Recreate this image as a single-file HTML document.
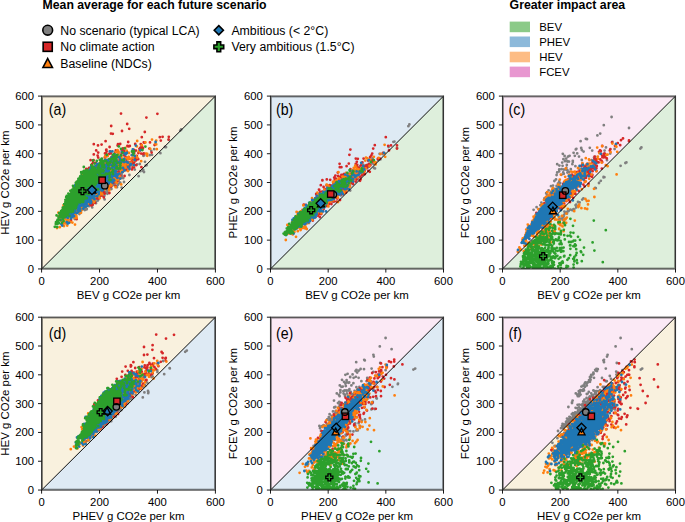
<!DOCTYPE html><html><head><meta charset="utf-8"><style>html,body{margin:0;padding:0;background:#fff;overflow:hidden}svg{display:block}</style></head><body>
<svg width="685" height="522" viewBox="0 0 685 522" font-family="Liberation Sans, sans-serif">
<text x="42.6" y="9" font-weight="bold" font-size="12.25">Mean average for each future scenario</text>
<text x="509.6" y="9" font-weight="bold" font-size="12.3">Greater impact area</text>
<circle cx="47.70" cy="30.20" r="4.90" fill="#7f7f7f" stroke="#000" stroke-width="1.6" stroke-linejoin="miter"/>
<text x="60.3" y="34.8" font-size="12.3">No scenario (typical LCA)</text>
<rect x="43.14" y="42.24" width="9.11" height="9.11" fill="#d62728" stroke="#000" stroke-width="1.6" stroke-linejoin="miter"/>
<text x="60.3" y="51.4" font-size="12.3">No climate action</text>
<path d="M47.70 58.50L52.45 67.50L42.95 67.50Z" fill="#ff7f0e" stroke="#000" stroke-width="1.6" stroke-linejoin="miter"/>
<text x="60.3" y="68.1" font-size="12.3">Baseline (NDCs)</text>
<path d="M218.80 25.62L223.38 30.20L218.80 34.78L214.22 30.20Z" fill="#1f77b4" stroke="#000" stroke-width="1.6" stroke-linejoin="miter"/>
<text x="231.4" y="34.8" font-size="12.3">Ambitious (&lt; 2°C)</text>
<path d="M216.94 41.90L220.66 41.90L220.66 44.94L223.70 44.94L223.70 48.66L220.66 48.66L220.66 51.70L216.94 51.70L216.94 48.66L213.90 48.66L213.90 44.94L216.94 44.94Z" fill="#2ca02c" stroke="#000" stroke-width="1.6" stroke-linejoin="miter"/>
<text x="231.4" y="51.4" font-size="12.3">Very ambitious (1.5°C)</text>
<rect x="509.7" y="21.6" width="20.3" height="10.6" fill="#8bca88"/>
<text x="539.2" y="31.2" font-size="11.4">BEV</text>
<rect x="509.7" y="36.5" width="20.3" height="10.6" fill="#8cb9da"/>
<text x="539.2" y="46.1" font-size="11.4">PHEV</text>
<rect x="509.7" y="51.7" width="20.3" height="10.6" fill="#fdbc84"/>
<text x="539.2" y="61.3" font-size="11.4">HEV</text>
<rect x="509.7" y="66.6" width="20.3" height="10.6" fill="#e897d0"/>
<text x="539.2" y="76.2" font-size="11.4">FCEV</text>
<clipPath id="ca"><rect x="41.60" y="96.10" width="173.80" height="172.85"/></clipPath>
<path d="M41.60 96.10L215.40 96.10L41.60 268.95Z" fill="#f9f1de"/>
<path d="M215.40 96.10L215.40 268.95L41.60 268.95Z" fill="#deefdc"/>
<g clip-path="url(#ca)"><g transform="scale(0.2)" fill="none" stroke-linecap="round" stroke-width="14"><path stroke="#7f7f7f" d="M354 1083h0m0 16h0m10-31h0m0 17h0m10 10h0m5-43h0m6-10h0m6 7h0m6 21h0m1-35h0m5-19h0m0 10h0m1 5h0m0 12h0m1 9h0m1-8h0m1-6h0m2 8h0m1-43h0m1 19h0m1-47h0m2 29h0m3 39h0m1-11h0m0 5h0m1-23h0m2 33h0m3 3h0m2-15h0m1-30h0m0 18h0m1-25h0m1 5h0m2-20h0m1 18h0m0 6h0m0 4h0m1 36h0m1-37h0m0 35h0m1-24h0m0 6h0m1-44h0m0 31h0m1-9h0m2-45h0m0 9h0m0 27h0m1 20h0m1-23h0m0 30h0m2-12h0m2 13h0m0 7h0m2-39h0m0 3h0m1 12h0m1-4h0m0 12h0m1-1h0m2-51h0m0 34h0m0 4h0m1-34h0m1 7h0m0 18h0m2 2h0m0 4h0m0 26h0m2-89h0m0 42h0m0 30h0m3-30h0m0 19h0m0 41h0m1-101h0m1 56h0m1 1h0m0 7h0m0 22h0m1-56h0m0 13h0m1 31h0m0 1h0m1-74h0m0 44h0m1-13h0m0 19h0m0 14h0m1-84h0m0 51h0m0 27h0m2-42h0m1 24h0m0 17h0m0 12h0m1-18h0m1-13h0m2-12h0m1 32h0m1-64h0m0 30h0m0 32h0m1 17h0m1-41h0m0 47h0m1-72h0m0 23h0m1-20h0m1-24h0m0 14h0m0 41h0m2 3h0m0 14h0m1-21h0m0 19h0m1-56h0m1 22h0m1 44h0m1-60h0m0 13h0m1-16h0m0 57h0m1-46h0m0 47h0m1-51h0m0 11h0m1-7h0m0 19h0m1-42h0m0 4h0m0 27h0m0 6h0m0 12h0m1-49h0m0 28h0m2-34h0m0 55h0m1-41h0m0 18h0m1 5h0m0 6h0m0 17h0m2-17h0m1-32h0m1 29h0m0 11h0m1-17h0m1-7h0m0 25h0m2-89h0m0 49h0m0 2h0m1-39h0m0 45h0m1-9h0m0 27h0m0 0h0m1-58h0m0 47h0m1-32h0m1-38h0m0 91h0m1-57h0m1 36h0m0 1h0m0 5h0m1-7h0m0 23h0m1-25h0m0 18h0m1-10h0m1-32h0m0 3h0m0 27h0m1-49h0m0 69h0m1-35h0m1-19h0m0 24h0m0 2h0m0 35h0m1-94h0m0 32h0m0 27h0m0 53h0m1-75h0m0 38h0m2-18h0m1 0h0m1-37h0m0 15h0m1 16h0m0 3h0m2 6h0m1-10h0m0 9h0m0 1h0m2-17h0m0 2h0m0 1h0m0 33h0m0 0h0m1-13h0m2-44h0m0 15h0m0 47h0m1-28h0m0 21h0m1-44h0m0 44h0m1-16h0m1-1h0m1-48h0m0 8h0m0 16h0m1-39h0m0 25h0m0 13h0m1 8h0m1-31h0m0 11h0m1-19h0m3-5h0m0 20h0m0 19h0m1 3h0m0 5h0m0 8h0m1 3h0m1-14h0m1-26h0m1 40h0m1-9h0m2 12h0m1-22h0m1 1h0m1-13h0m1-4h0m0 18h0m0 2h0m2-17h0m0 1h0m2-56h0m0 35h0m1 19h0m1-2h0m1-58h0m1 73h0m2-20h0m0 23h0m3-56h0m1-10h0m1 18h0m0 3h0m2 25h0m0 3h0m0 7h0m1-33h0m1 33h0m1-17h0m2-23h0m0 16h0m0 2h0m0 6h0m1-15h0m1 9h0m0 43h0m2-74h0m3 62h0m2-4h0m1-32h0m0 14h0m1-36h0m1 23h0m1-33h0m4-18h0m1 19h0m0 56h0m2-28h0m1-41h0m0 25h0m0 7h0m2-4h0m0 15h0m0 0h0m1-58h0m1 42h0m0 19h0m0 48h0m1-81h0m0 2h0m1 23h0m5-49h0m1 58h0m4 19h0m1-72h0m5-1h0m7 3h0m13-25h0m1 20h0m0 40h0m8-51h0m3-48h0m10 27h0m6-7h0m0 52h0m2-65h0m9 39h0m8 59h0m6-61h0m3 36h0m14-7h0m0 6h0m1-76h0m3 81h0m1-83h0m4 32h0m3 19h0m5-2h0m16-50h0m7-22h0m4 20h0m11-28h0m31 20h0m23-31h0m5 1h0m14-37h0m57-46h0m5-6h0"/><path stroke="#d62728" d="M344 1050h0m5-46h0m5 23h0m1 6h0m0 68h0m6-144h0m4 57h0m2-39h0m1 49h0m5-46h0m0 28h0m2 41h0m1-106h0m0 60h0m0 30h0m1-54h0m1 50h0m1-58h0m0 29h0m0 27h0m0 6h0m1-18h0m0 35h0m1-25h0m2-1h0m0 74h0m2-160h0m0 42h0m0 77h0m1-97h0m1 35h0m1 10h0m0 31h0m1-89h0m0 69h0m1 14h0m2 2h0m1-24h0m0 38h0m1-26h0m2-82h0m0 14h0m0 37h0m1-27h0m0 39h0m2-80h0m0 13h0m0 82h0m0 26h0m1-117h0m1 124h0m2-30h0m0 19h0m1-119h0m1 31h0m0 46h0m0 5h0m0 4h0m1-72h0m0 44h0m0 20h0m2 31h0m0 3h0m1-72h0m0 17h0m1 30h0m0 5h0m1-1h0m1-97h0m0 91h0m0 14h0m0 22h0m1-89h0m0 9h0m1-63h0m0 72h0m0 44h0m1-82h0m0 15h0m0 10h0m0 17h0m0 13h0m0 5h0m0 44h0m1-160h0m0 99h0m0 6h0m3 7h0m1-23h0m0 27h0m2-59h0m0 16h0m0 63h0m0 1h0m0 7h0m0 13h0m1-73h0m0 51h0m0 2h0m1-78h0m0 87h0m1-65h0m0 32h0m1-75h0m0 39h0m0 44h0m1-140h0m0 99h0m0 18h0m1-60h0m0 7h0m0 45h0m1-6h0m0 28h0m1-11h0m0 14h0m0 2h0m1-145h0m0 141h0m0 8h0m0 13h0m1-87h0m0 9h0m0 30h0m1-30h0m0 24h0m0 23h0m0 8h0m0 13h0m1-79h0m0 10h0m0 62h0m2-101h0m0 3h0m1-7h0m0 32h0m0 80h0m0 17h0m1-90h0m0 44h0m0 16h0m0 8h0m1-1h0m1-59h0m0 65h0m0 6h0m1-159h0m0 22h0m0 22h0m0 8h0m0 26h0m0 3h0m0 40h0m1-46h0m0 26h0m1-92h0m0 29h0m0 62h0m0 24h0m0 13h0m0 7h0m0 35h0m1-55h0m1-99h0m0 15h0m0 24h0m0 67h0m1-135h0m0 82h0m0 12h0m0 6h0m0 11h0m0 3h0m0 8h0m0 3h0m1-117h0m0 11h0m0 104h0m1 25h0m2-118h0m0 26h0m0 19h0m0 1h0m0 5h0m0 40h0m1-74h0m0 24h0m0 10h0m0 11h0m0 1h0m0 75h0m1-132h0m0 22h0m1-97h0m0 128h0m0 9h0m0 18h0m1-79h0m0 55h0m0 24h0m0 10h0m2-80h0m0 65h0m0 76h0m1-202h0m0 94h0m0 77h0m1-130h0m0 56h0m0 13h0m0 2h0m0 4h0m0 10h0m0 13h0m1-109h0m0 93h0m1-99h0m0 105h0m0 46h0m0 11h0m1-191h0m0 33h0m0 54h0m0 12h0m0 44h0m0 6h0m0 5h0m1-127h0m0 73h0m0 1h0m1-1h0m0 24h0m0 16h0m0 64h0m1-55h0m1-54h0m0 16h0m1-120h0m0 56h0m0 62h0m0 25h0m0 10h0m0 19h0m1-137h0m0 80h0m0 2h0m0 13h0m0 40h0m1-180h0m0 69h0m0 22h0m0 18h0m0 20h0m1-209h0m0 51h0m0 130h0m0 10h0m0 1h0m0 11h0m0 42h0m1-63h0m0 5h0m0 29h0m0 4h0m1-99h0m0 114h0m0 12h0m0 9h0m1-61h0m0 24h0m1-88h0m0 15h0m0 21h0m0 38h0m1-57h0m0 35h0m0 52h0m1-120h0m0 15h0m0 86h0m0 6h0m0 16h0m0 14h0m0 41h0m1-138h0m1 32h0m0 37h0m1-112h0m0 136h0m1-154h0m0 95h0m0 12h0m0 8h0m2-178h0m0 198h0m0 3h0m1-85h0m0 12h0m0 21h0m0 32h0m1-52h0m0 93h0m1-79h0m0 58h0m1-121h0m0 103h0m0 27h0m0 12h0m0 17h0m1-159h0m0 41h0m0 19h0m0 6h0m1 13h0m0 20h0m1-153h0m0 46h0m0 23h0m0 16h0m0 59h0m0 16h0m0 14h0m1-81h0m0 23h0m0 35h0m1-202h0m0 173h0m0 4h0m0 30h0m1-171h0m0 25h0m0 61h0m0 97h0m0 47h0m1-144h0m0 31h0m1-21h0m1 30h0m0 72h0m1-76h0m1-53h0m0 1h0m0 32h0m0 12h0m0 66h0m0 21h0m1-122h0m0 50h0m0 15h0m0 24h0m1-71h0m0 86h0m1-33h0m0 11h0m1-99h0m0 16h0m0 51h0m0 13h0m0 36h0m1-91h0m0 93h0m0 3h0m2-64h0m0 29h0m0 49h0m1-97h0m0 114h0m1-136h0m0 42h0m0 23h0m1-88h0m0 75h0m1 49h0m1-219h0m0 153h0m0 73h0m1-53h0m0 22h0m0 12h0m1 48h0m1-149h0m0 6h0m0 79h0m1-80h0m0 50h0m0 43h0m1-73h0m0 6h0m0 73h0m1-101h0m0 65h0m0 29h0m1-28h0m0 30h0m1-67h0m0 1h0m0 11h0m0 0h0m0 4h0m0 22h0m0 4h0m0 7h0m1-76h0m0 15h0m0 33h0m0 8h0m1-48h0m0 60h0m0 1h0m1-93h0m0 31h0m0 80h0m0 31h0m0 11h0m0 24h0m1-138h0m0 50h0m1-26h0m1-3h0m0 9h0m0 3h0m0 26h0m1-20h0m0 8h0m0 9h0m0 14h0m0 5h0m1-137h0m0 39h0m0 142h0m1-201h0m0 89h0m0 30h0m1 17h0m1-14h0m0 2h0m1-185h0m0 100h0m0 127h0m1-132h0m0 20h0m0 56h0m0 51h0m1-97h0m0 39h0m0 22h0m0 17h0m0 33h0m1-192h0m0 19h0m0 103h0m0 24h0m1-148h0m0 94h0m0 30h0m0 14h0m1-129h0m0 59h0m0 29h0m0 23h0m0 49h0m1-136h0m0 57h0m1 33h0m0 43h0m1-51h0m0 70h0m1-95h0m0 35h0m0 16h0m2 20h0m1-99h0m0 53h0m0 14h0m1-33h0m0 52h0m0 32h0m1-86h0m0 1h0m0 51h0m0 0h0m0 18h0m0 1h0m0 1h0m1 3h0m1-76h0m1-7h0m0 55h0m1-120h0m0 94h0m1 18h0m0 16h0m0 68h0m1-230h0m1 113h0m0 26h0m0 16h0m1-83h0m1 35h0m0 17h0m0 55h0m1-157h0m0 55h0m0 17h0m2 16h0m0 58h0m1-235h0m0 99h0m0 45h0m1-182h0m0 220h0m0 83h0m1-146h0m0 62h0m0 50h0m1 1h0m1-104h0m0 85h0m0 8h0m1-16h0m0 18h0m1-29h0m1-37h0m0 9h0m0 42h0m1 9h0m1-216h0m0 113h0m0 107h0m2-43h0m0 16h0m0 11h0m0 15h0m0 13h0m0 12h0m1-53h0m0 54h0m1-67h0m0 26h0m1 1h0m1-34h0m0 21h0m1-82h0m1 16h0m1 53h0m1-52h0m0 42h0m0 5h0m0 19h0m0 30h0m0 13h0m1-93h0m1-49h0m0 64h0m0 27h0m0 1h0m0 19h0m1-18h0m0 47h0m1-106h0m0 21h0m0 53h0m0 58h0m1-177h0m0 85h0m1-26h0m0 15h0m1-13h0m0 22h0m0 6h0m1-30h0m0 16h0m1 39h0m0 5h0m1-85h0m0 94h0m2-6h0m0 11h0m1-45h0m0 52h0m0 16h0m1-180h0m0 94h0m1 7h0m1-108h0m0 137h0m1-101h0m0 61h0m2-9h0m0 32h0m0 22h0m1-64h0m2 27h0m1 3h0m2-4h0m1 19h0m1-124h0m0 157h0m1-17h0m1-49h0m2-243h0m1 281h0m2-82h0m1-14h0m0 60h0m1-158h0m4 155h0m1-68h0m0 116h0m1-46h0m3 14h0m1 0h0m0 20h0m0 2h0m1-94h0m0 23h0m1-12h0m1 69h0m0 4h0m0 42h0m1-48h0m2-6h0m1-17h0m1 26h0m1-48h0m0 44h0m1-14h0m0 33h0m3-52h0m2-38h0m0 71h0m1-211h0m0 207h0m0 23h0m1-120h0m3 62h0m1-82h0m0 103h0m2-81h0m1 54h0m0 9h0m0 39h0m1 5h0m1-195h0m0 179h0m1 1h0m2-94h0m3 82h0m4-16h0m1 21h0m3-21h0m0 1h0m0 13h0m0 37h0m2-50h0m1-37h0m0 76h0m5-26h0m0 10h0m1-59h0m1-11h0m0 87h0m1-72h0m0 47h0m5-92h0m2 78h0m1-9h0m1-36h0m0 49h0m1 24h0m3-47h0m7 17h0m1-31h0m5-21h0m2 9h0m2-14h0m3-18h0m2 47h0m1 68h0m1-100h0m1-50h0m0 43h0m1 19h0m5-8h0m2 31h0m2-59h0m0 55h0m3-53h0m2-54h0m8-72h0m15 155h0m3-31h0m8 51h0m15-38h0m14-156h0m12 117h0m5 17h0m9-19h0m30 14h0m1-14h0"/><path stroke="#ff7f0e" d="M285 1140h0m7-77h0m2 18h0m3 9h0m2 46h0m9-51h0m0 20h0m2-9h0m5 24h0m3-94h0m0 10h0m2 17h0m0 77h0m2-77h0m1 27h0m0 32h0m1-54h0m1 15h0m1-19h0m1 26h0m0 15h0m1-52h0m0 74h0m3-68h0m2 52h0m2-55h0m1 5h0m0 77h0m2-90h0m1-52h0m0 42h0m0 52h0m1 3h0m1-30h0m0 27h0m0 1h0m0 24h0m1-43h0m0 17h0m0 17h0m2-57h0m0 17h0m1-37h0m0 91h0m1-69h0m1-64h0m1 73h0m0 0h0m0 19h0m2-19h0m0 32h0m0 2h0m2-52h0m0 38h0m1 40h0m1-91h0m1 31h0m1-15h0m0 7h0m0 15h0m1-89h0m0 62h0m2 50h0m1-92h0m0 27h0m0 30h0m0 20h0m1-34h0m1-61h0m0 12h0m0 74h0m0 57h0m1-86h0m0 46h0m0 8h0m1-94h0m0 41h0m1-29h0m0 40h0m1-42h0m0 2h0m0 2h0m0 22h0m0 59h0m1-62h0m0 5h0m0 17h0m1-46h0m0 11h0m0 0h0m0 16h0m0 5h0m0 2h0m2-49h0m0 31h0m1-40h0m0 88h0m1-33h0m0 46h0m1-111h0m0 76h0m1-38h0m0 1h0m0 9h0m0 23h0m0 25h0m1-50h0m0 16h0m0 34h0m0 31h0m0 34h0m1-139h0m0 26h0m0 54h0m1-89h0m2 66h0m0 25h0m1-80h0m0 6h0m0 30h0m0 29h0m0 27h0m1-113h0m0 58h0m0 17h0m1-52h0m0 51h0m0 42h0m1-58h0m0 66h0m1-91h0m0 26h0m1-13h0m0 33h0m0 10h0m1-76h0m0 14h0m0 17h0m0 8h0m1-46h0m1-56h0m0 70h0m0 27h0m0 11h0m1-81h0m0 20h0m0 20h0m0 33h0m0 26h0m0 19h0m1-132h0m0 41h0m0 18h0m0 4h0m0 11h0m0 13h0m0 15h0m0 1h0m1-60h0m0 31h0m0 2h0m0 8h0m0 13h0m0 9h0m0 8h0m1-68h0m2-33h0m0 70h0m1-53h0m0 52h0m0 32h0m1-107h0m0 67h0m0 9h0m0 6h0m0 10h0m0 5h0m1-100h0m0 31h0m0 18h0m0 3h0m1-50h0m0 38h0m1-48h0m0 38h0m0 16h0m1-47h0m0 47h0m0 9h0m0 5h0m0 31h0m0 12h0m1 28h0m1-82h0m0 28h0m0 14h0m0 37h0m1-75h0m0 27h0m0 0h0m1-79h0m0 8h0m0 59h0m1-64h0m0 21h0m0 16h0m0 13h0m0 78h0m1-63h0m0 0h0m0 8h0m0 0h0m0 32h0m1-118h0m0 28h0m0 25h0m0 3h0m0 4h0m0 24h0m1-85h0m0 103h0m0 26h0m1-86h0m0 29h0m0 5h0m0 27h0m1-94h0m0 32h0m0 21h0m0 18h0m1-37h0m0 9h0m0 21h0m0 6h0m0 37h0m1-79h0m0 4h0m0 8h0m0 40h0m0 0h0m0 20h0m1-83h0m0 6h0m0 44h0m0 28h0m0 8h0m1-85h0m0 22h0m0 4h0m0 19h0m1-71h0m0 72h0m1-81h0m0 21h0m0 10h0m0 3h0m1-76h0m0 50h0m0 24h0m0 62h0m1-59h0m0 12h0m0 9h0m1-9h0m0 22h0m0 8h0m0 33h0m1-70h0m0 64h0m0 17h0m1-64h0m0 20h0m0 8h0m0 1h0m0 31h0m1-121h0m0 8h0m0 49h0m0 26h0m1-91h0m0 87h0m0 15h0m0 14h0m1-86h0m0 23h0m0 13h0m0 11h0m1 11h0m0 1h0m1-78h0m0 19h0m0 8h0m0 9h0m0 30h0m0 10h0m0 33h0m1-50h0m1-73h0m0 46h0m0 40h0m0 21h0m0 9h0m0 17h0m0 2h0m1-95h0m0 8h0m0 56h0m1-80h0m0 8h0m0 3h0m0 16h0m0 4h0m0 2h0m0 20h0m0 12h0m1-61h0m0 3h0m0 14h0m0 43h0m0 9h0m0 10h0m1-39h0m0 8h0m0 26h0m1-71h0m0 4h0m0 16h0m1 75h0m1-89h0m0 22h0m0 1h0m0 5h0m0 6h0m0 3h0m0 7h0m0 10h0m0 12h0m1-97h0m0 30h0m0 8h0m0 19h0m0 20h0m0 6h0m0 15h0m0 3h0m0 8h0m1-103h0m0 14h0m0 33h0m1-37h0m0 7h0m0 13h0m0 3h0m0 18h0m1 30h0m0 27h0m1-116h0m0 6h0m0 39h0m0 16h0m0 7h0m0 24h0m1-140h0m0 25h0m0 47h0m0 24h0m1-76h0m0 33h0m0 32h0m0 1h0m0 8h0m1-81h0m0 13h0m0 22h0m0 26h0m0 37h0m0 14h0m1-57h0m0 20h0m0 11h0m0 13h0m1-98h0m0 33h0m0 1h0m0 7h0m0 2h0m0 44h0m0 21h0m0 3h0m0 25h0m1-113h0m0 50h0m0 8h0m0 4h0m0 7h0m1-79h0m0 81h0m1-92h0m0 35h0m0 37h0m1-94h0m0 111h0m0 6h0m0 18h0m1-102h0m0 18h0m0 33h0m0 13h0m0 32h0m1-41h0m0 9h0m1 37h0m1-53h0m0 7h0m0 23h0m0 32h0m1-47h0m0 13h0m1-105h0m0 28h0m0 40h0m0 68h0m1-53h0m0 13h0m0 24h0m1-80h0m0 32h0m0 44h0m1-45h0m0 21h0m0 8h0m0 0h0m0 17h0m0 3h0m1-116h0m0 15h0m0 50h0m0 49h0m0 9h0m1-74h0m0 15h0m0 20h0m0 9h0m0 1h0m1-90h0m0 65h0m0 7h0m0 14h0m0 2h0m1-23h0m0 18h0m0 10h0m1-44h0m0 27h0m0 7h0m0 23h0m0 1h0m0 13h0m1-141h0m0 55h0m0 20h0m0 10h0m0 76h0m1-143h0m0 84h0m0 14h0m0 8h0m0 8h0m1-82h0m0 19h0m0 70h0m0 3h0m1-39h0m0 16h0m0 5h0m1-97h0m0 41h0m1-9h0m0 19h0m0 14h0m0 40h0m0 38h0m1-110h0m0 4h0m0 33h0m0 10h0m1-24h0m0 63h0m1-105h0m0 11h0m0 5h0m0 17h0m0 11h0m1-77h0m0 23h0m0 42h0m0 88h0m2-151h0m0 47h0m0 33h0m0 31h0m1-86h0m0 61h0m1-8h0m0 3h0m1-34h0m0 7h0m0 77h0m1-96h0m0 13h0m0 59h0m0 4h0m1-61h0m0 27h0m0 41h0m1 6h0m1-72h0m1-27h0m0 23h0m0 22h0m3-15h0m0 27h0m1-41h0m0 52h0m1-69h0m0 10h0m0 35h0m0 37h0m1-120h0m0 38h0m0 60h0m1-80h0m0 36h0m0 11h0m0 23h0m0 52h0m1-10h0m1 13h0m1-86h0m0 33h0m1-81h0m0 55h0m0 11h0m0 9h0m0 29h0m1-131h0m0 25h0m0 39h0m0 40h0m1-33h0m0 6h0m0 8h0m0 1h0m0 9h0m0 30h0m1-22h0m1 52h0m1-130h0m0 22h0m0 10h0m0 24h0m0 24h0m0 2h0m0 7h0m0 28h0m0 30h0m1-134h0m1-45h0m0 74h0m0 50h0m1-29h0m0 51h0m1-109h0m0 10h0m0 50h0m2-28h0m0 55h0m1 3h0m0 6h0m1-36h0m0 1h0m1-86h0m0 30h0m0 43h0m0 70h0m1-73h0m1 28h0m0 11h0m1-12h0m0 51h0m1-59h0m0 14h0m0 1h0m0 21h0m1-115h0m0 38h0m0 24h0m1 40h0m0 13h0m1-102h0m0 14h0m0 18h0m0 5h0m1-30h0m0 23h0m0 53h0m0 11h0m1-69h0m0 11h0m0 15h0m0 12h0m0 5h0m0 9h0m0 0h0m0 4h0m0 20h0m1-115h0m0 68h0m0 35h0m1-44h0m0 5h0m0 18h0m1-74h0m0 27h0m0 50h0m1-37h0m0 33h0m0 5h0m0 5h0m1-109h0m0 134h0m1-74h0m0 32h0m0 4h0m1-20h0m0 32h0m0 17h0m1-103h0m0 8h0m1-64h0m0 12h0m0 109h0m1-24h0m0 7h0m0 9h0m1-88h0m0 55h0m0 21h0m0 29h0m0 3h0m0 17h0m1-14h0m0 14h0m1-31h0m1-48h0m0 43h0m0 22h0m1-3h0m3-55h0m0 5h0m0 47h0m1-2h0m3-130h0m1 121h0m1 9h0m1-45h0m0 15h0m0 0h0m1-14h0m0 24h0m1 50h0m1-127h0m0 98h0m1-76h0m0 63h0m0 55h0m1-2h0m1-88h0m0 67h0m1-98h0m1-7h0m0 8h0m0 83h0m1-111h0m0 41h0m0 64h0m2-102h0m0 33h0m0 7h0m0 4h0m1 22h0m1 44h0m1-50h0m1 60h0m1-101h0m0 75h0m1-57h0m1 48h0m2-65h0m0 16h0m0 10h0m1 11h0m1 0h0m0 20h0m0 1h0m2-66h0m0 47h0m2 24h0m1-58h0m1-26h0m1 40h0m0 6h0m0 17h0m4-26h0m1-37h0m0 21h0m1 69h0m1-13h0m0 24h0m0 29h0m2-175h0m0 40h0m3 66h0m1 47h0m2-83h0m0 10h0m1-37h0m1-53h0m1 28h0m0 20h0m0 20h0m0 79h0m4-136h0m0 5h0m0 64h0m3 7h0m1 30h0m1-35h0m0 49h0m1 12h0m5-65h0m0 13h0m0 5h0m2-63h0m0 75h0m0 63h0m1-121h0m2 37h0m1 18h0m1-39h0m1-23h0m1 32h0m5 11h0m0 17h0m3-26h0m1-9h0m0 8h0m0 1h0m1-13h0m1-19h0m0 30h0m2-35h0m1-52h0m2 99h0m2-22h0m0 18h0m2-81h0m0 14h0m5 23h0m0 2h0m1 30h0m1-26h0m0 59h0m3-71h0m0 65h0m1-61h0m0 26h0m1-49h0m8 30h0m2 18h0m9-25h0m4 40h0m1-25h0m11-22h0m4-49h0m2-27h0m1 83h0m8-31h0m11 49h0m3-80h0m18-14h0m3 56h0m6 2h0m0 9h0m15-35h0m9-46h0m17 21h0m4-16h0m0 19h0m3 24h0"/><path stroke="#1f77b4" d="M285 1108h0m19-8h0m3 21h0m4 7h0m1-43h0m1-22h0m2 12h0m3-23h0m4 31h0m2-2h0m1-42h0m0 11h0m1 17h0m1 14h0m1-14h0m1-46h0m0 31h0m0 16h0m2 18h0m3 25h0m1-82h0m0 9h0m0 10h0m0 1h0m0 1h0m1 10h0m1-9h0m0 27h0m0 4h0m1-72h0m0 56h0m1-42h0m0 65h0m0 29h0m1-70h0m2-26h0m0 53h0m1-61h0m0 15h0m0 45h0m1-36h0m0 36h0m1 40h0m1-113h0m0 12h0m2-24h0m1 2h0m0 54h0m1-69h0m0 96h0m0 2h0m1-40h0m0 32h0m1-21h0m0 4h0m1 8h0m1 15h0m1-62h0m0 82h0m1-75h0m0 16h0m0 51h0m1-111h0m0 9h0m0 17h0m0 24h0m0 32h0m1-52h0m0 18h0m0 20h0m0 1h0m0 6h0m2 0h0m0 21h0m1-77h0m0 82h0m1-94h0m0 10h0m0 19h0m0 27h0m0 48h0m1-111h0m0 4h0m0 2h0m0 29h0m0 10h0m0 4h0m0 14h0m0 15h0m0 16h0m0 7h0m1-117h0m0 57h0m0 10h0m0 11h0m0 32h0m1-51h0m0 6h0m1-23h0m0 1h0m0 25h0m0 2h0m1-16h0m0 1h0m0 6h0m0 21h0m1-33h0m0 17h0m0 29h0m1-120h0m0 26h0m0 59h0m0 48h0m1-13h0m0 29h0m1-70h0m0 9h0m0 11h0m0 8h0m0 12h0m0 6h0m1-105h0m0 24h0m0 12h0m0 18h0m0 11h0m0 2h0m0 33h0m1-117h0m0 36h0m0 65h0m1-89h0m0 10h0m0 11h0m0 7h0m0 24h0m0 15h0m0 20h0m1-39h0m0 11h0m0 3h0m0 42h0m1-64h0m0 27h0m0 38h0m1-127h0m0 15h0m0 50h0m0 25h0m0 17h0m0 0h0m0 1h0m0 0h0m0 4h0m1-61h0m0 20h0m0 20h0m1-91h0m0 40h0m0 5h0m0 31h0m0 29h0m0 5h0m1-78h0m0 1h0m0 31h0m0 43h0m0 31h0m1-105h0m0 34h0m0 21h0m1-57h0m0 37h0m1-73h0m0 57h0m0 16h0m0 20h0m0 11h0m1-67h0m0 5h0m0 24h0m0 8h0m0 13h0m0 7h0m0 3h0m0 49h0m1-126h0m0 23h0m0 5h0m0 3h0m0 0h0m0 7h0m0 5h0m0 7h0m0 40h0m0 8h0m0 1h0m1-109h0m0 12h0m0 22h0m0 19h0m0 17h0m0 9h0m0 13h0m1-88h0m0 10h0m0 4h0m0 9h0m0 4h0m0 9h0m0 1h0m0 63h0m1-122h0m0 36h0m0 57h0m1-87h0m0 60h0m0 2h0m0 6h0m0 15h0m0 6h0m0 0h0m0 28h0m1-109h0m0 8h0m0 14h0m0 62h0m0 27h0m0 9h0m0 5h0m1-81h0m0 12h0m0 17h0m0 3h0m0 36h0m0 22h0m1-120h0m0 40h0m0 2h0m0 20h0m1-90h0m0 23h0m0 18h0m0 2h0m0 15h0m0 0h0m0 29h0m0 4h0m0 5h0m0 1h0m1-99h0m0 4h0m0 5h0m0 15h0m0 19h0m0 51h0m0 6h0m0 20h0m1-134h0m0 27h0m0 12h0m0 1h0m0 9h0m0 2h0m0 18h0m0 0h0m0 90h0m1-91h0m0 8h0m0 22h0m0 12h0m0 7h0m0 0h0m0 6h0m0 0h0m1-45h0m0 11h0m0 2h0m0 33h0m1-112h0m0 23h0m0 20h0m0 14h0m0 21h0m0 8h0m0 18h0m0 24h0m1-111h0m0 21h0m0 3h0m0 24h0m0 3h0m0 10h0m0 2h0m0 21h0m1-94h0m0 21h0m0 51h0m1-86h0m0 36h0m0 26h0m0 13h0m0 10h0m0 9h0m0 3h0m0 26h0m0 22h0m0 8h0m1-142h0m0 28h0m0 3h0m0 11h0m0 0h0m0 5h0m0 0h0m0 8h0m0 27h0m0 15h0m0 11h0m0 11h0m1-67h0m0 17h0m0 23h0m0 24h0m0 2h0m1-92h0m0 2h0m0 45h0m0 23h0m0 5h0m1-77h0m0 16h0m0 16h0m0 0h0m0 16h0m0 21h0m0 20h0m1-107h0m0 7h0m0 7h0m0 11h0m0 13h0m0 18h0m0 7h0m0 1h0m0 24h0m0 9h0m1-130h0m0 28h0m0 9h0m0 21h0m0 13h0m0 24h0m1-98h0m0 59h0m0 7h0m0 2h0m0 14h0m0 51h0m1-64h0m0 31h0m0 1h0m0 4h0m0 0h0m0 8h0m0 32h0m1-138h0m0 2h0m0 25h0m0 18h0m0 16h0m0 17h0m0 17h0m1-81h0m0 1h0m0 28h0m0 13h0m0 23h0m0 1h0m0 18h0m0 15h0m0 3h0m0 14h0m1-78h0m0 24h0m0 26h0m0 17h0m1-106h0m0 39h0m0 24h0m0 17h0m0 3h0m0 26h0m0 0h0m1-118h0m0 35h0m0 3h0m0 7h0m0 3h0m0 11h0m0 16h0m0 5h0m0 20h0m0 1h0m0 0h0m0 29h0m1-107h0m0 21h0m0 22h0m0 2h0m0 24h0m0 43h0m1-134h0m0 15h0m0 16h0m0 3h0m0 3h0m0 31h0m0 5h0m0 1h0m0 75h0m1-113h0m0 38h0m0 11h0m0 6h0m1-94h0m0 39h0m0 25h0m0 12h0m0 28h0m0 13h0m0 10h0m1-132h0m0 59h0m0 24h0m0 18h0m0 8h0m0 11h0m0 14h0m1-108h0m0 21h0m0 4h0m0 10h0m0 4h0m0 18h0m0 4h0m0 7h0m0 37h0m0 10h0m1-124h0m0 29h0m0 31h0m0 0h0m0 15h0m0 0h0m1-44h0m0 2h0m0 7h0m0 3h0m0 1h0m0 9h0m0 1h0m0 0h0m0 35h0m0 11h0m1-44h0m0 9h0m0 21h0m0 47h0m1-92h0m0 7h0m0 9h0m0 1h0m0 14h0m0 6h0m0 50h0m1-163h0m0 39h0m0 15h0m0 12h0m0 3h0m0 16h0m0 5h0m0 37h0m0 14h0m0 12h0m1-96h0m0 11h0m0 6h0m0 50h0m1-76h0m0 4h0m0 9h0m0 14h0m0 12h0m0 42h0m1-124h0m0 25h0m0 9h0m0 12h0m0 5h0m0 59h0m0 4h0m0 29h0m1-130h0m0 34h0m0 19h0m0 25h0m0 3h0m0 9h0m0 7h0m0 1h0m0 1h0m0 6h0m1-108h0m0 24h0m0 31h0m0 10h0m0 6h0m0 1h0m0 8h0m0 1h0m0 6h0m0 11h0m0 15h0m0 37h0m1-149h0m0 10h0m0 0h0m0 13h0m0 9h0m0 22h0m0 15h0m0 15h0m0 4h0m0 19h0m1-100h0m0 26h0m0 3h0m0 10h0m0 10h0m0 2h0m0 23h0m0 4h0m0 8h0m0 7h0m0 0h0m0 18h0m1-149h0m0 50h0m0 12h0m0 1h0m0 11h0m0 7h0m0 15h0m0 1h0m0 1h0m0 60h0m0 7h0m1-122h0m0 17h0m0 10h0m0 8h0m0 19h0m0 5h0m1-56h0m0 8h0m0 11h0m0 15h0m0 2h0m0 14h0m0 38h0m0 12h0m1-132h0m0 13h0m0 34h0m0 6h0m0 9h0m0 14h0m0 18h0m0 8h0m0 16h0m0 15h0m1-114h0m0 52h0m0 10h0m0 0h0m0 17h0m0 8h0m0 7h0m0 26h0m1-140h0m0 8h0m0 23h0m0 0h0m0 4h0m0 19h0m0 37h0m0 6h0m0 9h0m0 5h0m0 16h0m0 16h0m0 19h0m1-141h0m0 2h0m0 0h0m0 34h0m0 21h0m0 19h0m0 8h0m0 3h0m0 8h0m0 16h0m0 3h0m1-122h0m0 11h0m0 15h0m0 2h0m0 3h0m0 4h0m0 32h0m0 44h0m1-110h0m0 11h0m0 10h0m0 54h0m0 11h0m0 0h0m0 10h0m0 9h0m0 11h0m1-123h0m0 15h0m0 47h0m0 16h0m0 13h0m0 18h0m0 3h0m1-80h0m0 5h0m0 41h0m0 26h0m0 28h0m1-62h0m1-87h0m0 76h0m0 1h0m0 2h0m0 15h0m0 2h0m0 21h0m1-116h0m0 36h0m0 49h0m0 19h0m0 35h0m1-99h0m0 4h0m0 31h0m0 6h0m0 16h0m0 4h0m0 11h0m0 1h0m1-91h0m0 34h0m0 19h0m0 17h0m0 14h0m0 30h0m0 18h0m1-129h0m0 46h0m0 5h0m0 14h0m0 13h0m0 12h0m1-125h0m0 9h0m0 38h0m0 28h0m0 1h0m0 10h0m0 15h0m0 30h0m0 8h0m0 17h0m1-135h0m0 8h0m0 2h0m0 22h0m0 5h0m0 14h0m0 9h0m0 32h0m0 3h0m0 10h0m0 6h0m0 6h0m0 8h0m1-144h0m0 28h0m0 9h0m0 4h0m0 5h0m0 22h0m0 64h0m0 1h0m1-124h0m0 61h0m0 6h0m0 6h0m0 31h0m1-91h0m0 26h0m0 21h0m0 20h0m0 31h0m0 6h0m0 28h0m0 3h0m0 9h0m1-181h0m0 7h0m0 47h0m0 13h0m0 3h0m0 45h0m0 13h0m0 22h0m1-142h0m0 67h0m0 7h0m0 8h0m0 6h0m0 10h0m0 68h0m1-99h0m0 20h0m0 12h0m0 20h0m1-68h0m0 5h0m0 44h0m0 43h0m0 3h0m1-99h0m0 1h0m0 52h0m1-55h0m0 16h0m0 8h0m0 3h0m0 2h0m0 57h0m0 3h0m1-101h0m0 14h0m0 43h0m0 25h0m1-110h0m0 37h0m0 50h0m0 9h0m0 11h0m0 6h0m1-92h0m0 49h0m0 27h0m0 11h0m0 6h0m0 12h0m1-126h0m0 63h0m0 13h0m0 13h0m0 22h0m0 4h0m0 1h0m1-110h0m0 7h0m0 3h0m0 16h0m0 24h0m0 11h0m0 33h0m0 11h0m1-71h0m0 3h0m0 42h0m0 32h0m1-112h0m0 32h0m1-33h0m0 36h0m0 5h0m0 7h0m0 17h0m0 31h0m0 38h0m0 7h0m1-156h0m0 21h0m0 24h0m0 23h0m0 49h0m0 26h0m1-90h0m0 54h0m0 12h0m1-101h0m0 86h0m0 25h0m0 8h0m1-126h0m0 2h0m0 12h0m0 5h0m0 29h0m0 101h0m1-119h0m0 3h0m0 13h0m0 18h0m0 10h0m0 6h0m0 13h0m0 29h0m0 13h0m1-131h0m0 60h0m0 15h0m0 16h0m0 13h0m1-14h0m0 25h0m1-66h0m0 9h0m1-77h0m0 29h0m0 33h0m0 1h0m0 40h0m1-59h0m0 24h0m1-43h0m0 67h0m0 13h0m1-26h0m0 25h0m0 8h0m0 7h0m1-109h0m0 22h0m0 20h0m0 12h0m0 12h0m0 1h0m0 9h0m0 0h0m1-72h0m0 7h0m0 2h0m0 42h0m0 5h0m0 4h0m0 14h0m0 0h0m1-33h0m0 28h0m0 39h0m0 5h0m1-139h0m0 2h0m0 22h0m0 35h0m0 6h0m1-15h0m0 6h0m0 16h0m0 8h0m0 1h0m0 45h0m1-74h0m0 4h0m0 14h0m0 26h0m0 32h0m0 33h0m1-160h0m0 29h0m0 66h0m0 15h0m0 5h0m1-86h0m0 88h0m0 19h0m1-90h0m0 33h0m0 11h0m0 14h0m0 2h0m0 17h0m0 2h0m1-126h0m0 45h0m0 19h0m0 2h0m0 36h0m0 20h0m1-91h0m1 4h0m0 10h0m0 12h0m0 2h0m1 22h0m0 6h0m0 15h0m0 2h0m0 0h0m0 35h0m1-128h0m0 24h0m0 22h0m0 25h0m0 38h0m0 20h0m0 11h0m1-127h0m0 35h0m0 34h0m0 9h0m0 20h0m1-96h0m0 6h0m0 5h0m0 20h0m0 8h0m0 12h0m0 13h0m0 6h0m0 4h0m0 8h0m1-73h0m0 26h0m0 1h0m0 0h0m0 43h0m1-72h0m0 22h0m0 20h0m0 23h0m1-91h0m0 39h0m0 16h0m1-48h0m0 72h0m0 1h0m0 1h0m0 12h0m0 1h0m0 9h0m0 0h0m0 16h0m1-103h0m0 18h0m0 43h0m1-54h0m0 14h0m0 23h0m0 54h0m1-60h0m0 10h0m0 54h0m1-32h0m1-77h0m0 33h0m0 13h0m0 3h0m0 14h0m0 5h0m0 21h0m0 10h0m1-136h0m0 60h0m0 76h0m1-58h0m0 13h0m0 19h0m0 26h0m0 6h0m1-106h0m0 56h0m0 6h0m0 23h0m0 32h0m1-87h0m1-9h0m0 49h0m0 8h0m1-81h0m1 32h0m0 2h0m0 12h0m0 7h0m0 54h0m1-16h0m1-66h0m0 47h0m0 7h0m0 28h0m1-103h0m0 54h0m0 23h0m0 21h0m0 16h0m1-100h0m0 6h0m0 30h0m0 9h0m0 2h0m1-45h0m0 14h0m0 12h0m0 34h0m0 7h0m1-110h0m0 88h0m0 1h0m1-71h0m0 53h0m0 2h0m0 1h0m0 2h0m0 24h0m1-70h0m0 49h0m0 25h0m1 10h0m1-88h0m0 29h0m0 9h0m0 52h0m1-57h0m0 43h0m1-57h0m0 25h0m1 14h0m0 34h0m1-127h0m2 68h0m0 7h0m0 30h0m1-81h0m0 11h0m0 83h0m1-88h0m0 25h0m0 4h0m1 17h0m0 17h0m0 40h0m1-90h0m0 4h0m0 15h0m1 12h0m0 45h0m0 21h0m1-75h0m1 8h0m1-7h0m0 14h0m0 23h0m1-59h0m0 1h0m0 9h0m0 15h0m1-34h0m1-34h0m0 19h0m0 5h0m0 11h0m0 14h0m0 24h0m0 12h0m1-86h0m0 4h0m0 108h0m1-113h0m0 18h0m0 12h0m0 15h0m0 30h0m3 29h0m0 14h0m1-81h0m0 21h0m0 12h0m0 27h0m1 7h0m1-82h0m0 50h0m2-114h0m0 88h0m0 32h0m0 6h0m1 25h0m1-84h0m0 49h0m0 3h0m1-68h0m2 97h0m3 3h0m1-102h0m0 18h0m0 61h0m1-98h0m0 100h0m0 19h0m2-67h0m0 44h0m0 19h0m1-145h0m0 67h0m0 3h0m0 86h0m1-51h0m0 4h0m0 5h0m3-54h0m0 44h0m1-27h0m0 23h0m1 41h0m1-76h0m1-15h0m0 42h0m0 30h0m1-89h0m0 17h0m0 95h0m1-74h0m1-56h0m0 58h0m2 8h0m1 36h0m1-47h0m0 45h0m1-9h0m2-56h0m0 50h0m1-41h0m1-19h0m0 87h0m1-79h0m1 10h0m0 15h0m2 42h0m1 17h0m2-15h0m1-29h0m2-2h0m3-33h0m1-24h0m1 82h0m2-76h0m0 21h0m2 4h0m0 21h0m0 55h0m3-93h0m5-40h0m1 47h0m2-5h0m0 59h0m3-22h0m5-44h0m0 6h0m1 9h0m1-43h0m0 30h0m0 54h0m1 1h0m5-79h0m6-8h0m0 45h0m6 3h0m0 21h0m8 11h0m4-20h0m2-5h0m8-45h0m2-28h0m5 79h0m4-26h0m1-20h0m5-52h0m23 23h0m76-41h0"/><path stroke="#2ca02c" d="M274 1134h0m5-14h0m1-9h0m3-34h0m3 26h0m0 32h0m3-37h0m0 8h0m1-8h0m0 20h0m1-13h0m2-18h0m2 29h0m1-50h0m2 12h0m1 4h0m1-16h0m0 10h0m0 25h0m1-15h0m0 0h0m1-20h0m0 0h0m0 12h0m2-16h0m0 19h0m2-27h0m0 32h0m1-9h0m1-10h0m1-13h0m1 15h0m0 1h0m0 44h0m1-34h0m1-31h0m0 8h0m1-6h0m0 5h0m0 23h0m1-41h0m0 48h0m1-43h0m0 29h0m0 23h0m1-54h0m0 9h0m0 14h0m1-4h0m0 3h0m0 2h0m0 23h0m1-42h0m0 8h0m0 0h0m0 51h0m1-45h0m1-24h0m0 16h0m1-31h0m0 32h0m0 16h0m0 18h0m1-26h0m0 1h0m0 16h0m1-13h0m1-32h0m0 3h0m0 24h0m1-41h0m0 46h0m1-5h0m0 17h0m1-78h0m0 11h0m0 18h0m0 10h0m0 7h0m0 11h0m0 12h0m1-36h0m0 1h0m0 26h0m0 11h0m0 8h0m0 1h0m1-37h0m0 22h0m0 11h0m1 6h0m1-95h0m0 42h0m0 27h0m0 10h0m1-49h0m0 51h0m1-74h0m0 40h0m0 4h0m0 4h0m0 5h0m0 19h0m0 2h0m1-88h0m0 32h0m0 7h0m0 2h0m0 28h0m0 1h0m0 0h0m1-51h0m0 1h0m0 2h0m0 14h0m0 6h0m1-30h0m0 6h0m0 59h0m1-40h0m0 3h0m0 27h0m0 3h0m0 20h0m0 5h0m1-51h0m0 6h0m0 1h0m0 16h0m1-66h0m0 20h0m0 1h0m0 3h0m0 4h0m0 0h0m0 13h0m0 2h0m0 4h0m0 0h0m0 29h0m0 2h0m0 6h0m0 1h0m1-46h0m0 23h0m1-30h0m0 6h0m0 8h0m0 8h0m0 4h0m1-70h0m0 12h0m0 43h0m0 17h0m0 10h0m1-56h0m0 16h0m0 26h0m0 8h0m0 20h0m0 0h0m1-68h0m0 8h0m0 15h0m0 4h0m0 2h0m0 13h0m0 5h0m0 15h0m1-83h0m0 33h0m0 0h0m0 52h0m1-66h0m0 25h0m0 5h0m0 12h0m0 1h0m0 14h0m1-62h0m0 0h0m0 18h0m0 4h0m0 42h0m0 27h0m1-94h0m0 5h0m0 2h0m0 19h0m0 38h0m1-34h0m0 3h0m0 5h0m2-48h0m0 20h0m0 24h0m1-66h0m0 47h0m0 11h0m0 2h0m0 3h0m0 19h0m1-46h0m0 22h0m0 4h0m1-47h0m0 43h0m0 7h0m1-33h0m0 3h0m0 0h0m0 29h0m1-51h0m0 6h0m0 28h0m0 6h0m0 4h0m0 12h0m0 25h0m0 13h0m1-77h0m0 3h0m0 8h0m0 1h0m0 11h0m0 16h0m0 9h0m1-41h0m0 14h0m0 1h0m0 2h0m1 9h0m0 8h0m1-75h0m0 20h0m0 2h0m0 18h0m0 7h0m0 7h0m0 20h0m0 15h0m0 5h0m1-65h0m0 12h0m0 5h0m0 27h0m0 2h0m0 7h0m0 16h0m1-82h0m0 12h0m0 2h0m0 3h0m0 7h0m0 2h0m0 36h0m0 25h0m1-87h0m0 1h0m0 18h0m0 2h0m0 4h0m1 36h0m0 21h0m1-119h0m0 30h0m0 22h0m0 27h0m0 2h0m0 6h0m0 20h0m0 9h0m0 9h0m0 4h0m1-95h0m0 28h0m0 6h0m1-30h0m0 5h0m0 12h0m0 18h0m0 24h0m1-87h0m0 6h0m0 14h0m0 26h0m0 29h0m1-27h0m0 14h0m1-21h0m0 13h0m0 15h0m0 22h0m1-61h0m0 26h0m0 13h0m1-57h0m0 17h0m0 2h0m0 2h0m0 15h0m1 0h0m0 13h0m0 14h0m1-64h0m0 7h0m0 3h0m0 30h0m0 5h0m0 20h0m0 3h0m0 10h0m1-88h0m0 8h0m0 8h0m0 15h0m0 3h0m0 8h0m0 0h0m0 13h0m0 8h0m0 32h0m1-94h0m0 31h0m0 2h0m0 8h0m0 5h0m0 2h0m0 18h0m0 25h0m1-92h0m0 7h0m0 23h0m0 10h0m0 19h0m0 3h0m0 16h0m0 2h0m1-56h0m0 0h0m0 3h0m0 3h0m0 6h0m0 7h0m0 6h0m0 5h0m0 8h0m0 1h0m0 2h0m0 19h0m0 18h0m1-128h0m0 68h0m0 10h0m0 0h0m0 24h0m0 9h0m1-70h0m0 7h0m0 0h0m0 26h0m1-63h0m0 10h0m0 9h0m0 31h0m0 2h0m0 58h0m1-95h0m0 26h0m0 6h0m0 4h0m0 2h0m0 0h0m0 17h0m1-86h0m0 48h0m0 8h0m0 28h0m0 4h0m1-78h0m0 52h0m0 2h0m0 3h0m0 9h0m0 35h0m1-75h0m0 1h0m0 15h0m0 59h0m1-83h0m0 6h0m0 21h0m0 11h0m0 35h0m0 12h0m1-75h0m0 10h0m0 28h0m1-79h0m0 50h0m0 2h0m0 45h0m1-7h0m0 13h0m1-67h0m1 40h0m0 5h0m0 16h0m0 2h0m1-110h0m0 15h0m0 34h0m0 4h0m0 0h0m0 26h0m0 18h0m1-80h0m0 76h0m1-90h0m0 31h0m0 6h0m0 33h0m0 1h0m0 8h0m1-73h0m0 25h0m0 2h0m0 18h0m0 4h0m0 10h0m0 2h0m0 6h0m0 40h0m1-101h0m0 17h0m0 6h0m0 7h0m0 28h0m0 13h0m0 18h0m1-37h0m0 1h0m0 3h0m0 24h0m1-25h0m0 22h0m0 18h0m1-56h0m0 19h0m0 5h0m1-86h0m0 35h0m0 1h0m0 9h0m0 6h0m0 3h0m0 19h0m0 25h0m0 17h0m1-120h0m0 22h0m0 37h0m0 11h0m0 61h0m1-100h0m0 2h0m0 11h0m0 62h0m1-62h0m0 3h0m0 28h0m0 6h0m0 4h0m0 13h0m1-77h0m0 14h0m0 56h0m0 1h0m0 29h0m1-100h0m0 70h0m1-112h0m0 21h0m0 10h0m0 42h0m0 12h0m0 12h0m0 7h0m0 11h0m0 23h0m1-130h0m0 20h0m0 39h0m0 3h0m0 29h0m0 22h0m1-82h0m0 15h0m0 31h0m0 6h0m0 19h0m0 0h0m0 5h0m2-67h0m0 41h0m1-53h0m0 12h0m0 34h0m0 31h0m0 4h0m0 12h0m0 19h0m1-103h0m0 9h0m0 12h0m0 27h0m0 27h0m0 1h0m1-49h0m0 58h0m0 7h0m1-114h0m0 34h0m0 12h0m0 5h0m0 12h0m0 20h0m0 6h0m0 18h0m1-100h0m0 18h0m0 37h0m0 28h0m0 2h0m0 32h0m1-127h0m0 72h0m0 56h0m1-152h0m0 31h0m0 10h0m0 7h0m0 7h0m0 5h0m0 42h0m0 38h0m1-115h0m0 7h0m0 22h0m0 1h0m0 33h0m1-110h0m0 32h0m0 52h0m0 40h0m1-104h0m0 42h0m0 5h0m0 38h0m0 4h0m0 45h0m1-108h0m0 74h0m0 10h0m0 12h0m1-68h0m0 18h0m0 12h0m0 8h0m0 48h0m1-130h0m0 66h0m0 8h0m0 1h0m1-63h0m0 14h0m0 24h0m0 38h0m0 32h0m1-111h0m0 4h0m0 56h0m0 37h0m1-86h0m0 39h0m0 25h0m0 22h0m1-98h0m0 28h0m0 20h0m0 3h0m0 20h0m1-39h0m0 4h0m0 5h0m0 25h0m1-43h0m0 5h0m0 1h0m0 8h0m1-56h0m0 20h0m0 16h0m0 29h0m0 14h0m0 5h0m0 15h0m1-13h0m0 5h0m1-28h0m0 7h0m0 21h0m1-86h0m0 6h0m0 7h0m0 12h0m0 10h0m0 11h0m0 21h0m0 38h0m0 4h0m1-37h0m0 24h0m0 35h0m1-41h0m1-45h0m0 7h0m0 4h0m1-65h0m0 35h0m0 15h0m0 49h0m0 10h0m1-83h0m0 14h0m0 10h0m0 24h0m0 42h0m1-105h0m0 26h0m0 3h0m0 30h0m0 31h0m1-75h0m0 39h0m0 9h0m1-6h0m0 30h0m0 3h0m2-35h0m0 56h0m1-43h0m2-69h0m0 3h0m0 0h0m0 13h0m0 32h0m0 45h0m1-93h0m0 6h0m0 34h0m0 14h0m1-41h0m0 28h0m0 18h0m0 1h0m1-56h0m0 5h0m0 35h0m0 22h0m0 17h0m1-64h0m0 7h0m0 49h0m1-44h0m0 2h0m1-22h0m0 35h0m1-37h0m1-9h0m0 27h0m1-34h0m0 87h0m0 2h0m1-93h0m0 23h0m0 18h0m0 29h0m0 7h0m1-100h0m0 37h0m0 7h0m0 8h0m0 7h0m0 2h0m0 8h0m0 26h0m0 12h0m1-77h0m0 30h0m0 29h0m1-56h0m0 35h0m0 17h0m0 49h0m1-124h0m0 15h0m0 73h0m0 30h0m1-113h0m0 94h0m0 16h0m1-59h0m0 5h0m1-26h0m0 9h0m1-17h0m0 44h0m0 50h0m1-155h0m0 93h0m0 2h0m0 15h0m1-74h0m0 21h0m0 45h0m0 15h0m1-86h0m0 30h0m0 71h0m0 9h0m1-101h0m0 17h0m1 30h0m1 2h0m0 13h0m1-19h0m0 19h0m0 18h0m1-68h0m0 0h0m0 12h0m0 26h0m1-74h0m0 28h0m0 26h0m0 27h0m1-29h0m0 17h0m0 1h0m1-46h0m0 34h0m0 49h0m1-27h0m0 13h0m0 31h0m1-55h0m0 4h0m1-17h0m0 12h0m0 35h0m1-70h0m0 42h0m1 6h0m2-37h0m0 35h0m2-93h0m0 109h0m1-31h0m0 10h0m1-3h0m2-38h0m0 6h0m0 27h0m1-47h0m0 17h0m0 40h0m0 8h0m1-62h0m0 107h0m1-88h0m0 28h0m1 6h0m1-26h0m1-41h0m1 68h0m1-55h0m0 8h0m0 56h0m1 2h0m1-11h0m1-95h0m0 75h0m0 14h0m1-72h0m1 35h0m0 3h0m0 5h0m0 5h0m0 9h0m1-28h0m0 6h0m0 30h0m0 33h0m3-105h0m0 6h0m1 43h0m0 17h0m2-72h0m0 113h0m1-123h0m1 31h0m0 24h0m0 70h0m1-85h0m1 24h0m2 35h0m1-79h0m1-3h0m0 48h0m0 16h0m0 21h0m1-16h0m0 17h0m1-43h0m0 33h0m0 14h0m1-96h0m0 18h0m1 10h0m2 5h0m0 39h0m2 3h0m0 1h0m5-8h0m1-66h0m0 62h0m4-94h0m1 39h0m2 3h0m3 53h0m1-26h0m1-18h0m0 16h0m5-47h0m0 106h0m1-15h0m1-71h0m0 51h0m0 8h0m1-62h0m1 33h0m1-34h0m0 1h0m1 88h0m3-102h0m5 63h0m2-68h0m0 37h0m1-53h0m0 74h0m1 6h0m0 14h0m1-74h0m0 18h0m2 12h0m1-55h0m0 23h0m1 12h0m2-16h0m1 33h0m3-30h0m1 12h0m2-25h0m2 23h0m0 40h0m3-57h0m0 48h0m3-60h0m1 41h0m5 28h0m1-111h0m4 96h0m3 12h0m1-12h0m0 15h0m1-66h0m0 39h0m2-72h0m2 33h0m2 24h0m4-39h0m5 40h0m6-60h0m36 15h0m7 11h0m0 5h0m3-16h0m42-7h0m15-17h0"/></g></g>
<line x1="41.60" y1="268.95" x2="215.40" y2="96.10" stroke="#000" stroke-width="0.95"/>
<circle cx="104.75" cy="185.69" r="3.25" fill="#7f7f7f" stroke="#000" stroke-width="1.3" stroke-linejoin="miter"/>
<rect x="98.93" y="177.01" width="6.42" height="6.42" fill="#d62728" stroke="#000" stroke-width="1.3" stroke-linejoin="miter"/>
<path d="M92.29 186.29L95.83 192.99L88.75 192.99Z" fill="#ff7f0e" stroke="#000" stroke-width="1.3" stroke-linejoin="miter"/>
<path d="M92.00 185.43L96.59 190.02L92.00 194.61L87.41 190.02Z" fill="#1f77b4" stroke="#000" stroke-width="1.3" stroke-linejoin="miter"/>
<path d="M81.09 187.62L83.79 187.62L83.79 189.82L85.99 189.82L85.99 192.52L83.79 192.52L83.79 194.72L81.09 194.72L81.09 192.52L78.89 192.52L78.89 189.82L81.09 189.82Z" fill="#2ca02c" stroke="#000" stroke-width="1.3" stroke-linejoin="miter"/>
<rect x="42.50" y="97.00" width="172.00" height="171.05" fill="none" stroke="#000" stroke-opacity="0.4" stroke-width="1"/>
<rect x="41.60" y="96.10" width="173.80" height="172.85" fill="none" stroke="#333" stroke-width="1.1"/>
<text x="34.00" y="272.95" font-size="11.3" text-anchor="end">0</text>
<text x="34.00" y="244.14" font-size="11.3" text-anchor="end">100</text>
<text x="34.00" y="215.33" font-size="11.3" text-anchor="end">200</text>
<text x="34.00" y="186.52" font-size="11.3" text-anchor="end">300</text>
<text x="34.00" y="157.72" font-size="11.3" text-anchor="end">400</text>
<text x="34.00" y="128.91" font-size="11.3" text-anchor="end">500</text>
<text x="34.00" y="100.10" font-size="11.3" text-anchor="end">600</text>
<text x="41.60" y="284.75" font-size="11.3" text-anchor="middle">0</text>
<text x="99.53" y="284.75" font-size="11.3" text-anchor="middle">200</text>
<text x="157.47" y="284.75" font-size="11.3" text-anchor="middle">400</text>
<text x="215.40" y="284.75" font-size="11.3" text-anchor="middle">600</text>
<path d="M41.60 268.95h-3.6M41.60 240.14h-3.6M41.60 211.33h-3.6M41.60 182.52h-3.6M41.60 153.72h-3.6M41.60 124.91h-3.6M41.60 96.10h-3.6M41.60 268.95v3.6M99.53 268.95v3.6M157.47 268.95v3.6M215.40 268.95v3.6" stroke="#000" stroke-width="0.9"/>
<text x="128.50" y="298.75" font-size="11.45" text-anchor="middle">BEV g CO2e per km</text>
<text transform="translate(8.50 182.52) rotate(-90)" font-size="11.45" text-anchor="middle">HEV g CO2e per km</text>
<text transform="translate(48.80 115.30) scale(1 1.1)" font-size="14.2">(a)</text>
<clipPath id="cb"><rect x="270.50" y="96.10" width="173.00" height="172.85"/></clipPath>
<path d="M270.50 96.10L443.50 96.10L270.50 268.95Z" fill="#deeaf4"/>
<path d="M443.50 96.10L443.50 268.95L270.50 268.95Z" fill="#deefdc"/>
<g clip-path="url(#cb)"><g transform="scale(0.2)" fill="none" stroke-linecap="round" stroke-width="14"><path stroke="#7f7f7f" d="M1498 1114h0m0 4h0m10-25h0m0 37h0m10-21h0m5-12h0m6-30h0m6 28h0m6-4h0m1-3h0m5-24h0m0 2h0m1-5h0m0 18h0m1 17h0m1-30h0m0 2h0m3 20h0m1-25h0m1-19h0m0 14h0m2-6h0m3 11h0m1-2h0m1-37h0m0 25h0m2 51h0m4-29h0m2-21h0m0 26h0m1-39h0m0 13h0m1 12h0m2-22h0m2-22h0m0 20h0m0 9h0m1 14h0m1-26h0m0 29h0m1-33h0m0 12h0m1-5h0m0 9h0m1-29h0m1 8h0m1-21h0m0 28h0m0 4h0m2-11h0m0 23h0m2-12h0m1 14h0m1 6h0m1-43h0m0 2h0m1 37h0m1-14h0m1-17h0m0 11h0m2-7h0m0 5h0m0 2h0m1-18h0m1-15h0m0 14h0m2-8h0m1 24h0m0 11h0m1-27h0m1 2h0m0 27h0m2-11h0m0 23h0m1-53h0m0 11h0m1 26h0m1-26h0m0 16h0m0 3h0m1-40h0m0 28h0m1-2h0m0 9h0m1-16h0m1-3h0m0 13h0m0 3h0m1-48h0m0 22h0m0 3h0m1 20h0m1-35h0m1 33h0m0 14h0m0 5h0m1-29h0m1 23h0m2-13h0m1 8h0m1-30h0m0 3h0m1 13h0m0 14h0m1-28h0m0 21h0m1-32h0m0 38h0m1-47h0m1 20h0m0 15h0m1-29h0m1 4h0m0 18h0m1 8h0m1-28h0m0 12h0m1-12h0m1 20h0m1-14h0m1-6h0m0 11h0m0 14h0m1-15h0m1-25h0m0 24h0m0 2h0m1-14h0m0 41h0m1-74h0m0 40h0m0 8h0m0 5h0m0 6h0m1-21h0m0 13h0m2-26h0m0 7h0m1 4h0m1-2h0m0 9h0m0 2h0m0 17h0m2-40h0m1 18h0m1-19h0m1 12h0m0 12h0m1-9h0m0 10h0m2-31h0m0 4h0m0 5h0m1 4h0m0 2h0m1 7h0m0 3h0m0 13h0m1-34h0m0 30h0m2-38h0m0 1h0m0 16h0m1-14h0m1 9h0m0 3h0m0 8h0m1-10h0m0 28h0m1-49h0m0 20h0m1-6h0m1-1h0m0 11h0m0 13h0m1-45h0m0 49h0m1-22h0m1-10h0m0 2h0m0 5h0m0 20h0m1-31h0m0 6h0m0 21h0m0 22h0m1-53h0m0 16h0m2-7h0m1 0h0m1-13h0m0 36h0m1-36h0m0 12h0m2 6h0m1-8h0m0 1h0m0 8h0m2-18h0m0 20h0m0 2h0m0 5h0m0 1h0m1-12h0m2-39h0m0 33h0m0 21h0m1-15h0m0 4h0m1-13h0m0 27h0m1-27h0m1-11h0m1-4h0m0 9h0m0 3h0m1-12h0m0 8h0m0 9h0m1-22h0m1 8h0m0 10h0m1-4h0m3-32h0m0 35h0m0 4h0m1-11h0m0 5h0m0 19h0m1-9h0m1-4h0m1-30h0m1 29h0m1-3h0m1 12h0m2-37h0m1 10h0m1 6h0m1-17h0m0 14h0m0 33h0m2-50h0m0 30h0m2-48h0m0 51h0m1-14h0m1-10h0m1-20h0m1 26h0m2-24h0m0 36h0m3-38h0m1-20h0m1 0h0m0 8h0m2 18h0m0 10h0m0 25h0m1-41h0m1 32h0m1-36h0m2-8h0m0 12h0m0 13h0m0 5h0m0 7h0m1-25h0m0 35h0m3-46h0m3 35h0m2-36h0m0 39h0m1-15h0m1-17h0m1-11h0m0 22h0m5-5h0m1-7h0m0 34h0m2-66h0m0 40h0m1-21h0m0 4h0m2-11h0m0 7h0m0 22h0m0 6h0m1 6h0m1-43h0m0 12h0m0 53h0m1-35h0m1-5h0m4-41h0m1 39h0m5-26h0m0 32h0m6-41h0m6-3h0m14-14h0m0 17h0m0 19h0m9-30h0m3-34h0m9 18h0m6-24h0m0 36h0m3-20h0m8-13h0m8 13h0m6-10h0m3 3h0m14-20h0m0 1h0m1-16h0m3 16h0m1-23h0m4 27h0m3 21h0m5 2h0m16-41h0m7-32h0m4 28h0m11-27h0m30-35h0m24-26h0m5-1h0m13 32h0m57-109h0m5-9h0"/><path stroke="#d62728" d="M1488 1130h0m4-33h0m6-18h0m0 39h0m1 10h0m6-48h0m4 37h0m1-35h0m2-1h0m4 5h0m1-5h0m1 29h0m1-87h0m0 55h0m0 6h0m2 0h0m0 8h0m1-25h0m0 26h0m1-22h0m0 26h0m1-47h0m0 18h0m1 45h0m2-38h0m0 65h0m1-61h0m0 4h0m1-59h0m1 40h0m1-9h0m0 25h0m1-27h0m1 2h0m0 27h0m1 7h0m2-4h0m0 5h0m0 11h0m1-22h0m2-21h0m1-9h0m0 1h0m0 14h0m0 43h0m2-64h0m0 11h0m0 42h0m1-34h0m1 15h0m1 24h0m2-59h0m0 15h0m0 26h0m1-44h0m0 29h0m1-47h0m0 13h0m0 7h0m0 28h0m1-32h0m2 4h0m0 6h0m0 36h0m1-36h0m0 5h0m0 29h0m2-17h0m0 6h0m1-29h0m0 8h0m0 1h0m0 14h0m0 25h0m1-40h0m0 15h0m1-42h0m0 14h0m0 26h0m1-21h0m0 7h0m0 15h0m0 2h0m0 14h0m0 5h0m0 0h0m1-71h0m2-2h0m2 36h0m0 56h0m1-54h0m0 34h0m1-49h0m0 16h0m0 2h0m0 0h0m0 10h0m0 4h0m0 12h0m1-37h0m1-19h0m1 4h0m0 12h0m0 3h0m0 4h0m1 22h0m1-46h0m0 14h0m0 30h0m0 11h0m1-41h0m0 18h0m0 3h0m1 14h0m1-66h0m0 18h0m0 9h0m0 4h0m0 11h0m1-23h0m0 0h0m0 64h0m1-71h0m0 5h0m0 2h0m0 26h0m1-57h0m0 40h0m0 12h0m0 2h0m0 22h0m1-41h0m2-25h0m0 15h0m0 6h0m0 26h0m1-79h0m0 30h0m0 6h0m0 7h0m0 42h0m0 6h0m2-40h0m0 5h0m1-44h0m0 12h0m0 9h0m0 7h0m0 4h0m0 14h0m0 37h0m1-56h0m0 19h0m0 4h0m0 8h0m1-41h0m0 20h0m1 6h0m0 7h0m0 9h0m0 8h0m0 15h0m0 4h0m1-73h0m0 62h0m1-71h0m0 10h0m0 1h0m0 4h0m0 44h0m0 12h0m0 1h0m0 20h0m1-73h0m0 12h0m0 23h0m1-45h0m0 14h0m0 17h0m2-29h0m0 12h0m0 5h0m0 7h0m1-33h0m0 8h0m0 5h0m0 11h0m0 22h0m0 3h0m1-89h0m0 37h0m0 10h0m0 54h0m1-99h0m0 50h0m0 11h0m0 17h0m1-7h0m0 48h0m1-56h0m0 34h0m1-59h0m0 97h0m1-120h0m0 70h0m0 5h0m1-41h0m0 7h0m0 21h0m0 8h0m0 4h0m0 28h0m1-107h0m0 20h0m0 25h0m0 40h0m1-54h0m0 59h0m1-124h0m0 41h0m0 18h0m0 11h0m0 13h0m0 3h0m0 18h0m0 23h0m1-38h0m0 6h0m0 0h0m1-41h0m0 29h0m0 47h0m0 0h0m0 14h0m1-41h0m1-48h0m1 24h0m0 7h0m0 13h0m0 2h0m1-61h0m0 5h0m0 12h0m0 4h0m0 2h0m0 9h0m0 24h0m0 1h0m1-65h0m0 40h0m0 6h0m1-103h0m0 1h0m0 80h0m0 5h0m0 14h0m0 2h0m0 12h0m0 14h0m1-29h0m0 5h0m0 0h0m0 14h0m1-11h0m0 3h0m0 22h0m1-40h0m0 34h0m0 28h0m1-89h0m0 8h0m0 27h0m0 5h0m1-30h0m0 23h0m0 1h0m0 3h0m1-68h0m0 32h0m0 36h0m0 2h0m0 13h0m1-8h0m0 34h0m1-54h0m0 8h0m1-26h0m0 42h0m0 0h0m1-45h0m0 22h0m0 21h0m1-19h0m1-49h0m0 77h0m0 1h0m1-57h0m0 17h0m0 8h0m0 27h0m1-11h0m0 6h0m1-20h0m0 13h0m1-12h0m0 5h0m0 5h0m0 9h0m1-46h0m0 5h0m0 3h0m1 1h0m0 0h0m0 7h0m0 18h0m1-53h0m0 25h0m0 29h0m0 12h0m0 9h0m1-55h0m0 14h0m0 4h0m0 13h0m0 2h0m1-73h0m0 54h0m0 0h0m0 25h0m1-109h0m0 73h0m0 0h0m0 60h0m1-104h0m0 75h0m1-31h0m0 58h0m1-37h0m0 2h0m1-24h0m1-36h0m0 34h0m0 2h0m0 39h0m1-79h0m0 44h0m0 28h0m0 0h0m0 18h0m1-63h0m0 63h0m1-60h0m0 5h0m0 24h0m1-31h0m0 13h0m0 8h0m0 15h0m1-46h0m0 34h0m0 33h0m0 7h0m2-69h0m0 35h0m0 20h0m1-70h0m0 60h0m1-67h0m0 53h0m1-57h0m0 55h0m0 7h0m1-19h0m1-70h0m0 69h0m0 12h0m1-15h0m0 30h0m0 6h0m1-17h0m1-43h0m0 18h0m0 29h0m1-8h0m0 10h0m1-35h0m0 8h0m0 22h0m0 9h0m1-59h0m0 69h0m0 16h0m1-66h0m0 40h0m1-66h0m0 6h0m0 5h0m0 2h0m0 10h0m0 15h0m0 5h0m0 2h0m1-18h0m0 5h0m0 6h0m0 32h0m1-35h0m0 11h0m1-36h0m0 18h0m0 17h0m0 2h0m0 16h0m0 10h0m0 3h0m1-34h0m0 11h0m1 17h0m1-41h0m0 4h0m0 17h0m0 16h0m1-52h0m0 23h0m0 5h0m0 8h0m0 28h0m1-91h0m0 38h0m1-10h0m0 53h0m0 11h0m1-98h0m0 50h0m1-4h0m0 40h0m1-107h0m0 52h0m0 67h0m1-85h0m0 3h0m0 24h0m0 12h0m1-37h0m0 18h0m0 6h0m0 8h0m0 14h0m1-73h0m0 31h0m0 9h0m0 45h0m1-66h0m0 14h0m0 9h0m0 35h0m1-68h0m0 1h0m0 41h0m0 2h0m0 15h0m1-87h0m0 86h0m1-5h0m0 5h0m1-71h0m0 90h0m1-47h0m0 6h0m0 11h0m2 15h0m1-26h0m0 7h0m0 3h0m1 2h0m0 36h0m0 18h0m1-85h0m0 18h0m0 5h0m0 4h0m0 5h0m0 3h0m0 3h0m1 32h0m1-57h0m1 30h0m0 8h0m1-111h0m0 80h0m1 2h0m0 12h0m0 8h0m1-85h0m0 78h0m1 11h0m0 3h0m1-65h0m1 1h0m0 3h0m0 15h0m0 5h0m1-34h0m0 40h0m2-33h0m0 31h0m1-116h0m0 84h0m0 52h0m1-119h0m0 102h0m0 30h0m1-50h0m0 8h0m0 74h0m1-67h0m1-48h0m0 50h0m0 28h0m1-14h0m0 3h0m1-42h0m0 28h0m1-27h0m0 2h0m1 34h0m1-111h0m0 39h0m0 78h0m1-12h0m1-52h0m0 37h0m0 37h0m0 2h0m0 5h0m1-57h0m0 22h0m1-21h0m0 20h0m1 0h0m1-39h0m0 13h0m1 1h0m1 10h0m1 7h0m0 44h0m1-78h0m0 6h0m0 30h0m0 13h0m0 0h0m1-58h0m0 62h0m1-74h0m0 35h0m0 19h0m0 10h0m1-35h0m0 28h0m0 13h0m1-42h0m0 12h0m0 1h0m0 43h0m1-84h0m0 15h0m1 1h0m0 26h0m0 11h0m1-42h0m0 35h0m1-34h0m1 39h0m0 7h0m1-39h0m0 16h0m2 7h0m0 34h0m1 0h0m0 11h0m0 5h0m1-78h0m0 16h0m1-5h0m0 50h0m1-115h0m0 72h0m1-16h0m1-3h0m0 55h0m1-30h0m1-30h0m2-8h0m1 22h0m2-6h0m0 21h0m2-90h0m0 89h0m1-7h0m1-3h0m1-123h0m2 125h0m1-5h0m1-26h0m1-120h0m0 98h0m5 49h0m0 18h0m1-58h0m1 50h0m3-31h0m0 24h0m1-38h0m0 24h0m0 31h0m1-48h0m0 30h0m1-43h0m0 66h0m1-60h0m0 36h0m3-34h0m1 30h0m1-21h0m0 6h0m0 5h0m2-11h0m0 11h0m2-26h0m3-5h0m0 38h0m0 19h0m1-115h0m0 26h0m0 40h0m4 38h0m1-88h0m0 56h0m2-41h0m0 9h0m0 37h0m0 13h0m2-36h0m0 31h0m1-84h0m1 74h0m1-8h0m3-20h0m4 12h0m2 52h0m2-58h0m0 37h0m0 4h0m1 10h0m2-70h0m0 27h0m1-4h0m4 23h0m1 2h0m1-63h0m0 48h0m1-11h0m0 19h0m1-7h0m4-68h0m2 67h0m2-2h0m0 0h0m1-4h0m1 17h0m2-38h0m7-7h0m2 11h0m5-34h0m1 51h0m3-35h0m2-20h0m2 31h0m1 29h0m2-75h0m0 2h0m0 40h0m1 0h0m5-49h0m2 31h0m2-40h0m0 34h0m3 5h0m2-64h0m8-17h0m15 69h0m3-3h0m8 1h0m15-29h0m14-78h0m12 43h0m4 23h0m10-25h0m30 0h0m0 16h0"/><path stroke="#ff7f0e" d="M1429 1200h0m8-75h0m1 28h0m3-23h0m2 37h0m9-24h0m0 24h0m2-27h0m5 20h0m3-51h0m0 5h0m2-4h0m0 62h0m2-39h0m1-5h0m0 0h0m0 24h0m2-47h0m1 21h0m1-21h0m0 7h0m1 8h0m0 40h0m3-34h0m2 9h0m2-40h0m1-1h0m0 90h0m1-103h0m2-21h0m0 35h0m0 24h0m0 15h0m2-42h0m0 23h0m0 14h0m0 1h0m0 11h0m1-28h0m0 25h0m1-24h0m1-40h0m1 36h0m0 46h0m1-59h0m1-34h0m1 23h0m0 9h0m0 22h0m1 3h0m1-30h0m0 19h0m2-30h0m0 57h0m1-11h0m1-4h0m1-31h0m0 20h0m1-21h0m0 14h0m0 40h0m1-80h0m2 87h0m1-93h0m0 24h0m0 6h0m0 4h0m1-26h0m0 17h0m1-12h0m0 3h0m0 35h0m0 28h0m1-58h0m0 15h0m1-18h0m0 1h0m1-16h0m0 36h0m0 45h0m1-81h0m0 20h0m0 24h0m0 23h0m1-57h0m0 20h0m0 29h0m0 2h0m1-72h0m0 7h0m0 3h0m0 9h0m0 17h0m1-5h0m1-1h0m1-16h0m0 45h0m1 5h0m0 4h0m1-90h0m0 25h0m0 27h0m0 8h0m1-18h0m0 4h0m0 14h0m1 0h0m0 21h0m0 11h0m0 18h0m0 2h0m1-75h0m0 39h0m0 17h0m1-10h0m1 31h0m1-24h0m1-71h0m0 25h0m0 4h0m0 0h0m0 8h0m0 8h0m1-26h0m0 37h0m1-55h0m0 55h0m0 7h0m1 2h0m0 21h0m1-81h0m0 16h0m0 14h0m0 6h0m1-3h0m1-19h0m0 12h0m0 3h0m0 13h0m1-13h0m0 27h0m1-62h0m0 14h0m0 7h0m0 11h0m1-14h0m0 6h0m0 0h0m0 41h0m0 0h0m0 7h0m1-81h0m0 8h0m0 13h0m0 2h0m0 21h0m0 8h0m0 10h0m0 14h0m0 6h0m0 27h0m1-114h0m0 15h0m0 7h0m0 14h0m0 39h0m2-71h0m1 5h0m0 24h0m0 10h0m1-29h0m0 37h0m0 16h0m1-67h0m0 31h0m0 5h0m0 3h0m0 25h0m1-59h0m0 18h0m0 11h0m0 4h0m1-15h0m0 59h0m1-84h0m0 14h0m0 20h0m0 8h0m1-26h0m0 11h0m0 27h0m0 5h0m0 11h0m1-76h0m0 92h0m1-78h0m0 11h0m0 37h0m0 10h0m1-50h0m0 23h0m0 17h0m1-54h0m0 60h0m1-56h0m0 9h0m0 4h0m0 6h0m0 3h0m0 20h0m0 0h0m1-44h0m0 29h0m0 7h0m0 14h0m1-38h0m0 26h0m0 4h0m0 14h0m1-53h0m0 21h0m0 37h0m1-60h0m0 19h0m0 2h0m0 7h0m0 15h0m0 5h0m0 2h0m1-62h0m0 25h0m0 11h0m0 6h0m1-51h0m0 16h0m0 11h0m0 1h0m0 9h0m0 12h0m0 11h0m1-43h0m0 45h0m0 3h0m0 13h0m1-51h0m0 20h0m0 1h0m0 12h0m0 4h0m1-63h0m0 28h0m0 36h0m1-58h0m1-29h0m0 14h0m0 6h0m0 35h0m1-6h0m0 7h0m0 1h0m0 5h0m1-28h0m0 3h0m0 10h0m1-31h0m0 41h0m0 17h0m0 6h0m0 28h0m1-45h0m0 9h0m0 2h0m0 8h0m1-67h0m0 8h0m0 48h0m0 10h0m1-56h0m0 15h0m0 12h0m0 28h0m1-71h0m0 72h0m1-52h0m0 4h0m0 4h0m0 41h0m1-59h0m0 31h0m0 0h0m0 27h0m1-47h0m0 4h0m0 9h0m0 3h0m0 4h0m0 26h0m1-34h0m0 20h0m0 3h0m0 11h0m0 3h0m0 0h0m1-67h0m0 10h0m1-11h0m0 24h0m0 6h0m0 4h0m0 0h0m0 30h0m1-47h0m0 1h0m0 4h0m0 9h0m0 26h0m0 1h0m1-44h0m0 15h0m0 1h0m0 0h0m0 14h0m1-44h0m0 43h0m0 1h0m0 20h0m0 8h0m2-70h0m0 13h0m0 1h0m0 19h0m0 1h0m0 12h0m0 3h0m0 19h0m1-61h0m0 18h0m0 11h0m0 6h0m0 8h0m0 0h0m1-51h0m0 25h0m0 4h0m0 7h0m0 8h0m0 3h0m1-41h0m0 30h0m0 37h0m1-57h0m0 9h0m0 11h0m0 8h0m0 0h0m0 20h0m1-41h0m0 0h0m0 1h0m0 25h0m1-36h0m0 10h0m0 6h0m0 29h0m1-61h0m0 20h0m0 1h0m0 1h0m0 33h0m1-76h0m0 17h0m0 27h0m0 1h0m0 2h0m0 12h0m0 30h0m1-105h0m0 64h0m0 37h0m1-64h0m0 1h0m0 6h0m0 1h0m0 3h0m0 22h0m0 14h0m0 5h0m1-47h0m0 16h0m0 2h0m0 2h0m0 15h0m0 11h0m1-47h0m0 18h0m0 14h0m1-36h0m0 3h0m1-22h0m0 4h0m0 2h0m0 37h0m0 25h0m1-76h0m0 11h0m0 9h0m0 17h0m0 3h0m1-11h0m0 8h0m0 25h0m1-9h0m1-31h0m0 25h0m1-38h0m0 36h0m0 0h0m0 15h0m1-47h0m0 72h0m1-44h0m0 16h0m0 5h0m1-13h0m0 7h0m0 16h0m1-60h0m0 9h0m0 7h0m0 3h0m0 10h0m0 19h0m1-30h0m0 0h0m0 6h0m0 10h0m0 1h0m1-28h0m0 7h0m0 7h0m0 18h0m0 15h0m1-59h0m0 6h0m0 3h0m0 1h0m0 1h0m0 40h0m0 6h0m1-14h0m0 7h0m0 4h0m1-57h0m0 23h0m0 13h0m1-33h0m0 20h0m0 4h0m0 1h0m0 21h0m0 40h0m1-96h0m0 19h0m0 12h0m0 1h0m0 18h0m0 6h0m0 6h0m1-65h0m0 44h0m0 19h0m1-32h0m0 9h0m0 4h0m0 9h0m1-36h0m1 9h0m0 12h0m0 10h0m0 6h0m1-43h0m0 27h0m0 3h0m0 21h0m0 4h0m0 8h0m1-25h0m0 6h0m1-43h0m0 13h0m0 1h0m0 27h0m1-52h0m0 14h0m0 57h0m1-53h0m0 42h0m1-65h0m0 45h0m0 4h0m1-31h0m0 6h0m0 11h0m1 6h0m0 13h0m1-51h0m0 15h0m0 42h0m1-75h0m0 24h0m0 40h0m0 17h0m1-48h0m0 25h0m1 5h0m1-12h0m0 5h0m1-24h0m0 4h0m1-20h0m2-8h0m0 63h0m1-10h0m0 6h0m1-34h0m0 4h0m0 3h0m0 10h0m1-31h0m0 2h0m1-46h0m0 61h0m0 20h0m0 12h0m1-36h0m0 13h0m0 15h0m2-10h0m0 11h0m0 0h0m1-18h0m0 16h0m1-75h0m0 15h0m0 6h0m0 37h0m0 31h0m1-91h0m0 42h0m0 0h0m0 10h0m0 15h0m0 4h0m0 7h0m0 2h0m1-18h0m1 5h0m1-67h0m0 22h0m0 9h0m0 1h0m0 2h0m0 16h0m0 3h0m0 49h0m1-29h0m1-51h0m0 3h0m0 13h0m0 34h0m1-17h0m0 2h0m1-38h0m0 23h0m1-16h0m1 15h0m0 29h0m1-25h0m0 16h0m1-51h0m0 19h0m1-11h0m0 11h0m0 32h0m0 18h0m1-68h0m1 24h0m0 7h0m1 11h0m0 17h0m1-33h0m0 2h0m0 3h0m0 12h0m1-39h0m0 7h0m0 16h0m1 13h0m0 3h0m1-27h0m0 23h0m0 4h0m0 18h0m1-29h0m0 11h0m0 1h0m0 14h0m1-65h0m0 17h0m0 5h0m0 4h0m0 7h0m0 13h0m0 3h0m0 3h0m0 3h0m1-43h0m0 8h0m0 33h0m1-28h0m0 7h0m0 5h0m1-21h0m0 35h0m1-41h0m0 13h0m0 7h0m0 24h0m0 1h0m1-79h0m0 86h0m1-68h0m0 18h0m0 26h0m1-21h0m0 45h0m0 5h0m1-69h0m0 16h0m1-38h0m0 12h0m0 24h0m1-23h0m0 32h0m0 3h0m1-50h0m0 30h0m0 16h0m0 21h0m0 0h0m0 3h0m1-31h0m0 29h0m1-38h0m1-20h0m0 23h0m0 8h0m1 21h0m3-36h0m0 16h0m0 12h0m1 16h0m3-76h0m1 72h0m1-39h0m1-11h0m0 7h0m0 3h0m1-14h0m0 1h0m1 62h0m1-69h0m0 46h0m1-44h0m0 41h0m0 32h0m1 21h0m1-56h0m0 0h0m1-93h0m0 102h0m1-71h0m0 29h0m1-7h0m0 28h0m0 8h0m2-28h0m0 3h0m0 2h0m0 20h0m1-17h0m1 14h0m1-19h0m1 32h0m1-41h0m0 6h0m0 15h0m2-7h0m2-30h0m0 36h0m0 13h0m1-19h0m0 10h0m0 1h0m1-15h0m2-11h0m0 18h0m2 28h0m1-78h0m1 38h0m1-12h0m0 1h0m0 6h0m4-24h0m0 29h0m1-15h0m1 48h0m1-40h0m0 15h0m0 34h0m2-80h0m0 40h0m3 26h0m1-15h0m1-24h0m1-28h0m1-18h0m0 42h0m1-39h0m0 54h0m1-23h0m0 54h0m4-69h0m0 2h0m0 15h0m3-24h0m0 19h0m2 15h0m0 6h0m1 15h0m5-59h0m0 32h0m0 7h0m1-22h0m0 32h0m1-32h0m0 45h0m3-61h0m0 3h0m2 9h0m1-9h0m0 5h0m5-30h0m1 15h0m3-1h0m0 12h0m1-17h0m0 8h0m0 13h0m1-14h0m1 34h0m2-62h0m0 9h0m3 24h0m2-10h0m0 28h0m1-30h0m1-32h0m4 23h0m0 21h0m1-35h0m1 39h0m1-6h0m2-18h0m1 4h0m0 9h0m1-21h0m0 42h0m8-38h0m3 6h0m8-11h0m4 22h0m2-16h0m10 8h0m4-54h0m3 39h0m1-54h0m7 4h0m11 38h0m3-32h0m18-14h0m3 28h0m6-1h0m0 11h0m15-33h0m9-19h0m17-3h0m3-1h0m1-42h0m3 60h0"/><path stroke="#1f77b4" d="M1430 1175h0m18-11h0m3 1h0m5-22h0m0 14h0m1-20h0m2 24h0m3-61h0m4 21h0m2 47h0m1-76h0m0 27h0m1 1h0m1 14h0m1 1h0m1-38h0m0 14h0m0 28h0m2-36h0m3-17h0m0 59h0m1-54h0m0 1h0m0 16h0m0 6h0m0 6h0m2-14h0m0 11h0m0 2h0m0 7h0m1-20h0m1 26h0m0 6h0m0 3h0m1-7h0m2-14h0m0 0h0m1-25h0m0 21h0m0 7h0m0 4h0m1-15h0m0 14h0m2-18h0m0 25h0m2-65h0m1 20h0m0 0h0m0 27h0m1-11h0m0 12h0m1-9h0m0 18h0m1-37h0m0 1h0m0 41h0m2-29h0m1-21h0m0 53h0m1-49h0m0 3h0m0 42h0m1-64h0m0 9h0m0 23h0m0 9h0m0 14h0m1-54h0m0 9h0m0 2h0m0 28h0m0 13h0m2-7h0m0 7h0m1-27h0m0 18h0m1-17h0m0 4h0m0 3h0m0 10h0m0 6h0m0 11h0m0 6h0m1-62h0m0 10h0m0 1h0m0 4h0m0 2h0m0 7h0m0 5h0m0 19h0m0 5h0m1-38h0m0 8h0m0 7h0m0 11h0m0 2h0m1-27h0m0 1h0m1-12h0m0 5h0m0 11h0m0 8h0m1-15h0m0 13h0m0 2h0m0 11h0m1-41h0m0 21h0m1-31h0m0 1h0m0 18h0m0 41h0m1-32h0m0 15h0m0 6h0m1-34h0m0 10h0m0 1h0m0 1h0m0 7h0m0 9h0m0 1h0m1-52h0m0 35h0m0 2h0m0 11h0m0 2h0m0 3h0m1-52h0m0 28h0m0 26h0m0 2h0m1-43h0m0 11h0m0 14h0m0 4h0m0 7h0m1-48h0m0 13h0m0 8h0m0 5h0m1-25h0m0 1h0m0 25h0m0 3h0m0 1h0m0 28h0m0 7h0m1-62h0m0 15h0m0 5h0m0 7h0m0 36h0m1-52h0m0 12h0m0 0h0m0 1h0m0 22h0m1-42h0m0 7h0m0 2h0m0 14h0m0 4h0m0 5h0m1-40h0m0 11h0m0 25h0m0 2h0m0 30h0m1-82h0m1 15h0m0 22h0m0 8h0m1-31h0m0 4h0m0 12h0m0 3h0m0 1h0m0 36h0m1-52h0m0 1h0m0 5h0m0 7h0m0 10h0m0 9h0m0 8h0m0 21h0m1-75h0m0 8h0m0 3h0m0 10h0m0 1h0m0 19h0m0 1h0m0 5h0m0 11h0m0 3h0m1-63h0m0 5h0m0 2h0m0 1h0m0 1h0m0 15h0m0 17h0m0 1h0m0 0h0m1-57h0m0 18h0m0 20h0m0 2h0m0 5h0m0 3h0m0 24h0m1-37h0m0 9h0m0 6h0m1-31h0m0 8h0m0 10h0m0 0h0m0 17h0m0 3h0m0 2h0m0 5h0m0 16h0m1-56h0m0 10h0m0 12h0m0 5h0m0 5h0m0 4h0m0 3h0m0 2h0m1-34h0m0 6h0m0 4h0m0 1h0m0 6h0m0 1h0m1-25h0m0 16h0m0 9h0m0 3h0m1-46h0m0 1h0m0 4h0m0 11h0m0 0h0m0 6h0m0 10h0m0 5h0m0 7h0m1-44h0m0 12h0m0 1h0m0 8h0m0 2h0m0 3h0m0 2h0m0 1h0m0 8h0m0 14h0m0 14h0m1-51h0m0 3h0m0 8h0m0 1h0m0 12h0m0 6h0m0 1h0m0 11h0m0 9h0m1-25h0m0 16h0m1-35h0m0 11h0m0 5h0m0 0h0m0 1h0m0 1h0m0 4h0m0 8h0m1-36h0m0 1h0m0 27h0m0 5h0m0 32h0m1-68h0m0 4h0m0 7h0m0 3h0m0 4h0m0 1h0m0 2h0m0 2h0m0 21h0m1-47h0m0 3h0m0 22h0m0 30h0m1-55h0m0 12h0m0 0h0m0 10h0m0 3h0m0 24h0m0 1h0m1-77h0m0 30h0m0 3h0m0 0h0m0 5h0m0 2h0m0 8h0m0 7h0m0 3h0m0 7h0m0 2h0m0 2h0m0 2h0m0 4h0m1-50h0m0 4h0m0 11h0m0 5h0m0 8h0m0 3h0m0 4h0m1-31h0m0 4h0m0 13h0m0 23h0m1-55h0m0 26h0m0 7h0m0 11h0m0 5h0m0 20h0m1-68h0m0 16h0m0 4h0m0 3h0m0 4h0m0 9h0m0 2h0m0 3h0m0 0h0m0 10h0m0 6h0m0 19h0m1-77h0m0 16h0m0 15h0m1-33h0m0 15h0m0 12h0m0 2h0m0 0h0m0 3h0m0 6h0m0 16h0m1-53h0m0 17h0m0 4h0m0 4h0m0 7h0m0 15h0m0 0h0m1-49h0m0 6h0m0 4h0m0 15h0m0 7h0m0 3h0m0 28h0m1-71h0m0 18h0m0 5h0m0 5h0m0 8h0m0 7h0m0 5h0m0 2h0m0 3h0m1-32h0m0 5h0m0 4h0m0 5h0m1-12h0m0 1h0m0 6h0m0 2h0m0 7h0m0 1h0m0 3h0m0 1h0m0 5h0m0 1h0m0 4h0m0 9h0m1-52h0m0 10h0m0 3h0m0 3h0m0 8h0m0 4h0m0 4h0m0 6h0m0 6h0m1-27h0m0 4h0m0 15h0m0 6h0m0 5h0m1-58h0m0 7h0m0 9h0m0 9h0m0 2h0m0 7h0m0 4h0m0 0h0m0 9h0m1-64h0m0 25h0m0 19h0m0 13h0m0 4h0m1-19h0m0 3h0m0 11h0m0 4h0m0 13h0m0 1h0m1-54h0m0 6h0m0 9h0m0 9h0m0 4h0m0 1h0m0 5h0m0 3h0m0 5h0m0 13h0m1-67h0m0 17h0m0 19h0m0 12h0m0 3h0m0 16h0m0 6h0m0 5h0m1-62h0m0 6h0m0 2h0m0 5h0m0 1h0m0 1h0m0 25h0m1-31h0m0 1h0m0 15h0m0 1h0m0 1h0m0 22h0m0 14h0m1-84h0m0 33h0m0 5h0m0 10h0m0 11h0m0 15h0m1-69h0m0 10h0m0 10h0m0 0h0m0 17h0m0 1h0m0 2h0m0 5h0m0 4h0m0 2h0m0 31h0m1-68h0m0 19h0m0 9h0m0 0h0m0 13h0m1-58h0m0 30h0m1-15h0m0 2h0m0 2h0m0 1h0m0 8h0m0 6h0m0 6h0m0 5h0m0 0h0m0 9h0m0 3h0m0 12h0m1-37h0m0 5h0m0 24h0m0 5h0m1-61h0m0 5h0m0 15h0m0 3h0m0 3h0m0 2h0m0 1h0m0 4h0m0 2h0m0 16h0m0 2h0m1-54h0m0 4h0m0 7h0m0 2h0m0 7h0m0 1h0m0 1h0m0 8h0m0 8h0m0 2h0m0 7h0m0 4h0m0 21h0m1-74h0m0 17h0m0 9h0m0 5h0m0 2h0m0 0h0m0 1h0m0 2h0m0 4h0m0 2h0m0 4h0m0 4h0m0 20h0m1-85h0m0 11h0m0 27h0m0 6h0m0 0h0m0 11h0m0 18h0m0 3h0m1-68h0m0 4h0m0 15h0m0 10h0m0 4h0m0 2h0m0 4h0m0 0h0m0 9h0m0 20h0m1-66h0m0 5h0m0 15h0m0 5h0m0 4h0m0 3h0m0 1h0m0 21h0m0 29h0m1-75h0m0 19h0m0 13h0m0 16h0m0 10h0m0 1h0m1-53h0m0 5h0m0 1h0m0 1h0m0 2h0m0 2h0m0 2h0m0 4h0m0 3h0m0 0h0m0 21h0m1-60h0m0 22h0m0 2h0m0 14h0m0 8h0m0 1h0m0 7h0m0 0h0m1-55h0m0 9h0m0 4h0m0 14h0m0 1h0m0 0h0m0 0h0m0 5h0m0 1h0m0 5h0m0 1h0m0 5h0m0 6h0m0 8h0m1-30h0m0 13h0m0 5h0m0 1h0m0 4h0m0 3h0m0 15h0m0 0h0m0 7h0m1-94h0m0 21h0m0 8h0m0 11h0m0 13h0m0 17h0m0 3h0m0 2h0m1-49h0m0 2h0m0 10h0m0 4h0m0 4h0m0 15h0m0 8h0m0 0h0m1-31h0m0 1h0m0 11h0m0 10h0m0 6h0m1-47h0m0 21h0m0 9h0m0 18h0m1-54h0m0 29h0m0 6h0m0 3h0m0 9h0m1-33h0m0 14h0m0 2h0m0 15h0m0 8h0m0 9h0m1-41h0m0 10h0m0 3h0m0 1h0m0 6h0m0 2h0m0 2h0m1-16h0m0 10h0m0 10h0m0 0h0m0 2h0m0 3h0m1-33h0m0 13h0m0 0h0m0 3h0m0 5h0m0 9h0m0 1h0m0 8h0m1-45h0m0 7h0m0 1h0m0 8h0m0 4h0m0 6h0m0 8h0m0 4h0m1-36h0m0 5h0m0 6h0m0 0h0m0 0h0m0 5h0m0 0h0m0 2h0m0 1h0m0 12h0m0 7h0m1-50h0m0 2h0m0 2h0m0 2h0m0 4h0m0 9h0m0 7h0m0 3h0m0 3h0m0 2h0m0 12h0m1-50h0m0 5h0m0 20h0m0 4h0m0 9h0m0 13h0m1-58h0m0 24h0m0 0h0m0 1h0m0 14h0m0 15h0m0 3h0m1-52h0m0 7h0m0 1h0m0 8h0m0 4h0m0 0h0m0 4h0m0 7h0m0 4h0m0 3h0m0 28h0m1-88h0m0 11h0m0 5h0m0 27h0m0 5h0m0 28h0m0 3h0m1-75h0m0 29h0m0 22h0m1-36h0m0 18h0m0 12h0m0 11h0m0 4h0m1-28h0m0 14h0m1-27h0m0 1h0m0 2h0m0 6h0m0 9h0m0 13h0m0 29h0m1-78h0m0 26h0m0 8h0m0 6h0m0 13h0m1-57h0m0 30h0m0 7h0m0 10h0m0 9h0m0 4h0m1-50h0m0 13h0m0 5h0m0 0h0m0 4h0m0 7h0m0 45h0m1-74h0m0 12h0m0 6h0m0 2h0m0 6h0m0 9h0m0 26h0m1-36h0m0 0h0m0 3h0m0 1h0m0 18h0m1-46h0m0 8h0m0 23h0m0 1h0m0 3h0m0 22h0m1-65h0m0 14h0m0 4h0m0 14h0m1-7h0m0 10h0m0 2h0m0 1h0m0 12h0m0 10h0m1-54h0m0 29h0m0 5h0m0 7h0m1-40h0m0 13h0m0 21h0m0 5h0m0 7h0m1-50h0m0 15h0m0 16h0m0 17h0m0 33h0m1-70h0m0 3h0m0 5h0m0 8h0m0 16h0m0 17h0m1-67h0m0 22h0m0 5h0m0 11h0m0 5h0m0 11h0m0 3h0m1-66h0m0 20h0m0 12h0m0 7h0m0 12h0m0 15h0m0 4h0m1-45h0m0 22h0m0 10h0m1-19h0m1-30h0m0 15h0m0 3h0m0 1h0m0 20h0m0 31h0m1-44h0m1-11h0m0 26h0m0 11h0m1-43h0m0 8h0m0 5h0m0 20h0m1-36h0m0 9h0m0 4h0m0 4h0m0 16h0m0 8h0m0 17h0m1-46h0m0 2h0m0 4h0m0 5h0m0 2h0m0 17h0m1-47h0m0 9h0m0 18h0m0 6h0m0 3h0m0 9h0m1-48h0m0 1h0m0 3h0m0 9h0m0 12h0m0 0h0m0 3h0m1-33h0m0 9h0m0 19h0m0 19h0m0 0h0m0 4h0m1-31h0m0 16h0m0 9h0m1-33h0m0 7h0m0 6h0m0 2h0m0 7h0m0 2h0m0 60h0m1-88h0m0 11h0m0 6h0m0 12h0m1-28h0m0 9h0m0 1h0m0 1h0m0 11h0m0 14h0m0 12h0m1-63h0m0 28h0m0 21h0m0 1h0m0 10h0m1-62h0m0 26h0m1-13h0m0 16h0m0 3h0m0 5h0m1-21h0m0 7h0m0 13h0m0 11h0m0 3h0m1-63h0m0 32h0m0 8h0m0 15h0m0 1h0m0 2h0m0 6h0m0 1h0m1-19h0m0 7h0m1-35h0m0 3h0m0 9h0m0 5h0m0 0h0m0 2h0m0 10h0m0 0h0m0 7h0m0 1h0m1-33h0m0 7h0m0 7h0m0 5h0m0 3h0m0 0h0m0 1h0m0 6h0m1-33h0m0 28h0m0 1h0m1-41h0m0 12h0m0 18h0m0 16h0m1-39h0m0 11h0m0 21h0m0 5h0m0 1h0m0 7h0m1-54h0m0 2h0m0 13h0m0 6h0m0 2h0m0 26h0m1-29h0m0 19h0m0 3h0m0 2h0m1-27h0m0 24h0m1-14h0m0 28h0m1-36h0m0 3h0m0 3h0m0 9h0m0 0h0m0 3h0m0 9h0m0 1h0m1-40h0m0 36h0m1-25h0m0 5h0m0 3h0m0 1h0m0 28h0m0 1h0m1-38h0m0 4h0m0 9h0m0 8h0m1 1h0m0 3h0m1-16h0m0 11h0m0 2h0m1-38h0m1 14h0m0 10h0m0 10h0m0 4h0m0 7h0m2-48h0m0 26h0m0 5h0m0 3h0m0 18h0m1-29h0m0 10h0m0 4h0m0 2h0m0 17h0m1-63h0m0 25h0m0 4h0m0 6h0m1-24h0m0 1h0m0 4h0m0 7h0m0 18h0m0 2h0m1-23h0m0 15h0m0 13h0m1-54h0m0 20h0m0 1h0m0 1h0m0 2h0m0 1h0m1-9h0m0 8h0m0 9h0m1 6h0m1-27h0m0 13h0m0 7h0m0 17h0m1-27h0m0 12h0m1-7h0m0 15h0m1-39h0m0 62h0m1-29h0m2-43h0m0 13h0m0 11h0m1-22h0m0 11h0m0 23h0m1-10h0m0 17h0m0 1h0m1-18h0m0 4h0m0 19h0m1-18h0m0 21h0m0 4h0m1-6h0m0 2h0m0 2h0m1-22h0m1-12h0m1-4h0m0 4h0m0 13h0m1-42h0m0 16h0m0 22h0m0 15h0m1-47h0m1 7h0m0 8h0m0 1h0m0 6h0m0 3h0m0 13h0m0 8h0m1-45h0m0 13h0m0 22h0m1-36h0m0 16h0m0 1h0m0 10h0m0 4h0m3-7h0m0 11h0m1-21h0m0 6h0m0 30h0m0 1h0m1-39h0m0 18h0m1 7h0m1-16h0m1-32h0m0 37h0m0 5h0m1 5h0m1-49h0m0 6h0m0 44h0m1-22h0m2 28h0m2 8h0m2-59h0m0 7h0m0 12h0m1-18h0m0 18h0m0 29h0m2-32h0m0 9h0m0 10h0m1-43h0m0 7h0m0 5h0m0 6h0m0 33h0m1-44h0m0 17h0m2 14h0m1 19h0m1-40h0m0 6h0m1 2h0m1-17h0m1 11h0m0 3h0m0 3h0m1-31h0m0 1h0m0 6h0m0 65h0m2-60h0m0 0h0m2 21h0m1 2h0m0 1h0m1-19h0m1-1h0m2-14h0m0 12h0m1 8h0m0 26h0m1-37h0m1-36h0m0 62h0m1-20h0m2 30h0m1-25h0m2-1h0m1-9h0m2 25h0m3-57h0m0 24h0m2 25h0m1-45h0m1 15h0m1-2h0m0 13h0m1 39h0m2-54h0m6-5h0m1 15h0m1-20h0m1 10h0m2 0h0m5-17h0m1-21h0m1 19h0m1-9h0m0 11h0m0 20h0m0 12h0m6-33h0m5 11h0m1-3h0m6-26h0m0 21h0m8-4h0m4-1h0m2-15h0m8 5h0m1-49h0m5 46h0m4-7h0m1-22h0m5 16h0m23-46h0m76-37h0"/><path stroke="#2ca02c" d="M1418 1168h0m6-6h0m0 11h0m3-14h0m3 14h0m0 1h0m3-8h0m0 6h0m1-30h0m0 23h0m1-9h0m2 1h0m2 5h0m1-25h0m2 23h0m1-2h0m1-23h0m0 12h0m1 13h0m0 1h0m1-42h0m0 17h0m0 9h0m0 18h0m2-17h0m0 10h0m2-14h0m0 2h0m1-11h0m1 15h0m1-11h0m1 14h0m0 16h0m1-15h0m0 7h0m1-35h0m0 10h0m1-8h0m0 4h0m0 4h0m1 1h0m0 8h0m1-11h0m0 2h0m0 6h0m1-27h0m0 13h0m0 5h0m1-8h0m0 7h0m0 2h0m0 8h0m1-27h0m0 6h0m0 20h0m0 19h0m1-21h0m1-20h0m0 6h0m1-9h0m0 0h0m0 20h0m0 30h0m1-32h0m0 6h0m0 4h0m1-16h0m1-3h0m0 9h0m0 2h0m1-34h0m0 23h0m1 12h0m0 3h0m1-40h0m0 1h0m0 25h0m0 0h0m0 1h0m0 5h0m0 8h0m1-19h0m0 1h0m0 0h0m0 1h0m0 4h0m0 10h0m1-20h0m0 11h0m0 21h0m1-5h0m1-39h0m0 2h0m0 13h0m0 1h0m1-17h0m0 15h0m1-19h0m0 10h0m0 2h0m0 6h0m0 2h0m0 9h0m0 3h0m1-48h0m0 16h0m0 7h0m0 3h0m0 12h0m0 1h0m0 1h0m1-31h0m0 8h0m0 7h0m0 1h0m0 7h0m1-14h0m0 1h0m0 23h0m0 16h0m1-38h0m0 6h0m0 3h0m0 1h0m0 12h0m0 15h0m1-46h0m0 7h0m0 8h0m0 12h0m0 19h0m1-54h0m0 1h0m0 4h0m0 1h0m0 4h0m0 7h0m0 8h0m0 3h0m0 4h0m0 4h0m0 2h0m0 9h0m1-24h0m0 3h0m1-13h0m0 8h0m0 2h0m0 1h0m0 3h0m1-23h0m0 8h0m0 1h0m0 2h0m0 13h0m0 24h0m1-48h0m0 15h0m0 7h0m0 8h0m0 2h0m1-28h0m0 8h0m0 2h0m0 6h0m0 2h0m0 3h0m0 6h0m0 1h0m1-27h0m0 1h0m0 11h0m0 5h0m0 3h0m1-18h0m0 1h0m0 5h0m0 5h0m0 10h0m0 12h0m1-30h0m0 3h0m0 1h0m0 6h0m0 17h0m1-51h0m0 20h0m0 8h0m0 10h0m0 10h0m0 5h0m1-27h0m0 19h0m2-28h0m0 5h0m0 2h0m1-9h0m0 1h0m0 4h0m0 4h0m0 4h0m0 20h0m1-33h0m0 6h0m0 16h0m1-29h0m0 10h0m0 7h0m1-3h0m0 5h0m0 5h0m0 2h0m1-31h0m0 1h0m0 7h0m0 10h0m0 1h0m0 4h0m0 0h0m0 3h0m0 1h0m0 4h0m1-48h0m0 20h0m0 0h0m0 14h0m0 3h0m0 7h0m0 11h0m1-33h0m0 0h0m0 1h0m1 9h0m1-25h0m0 11h0m0 8h0m0 0h0m0 1h0m0 5h0m0 2h0m0 2h0m0 7h0m0 9h0m1-35h0m0 7h0m0 16h0m0 1h0m0 6h0m0 1h0m0 10h0m1-51h0m0 10h0m0 7h0m0 5h0m0 1h0m0 4h0m0 13h0m0 8h0m0 17h0m1-52h0m0 6h0m0 5h0m0 6h0m1-20h0m0 39h0m0 1h0m1-40h0m0 4h0m0 7h0m0 1h0m0 2h0m0 3h0m0 1h0m0 26h0m1-57h0m0 12h0m0 4h0m0 10h0m0 23h0m1-50h0m0 18h0m0 20h0m1-42h0m0 20h0m0 1h0m0 2h0m0 4h0m1-27h0m0 17h0m0 28h0m1-21h0m0 8h0m0 8h0m1-35h0m0 10h0m0 4h0m0 1h0m1-22h0m0 21h0m0 10h0m0 8h0m0 12h0m1-40h0m0 0h0m0 20h0m1-23h0m0 4h0m0 5h0m0 9h0m0 3h0m0 0h0m0 8h0m0 14h0m0 1h0m1-46h0m0 1h0m0 3h0m0 5h0m0 4h0m0 5h0m0 3h0m0 1h0m0 5h0m0 2h0m0 1h0m1-41h0m0 5h0m0 8h0m0 10h0m0 1h0m0 3h0m0 4h0m1-39h0m0 24h0m0 4h0m0 2h0m0 1h0m0 4h0m0 0h0m0 0h0m0 7h0m0 13h0m0 2h0m1-39h0m0 4h0m0 9h0m0 5h0m0 0h0m0 8h0m0 0h0m0 1h0m0 3h0m1-30h0m0 14h0m0 21h0m0 2h0m0 1h0m1-35h0m0 11h0m0 0h0m0 0h0m1-31h0m0 14h0m0 6h0m0 0h0m0 1h0m0 3h0m0 3h0m0 15h0m0 7h0m1-39h0m0 4h0m0 4h0m0 12h0m0 13h0m0 4h0m1-42h0m0 9h0m0 3h0m0 5h0m0 5h0m0 32h0m1-34h0m0 5h0m0 8h0m1-23h0m0 8h0m0 11h0m0 1h0m0 4h0m0 7h0m1-38h0m0 3h0m0 12h0m0 2h0m0 7h0m0 2h0m1-22h0m0 5h0m0 20h0m1-18h0m0 9h0m1-24h0m0 11h0m0 30h0m1-19h0m1-27h0m0 25h0m0 0h0m0 4h0m0 6h0m1-30h0m0 3h0m0 2h0m0 10h0m0 0h0m0 5h0m1-30h0m0 7h0m0 13h0m0 28h0m1-32h0m0 16h0m0 0h0m1-29h0m0 4h0m0 3h0m0 4h0m0 7h0m0 2h0m0 1h0m0 1h0m0 2h0m0 5h0m0 30h0m1-54h0m0 1h0m0 4h0m0 7h0m0 0h0m0 5h0m0 11h0m1-28h0m0 10h0m0 16h0m1-25h0m0 23h0m0 1h0m0 4h0m1-33h0m0 7h0m0 0h0m1-21h0m0 5h0m0 15h0m0 1h0m0 4h0m0 6h0m0 0h0m0 7h0m1-28h0m0 5h0m0 7h0m0 0h0m0 19h0m0 12h0m1-43h0m0 9h0m0 20h0m0 2h0m0 18h0m1-68h0m0 33h0m0 5h0m0 7h0m1-33h0m0 25h0m0 2h0m0 4h0m0 11h0m1-62h0m0 33h0m0 4h0m0 2h0m0 5h0m0 5h0m1-35h0m0 33h0m0 5h0m0 2h0m0 9h0m1-49h0m0 8h0m0 8h0m0 10h0m0 3h0m0 6h0m0 10h0m1-46h0m0 6h0m0 8h0m0 16h0m0 17h0m1-29h0m1 1h0m0 7h0m0 24h0m1-54h0m0 6h0m0 20h0m0 2h0m0 8h0m0 0h0m0 9h0m0 3h0m1-37h0m0 24h0m0 1h0m0 0h0m0 5h0m1-23h0m0 11h0m0 13h0m0 3h0m1-36h0m0 13h0m0 5h0m0 2h0m0 0h0m0 6h0m1-27h0m0 3h0m0 2h0m0 16h0m0 2h0m0 20h0m0 2h0m1-51h0m0 3h0m0 5h0m0 20h0m1-31h0m0 4h0m0 4h0m0 3h0m0 11h0m0 3h0m0 25h0m1-43h0m0 6h0m0 6h0m0 1h0m0 23h0m0 7h0m1-54h0m0 8h0m0 11h0m1-10h0m0 9h0m0 3h0m0 2h0m0 9h0m0 6h0m1-21h0m0 7h0m0 34h0m1-53h0m0 7h0m0 5h0m0 6h0m0 2h0m0 33h0m1-63h0m0 11h0m0 6h0m0 11h0m0 9h0m1-19h0m0 10h0m0 1h0m0 4h0m1-13h0m0 13h0m0 7h0m0 4h0m1-35h0m0 4h0m0 1h0m0 9h0m0 6h0m1-11h0m0 8h0m0 1h0m0 8h0m1-28h0m0 3h0m0 3h0m0 5h0m0 32h0m1-20h0m0 13h0m1-41h0m0 4h0m0 14h0m0 7h0m0 4h0m0 7h0m1-40h0m0 1h0m0 24h0m0 0h0m0 13h0m1-48h0m0 49h0m0 9h0m1-49h0m0 5h0m0 2h0m0 13h0m0 5h0m0 4h0m0 0h0m0 12h0m0 9h0m2-35h0m0 5h0m0 4h0m1-20h0m0 14h0m1-12h0m0 4h0m0 3h0m0 10h0m0 5h0m1-36h0m0 24h0m0 2h0m0 2h0m0 2h0m0 18h0m1-37h0m0 10h0m0 4h0m0 7h0m0 8h0m1-21h0m0 2h0m1 12h0m0 5h0m1-8h0m0 10h0m1-25h0m2-24h0m0 20h0m0 11h0m0 14h0m1-21h0m0 3h0m0 3h0m1-19h0m0 1h0m0 1h0m0 5h0m0 12h0m1-18h0m0 2h0m0 5h0m0 8h0m0 2h0m1-11h0m0 7h0m0 2h0m0 7h0m1-19h0m0 22h0m1-25h0m0 7h0m0 13h0m2-25h0m0 17h0m0 3h0m1 3h0m0 9h0m1-38h0m0 2h0m0 7h0m0 1h0m0 14h0m1-40h0m0 5h0m0 16h0m0 0h0m0 5h0m0 23h0m1-35h0m0 9h0m0 7h0m0 6h0m0 1h0m1-20h0m0 19h0m0 2h0m0 6h0m0 0h0m0 2h0m1-36h0m1 1h0m0 16h0m0 9h0m0 1h0m0 8h0m1 3h0m1-12h0m0 1h0m0 8h0m1-28h0m0 18h0m0 13h0m1-44h0m0 26h0m0 22h0m1-56h0m0 14h0m0 7h0m0 5h0m0 6h0m1-23h0m0 4h0m0 3h0m0 5h0m0 4h0m1-11h0m1-12h0m1 20h0m0 2h0m0 16h0m1-9h0m0 1h0m1-23h0m0 11h0m0 2h0m0 12h0m0 4h0m1-22h0m0 4h0m0 6h0m0 32h0m1-28h0m0 8h0m1-11h0m0 21h0m1-33h0m0 1h0m0 17h0m0 18h0m1-46h0m0 29h0m0 14h0m1-23h0m1-9h0m0 1h0m0 5h0m0 34h0m2-37h0m1 2h0m0 2h0m2-26h0m1 7h0m0 8h0m1-21h0m0 42h0m2-38h0m0 6h0m0 18h0m1-25h0m0 2h0m0 11h0m0 3h0m1 7h0m0 23h0m1-30h0m1-13h0m0 6h0m1-3h0m1 14h0m1-13h0m1-16h0m0 31h0m0 1h0m1-18h0m1 4h0m1-15h0m0 10h0m1-28h0m0 8h0m1 9h0m0 4h0m0 9h0m0 9h0m1-7h0m0 1h0m0 1h0m0 3h0m0 5h0m3-20h0m0 3h0m1-17h0m0 7h0m2 8h0m1-25h0m0 39h0m1-16h0m0 16h0m0 10h0m1-26h0m1 7h0m2-24h0m1 20h0m1-16h0m0 4h0m0 10h0m0 16h0m1-24h0m0 27h0m1-34h0m0 7h0m0 1h0m1-1h0m0 13h0m2-18h0m1 4h0m0 18h0m2-17h0m0 7h0m5-33h0m1 23h0m0 7h0m4-34h0m1 19h0m2-1h0m3-10h0m1-24h0m1 8h0m0 29h0m5-14h0m0 20h0m1 2h0m1-27h0m0 7h0m0 15h0m1-31h0m1 35h0m1-19h0m0 1h0m1 21h0m3-34h0m5 28h0m1-25h0m1-19h0m1 15h0m0 7h0m1-7h0m0 8h0m1-27h0m0 23h0m2-25h0m1 11h0m0 3h0m1 3h0m2-8h0m1 22h0m3-29h0m1-8h0m1 5h0m2 20h0m1-20h0m2 14h0m1 19h0m3-41h0m0 4h0m6 30h0m1-63h0m3 29h0m4 21h0m1-17h0m0 19h0m1-28h0m0 27h0m2-64h0m1 3h0m2 30h0m5 18h0m4-35h0m7-10h0m36-2h0m6-13h0m0 7h0m3 8h0m42-47h0m15-9h0"/></g></g>
<line x1="270.50" y1="268.95" x2="443.50" y2="96.10" stroke="#000" stroke-width="0.95"/>
<circle cx="333.36" cy="194.62" r="3.25" fill="#7f7f7f" stroke="#000" stroke-width="1.3" stroke-linejoin="miter"/>
<rect x="327.55" y="190.84" width="6.42" height="6.42" fill="#d62728" stroke="#000" stroke-width="1.3" stroke-linejoin="miter"/>
<path d="M320.96 200.12L324.50 206.82L317.42 206.82Z" fill="#ff7f0e" stroke="#000" stroke-width="1.3" stroke-linejoin="miter"/>
<path d="M320.67 198.68L325.26 203.27L320.67 207.86L316.08 203.27Z" fill="#1f77b4" stroke="#000" stroke-width="1.3" stroke-linejoin="miter"/>
<path d="M309.81 206.63L312.50 206.63L312.50 208.83L314.70 208.83L314.70 211.53L312.50 211.53L312.50 213.73L309.81 213.73L309.81 211.53L307.60 211.53L307.60 208.83L309.81 208.83Z" fill="#2ca02c" stroke="#000" stroke-width="1.3" stroke-linejoin="miter"/>
<rect x="271.40" y="97.00" width="171.20" height="171.05" fill="none" stroke="#000" stroke-opacity="0.4" stroke-width="1"/>
<rect x="270.50" y="96.10" width="173.00" height="172.85" fill="none" stroke="#333" stroke-width="1.1"/>
<text x="262.90" y="272.95" font-size="11.3" text-anchor="end">0</text>
<text x="262.90" y="244.14" font-size="11.3" text-anchor="end">100</text>
<text x="262.90" y="215.33" font-size="11.3" text-anchor="end">200</text>
<text x="262.90" y="186.52" font-size="11.3" text-anchor="end">300</text>
<text x="262.90" y="157.72" font-size="11.3" text-anchor="end">400</text>
<text x="262.90" y="128.91" font-size="11.3" text-anchor="end">500</text>
<text x="262.90" y="100.10" font-size="11.3" text-anchor="end">600</text>
<text x="270.50" y="284.75" font-size="11.3" text-anchor="middle">0</text>
<text x="328.17" y="284.75" font-size="11.3" text-anchor="middle">200</text>
<text x="385.83" y="284.75" font-size="11.3" text-anchor="middle">400</text>
<text x="443.50" y="284.75" font-size="11.3" text-anchor="middle">600</text>
<path d="M270.50 268.95h-3.6M270.50 240.14h-3.6M270.50 211.33h-3.6M270.50 182.52h-3.6M270.50 153.72h-3.6M270.50 124.91h-3.6M270.50 96.10h-3.6M270.50 268.95v3.6M328.17 268.95v3.6M385.83 268.95v3.6M443.50 268.95v3.6" stroke="#000" stroke-width="0.9"/>
<text x="357.00" y="298.75" font-size="11.45" text-anchor="middle">BEV g CO2e per km</text>
<text transform="translate(237.40 182.52) rotate(-90)" font-size="11.45" text-anchor="middle">PHEV g CO2e per km</text>
<text transform="translate(276.00 115.30) scale(1 1.1)" font-size="14.2">(b)</text>
<clipPath id="cc"><rect x="502.50" y="96.10" width="173.00" height="172.85"/></clipPath>
<path d="M502.50 96.10L675.50 96.10L502.50 268.95Z" fill="#fbe9f5"/>
<path d="M675.50 96.10L675.50 268.95L502.50 268.95Z" fill="#deefdc"/>
<g clip-path="url(#cc)"><g transform="scale(0.2)" fill="none" stroke-linecap="round" stroke-width="14"><path stroke="#7f7f7f" d="M2658 1147h0m0 12h0m10-110h0m0 75h0m10-16h0m5-72h0m6 69h0m6 4h0m6-23h0m1-60h0m5-13h0m0 67h0m1-59h0m0 1h0m1 56h0m1-48h0m0 45h0m3-49h0m1 5h0m1-7h0m0 53h0m2 13h0m3-56h0m1 35h0m1-77h0m0 25h0m2 8h0m4 43h0m2-71h0m0 63h0m1-94h0m0 41h0m1-15h0m2-19h0m2 22h0m0 5h0m0 69h0m1-42h0m1-25h0m0 11h0m1-9h0m0 19h0m1-31h0m0 63h0m1-68h0m1 51h0m1-86h0m0 51h0m0 21h0m2-44h0m0 7h0m2 83h0m1-57h0m1 57h0m1-94h0m0 13h0m1-8h0m1 62h0m1-9h0m0 11h0m2-114h0m0 64h0m0 37h0m1-74h0m1 6h0m0 2h0m2 69h0m1-34h0m0 35h0m1-77h0m1 10h0m0 66h0m2 4h0m0 21h0m1-132h0m0 95h0m1-5h0m1 5h0m0 29h0m0 16h0m1-123h0m0 15h0m1 31h0m0 23h0m1-45h0m1-16h0m0 30h0m0 53h0m1-131h0m0 78h0m0 6h0m1 33h0m1-78h0m1 40h0m0 28h0m0 18h0m1-53h0m1 37h0m2-65h0m1-52h0m1 64h0m0 30h0m1-13h0m0 36h0m1-139h0m0 55h0m1 2h0m0 80h0m1-6h0m1-185h0m0 41h0m1 152h0m1-57h0m0 34h0m1-10h0m1-64h0m0 69h0m1-40h0m1 69h0m1-77h0m1 28h0m0 32h0m0 100h0m1-104h0m1-147h0m0 10h0m0 50h0m1-79h0m0 139h0m1-49h0m0 25h0m0 9h0m0 26h0m0 29h0m1 86h0m0 9h0m2-186h0m0 77h0m1-36h0m1-1h0m0 0h0m0 5h0m0 22h0m2-30h0m1 40h0m1-119h0m1-28h0m0 130h0m1-5h0m0 110h0m2-268h0m0 173h0m0 108h0m1-102h0m0 102h0m1-265h0m0 161h0m0 108h0m1-329h0m0 173h0m2-80h0m0 104h0m0 14h0m1-184h0m1 72h0m0 87h0m0 128h0m1-235h0m0 21h0m1-21h0m0 153h0m1 72h0m1-162h0m0 147h0m0 40h0m1-318h0m0 156h0m1-7h0m1-123h0m0 111h0m0 17h0m0 24h0m1-49h0m0 8h0m0 147h0m0 32h0m1-157h0m0 22h0m2-32h0m1-81h0m1-55h0m0 110h0m1-63h0m0 85h0m2-100h0m1 153h0m0 82h0m0 8h0m2-262h0m0 2h0m0 43h0m0 12h0m0 57h0m1-1h0m2-136h0m0 135h0m0 138h0m1-139h0m0 48h0m1-68h0m0 53h0m1 105h0m1-141h0m1-106h0m0 121h0m0 10h0m1-80h0m0 34h0m0 9h0m1 35h0m1-158h0m0 95h0m1 52h0m3-20h0m0 31h0m0 111h0m1-143h0m0 1h0m0 25h0m1-85h0m1 97h0m1-34h0m1-8h0m1 35h0m1-10h0m2 125h0m1-230h0m1 230h0m1-247h0m0 6h0m0 112h0m2-36h0m0 6h0m2-128h0m0 282h0m1-139h0m1-23h0m1 163h0m1-114h0m2-154h0m0 105h0m3-53h0m1 195h0m1-279h0m0 119h0m2 10h0m0 147h0m0 14h0m1-293h0m1 178h0m1-20h0m2-135h0m0 99h0m0 14h0m0 21h0m0 6h0m1-37h0m0 23h0m3 117h0m3-145h0m2-82h0m0 79h0m1 0h0m1-12h0m1 14h0m0 148h0m5-306h0m1 139h0m0 9h0m2-114h0m0 141h0m1-51h0m0 20h0m2-100h0m0 50h0m0 48h0m0 1h0m1 22h0m1-25h0m0 0h0m0 152h0m1-107h0m1-31h0m4 132h0m1-234h0m5 71h0m0 52h0m6-187h0m6 2h0m14 43h0m0 97h0m0 34h0m9-69h0m3-48h0m9 35h0m6-3h0m0 154h0m3 2h0m8-264h0m8 238h0m6-247h0m3 236h0m14-19h0m0 2h0m1-261h0m3 260h0m1-133h0m4 21h0m3-37h0m5 64h0m16-33h0m7-183h0m4 124h0m11 36h0m30 84h0m24-14h0m5-3h0m13-172h0m57 103h0m5-6h0"/><path stroke="#d62728" d="M2648 1179h0m4-44h0m6-8h0m0 41h0m1-25h0m6-25h0m4-3h0m1-8h0m2 22h0m4-5h0m1-4h0m1 20h0m1-43h0m0 23h0m0 21h0m2-16h0m0 6h0m1-66h0m0 53h0m1-32h0m0 29h0m1-16h0m0 5h0m1-9h0m2 16h0m0 28h0m1-29h0m0 45h0m1-89h0m1 45h0m1-36h0m0 3h0m1 48h0m1-58h0m0 47h0m1-50h0m2 19h0m0 17h0m0 19h0m1-34h0m2 27h0m1-55h0m0 26h0m0 24h0m0 5h0m2-44h0m0 13h0m0 8h0m1-29h0m1 42h0m1-1h0m2-39h0m0 7h0m0 7h0m1-20h0m0 48h0m1-59h0m0 14h0m0 19h0m0 2h0m1-2h0m2-8h0m0 0h0m0 19h0m1-20h0m0 29h0m0 1h0m2-12h0m0 30h0m1-91h0m0 16h0m0 7h0m0 2h0m0 8h0m1 13h0m0 26h0m1-54h0m0 12h0m0 29h0m1-15h0m0 1h0m0 10h0m0 1h0m0 2h0m0 9h0m0 12h0m1-47h0m2-42h0m2 69h0m0 47h0m1-93h0m0 29h0m1-17h0m0 6h0m0 9h0m0 8h0m0 14h0m0 4h0m0 18h0m1-54h0m1 36h0m1-92h0m0 35h0m0 44h0m0 20h0m1-40h0m1-2h0m0 42h0m0 3h0m0 36h0m1-104h0m0 11h0m0 4h0m1 19h0m1-23h0m0 10h0m0 8h0m0 12h0m0 13h0m1-31h0m0 19h0m0 8h0m1-55h0m0 6h0m0 2h0m0 4h0m1-19h0m0 18h0m0 12h0m0 16h0m0 9h0m1-11h0m2-27h0m0 9h0m0 8h0m0 4h0m1-62h0m0 27h0m0 8h0m0 3h0m0 4h0m0 5h0m2-18h0m0 4h0m1-21h0m0 6h0m0 13h0m0 5h0m0 30h0m0 13h0m0 6h0m1-49h0m0 6h0m0 14h0m0 6h0m1-55h0m0 59h0m1-86h0m0 54h0m0 16h0m0 1h0m0 10h0m0 1h0m1-7h0m0 4h0m1-64h0m0 19h0m0 15h0m0 15h0m0 8h0m0 4h0m0 19h0m0 19h0m1-55h0m0 2h0m0 21h0m1-35h0m0 8h0m0 17h0m2-47h0m0 16h0m0 6h0m0 43h0m1-57h0m0 11h0m0 14h0m0 1h0m0 8h0m0 2h0m1-51h0m0 7h0m0 12h0m0 2h0m1-43h0m0 26h0m0 46h0m0 7h0m1-49h0m0 66h0m1-43h0m0 11h0m1-46h0m0 70h0m1-40h0m0 18h0m0 19h0m1-54h0m0 0h0m0 23h0m0 6h0m0 6h0m0 21h0m1-44h0m0 7h0m0 21h0m0 20h0m1-48h0m0 20h0m1-40h0m0 11h0m0 13h0m0 0h0m0 1h0m0 19h0m0 1h0m0 13h0m1-54h0m0 6h0m0 40h0m1-53h0m0 20h0m0 20h0m0 13h0m0 8h0m1 2h0m1-47h0m1-33h0m0 27h0m0 28h0m0 4h0m1-48h0m0 24h0m0 3h0m0 2h0m0 10h0m0 0h0m0 5h0m0 23h0m1-80h0m0 41h0m0 3h0m1-49h0m0 18h0m0 9h0m0 3h0m0 4h0m0 17h0m0 23h0m0 9h0m1-46h0m0 4h0m0 4h0m0 29h0m1-75h0m0 37h0m0 21h0m1-33h0m0 25h0m0 0h0m1-54h0m0 18h0m0 20h0m0 13h0m1-51h0m0 36h0m0 12h0m0 4h0m1-36h0m0 27h0m0 31h0m0 6h0m0 21h0m1-61h0m0 12h0m1-50h0m0 13h0m1 13h0m0 15h0m0 34h0m1-55h0m0 36h0m0 23h0m1-46h0m1-12h0m0 12h0m0 33h0m1-45h0m0 1h0m0 21h0m0 2h0m1-13h0m0 35h0m1-64h0m0 20h0m1 21h0m0 3h0m0 15h0m0 7h0m1-80h0m0 41h0m0 0h0m1-34h0m0 9h0m0 15h0m0 20h0m1-39h0m0 7h0m0 27h0m0 9h0m0 27h0m1-62h0m0 5h0m0 15h0m0 2h0m0 27h0m1-65h0m0 36h0m0 11h0m0 8h0m1-29h0m0 25h0m0 7h0m0 12h0m1-40h0m0 16h0m1-40h0m0 22h0m1 39h0m0 13h0m1-48h0m1-46h0m0 30h0m0 40h0m0 12h0m1-60h0m0 14h0m0 7h0m0 1h0m0 22h0m1-33h0m0 35h0m1-41h0m0 17h0m0 12h0m1-34h0m0 10h0m0 19h0m0 33h0m1-49h0m0 5h0m0 9h0m0 14h0m2-52h0m0 22h0m0 68h0m1-110h0m0 49h0m1-44h0m0 17h0m1-23h0m0 30h0m0 7h0m1 64h0m1-68h0m0 9h0m0 20h0m1-27h0m0 21h0m0 5h0m1-2h0m1-58h0m0 35h0m0 43h0m1-24h0m0 2h0m1-73h0m0 26h0m0 8h0m0 29h0m1-46h0m0 11h0m0 63h0m1-56h0m0 30h0m1-70h0m0 28h0m0 2h0m0 20h0m0 5h0m0 13h0m0 0h0m0 6h0m1-78h0m0 18h0m0 38h0m0 25h0m1 0h0m0 24h0m1-58h0m0 4h0m0 1h0m0 7h0m0 19h0m0 6h0m0 5h0m1-42h0m0 18h0m1 17h0m1-52h0m0 22h0m0 10h0m0 5h0m1-60h0m0 10h0m0 22h0m0 5h0m0 38h0m1-35h0m0 20h0m1-70h0m0 51h0m0 15h0m1-35h0m0 43h0m1-66h0m0 30h0m1-30h0m0 17h0m0 65h0m1-67h0m0 23h0m0 11h0m0 39h0m1-64h0m0 2h0m0 22h0m0 8h0m0 7h0m1-65h0m0 2h0m0 50h0m0 1h0m1-39h0m0 29h0m0 9h0m0 13h0m1-80h0m0 31h0m0 21h0m0 6h0m0 17h0m1-20h0m0 4h0m1-18h0m0 59h0m1-88h0m0 74h0m1-71h0m0 43h0m0 5h0m2 14h0m1-78h0m0 56h0m0 35h0m1-81h0m0 45h0m0 29h0m1-68h0m0 12h0m0 4h0m0 7h0m0 4h0m0 22h0m0 36h0m1-52h0m1-22h0m1 5h0m0 26h0m1-13h0m0 3h0m1 12h0m0 12h0m0 39h0m1-77h0m0 31h0m1-80h0m0 71h0m1-48h0m1-18h0m0 35h0m0 2h0m0 17h0m1-35h0m0 8h0m2 0h0m0 67h0m1-59h0m0 15h0m0 32h0m1-63h0m0 2h0m0 32h0m1-69h0m0 68h0m0 13h0m1-42h0m1-18h0m0 5h0m0 39h0m1 5h0m0 16h0m1-74h0m0 16h0m1 18h0m0 6h0m1 64h0m1-57h0m0 6h0m0 0h0m1-39h0m1 10h0m0 5h0m0 10h0m0 0h0m0 45h0m1-37h0m0 1h0m1-54h0m0 50h0m1-40h0m1 24h0m0 9h0m1 1h0m1 11h0m1-19h0m0 43h0m1-74h0m0 1h0m0 9h0m0 23h0m0 52h0m1-70h0m0 19h0m1-27h0m0 14h0m0 12h0m0 3h0m1-21h0m0 33h0m0 12h0m1-63h0m0 18h0m0 9h0m0 32h0m1-40h0m0 14h0m1-36h0m0 10h0m0 21h0m1-48h0m0 53h0m1-33h0m1-1h0m0 2h0m1 21h0m0 5h0m2-30h0m0 53h0m1-71h0m0 31h0m0 17h0m1-45h0m0 23h0m1 10h0m0 21h0m1-38h0m0 75h0m1-65h0m1-9h0m0 7h0m1 13h0m1-29h0m2 3h0m1 6h0m2-25h0m0 42h0m2-22h0m0 39h0m1-54h0m1 26h0m1-57h0m2 66h0m1-18h0m1-8h0m1-50h0m0 63h0m5 11h0m0 30h0m1-54h0m1 25h0m3-57h0m0 36h0m1-28h0m0 7h0m0 80h0m1-98h0m0 56h0m1 0h0m0 17h0m1-67h0m0 9h0m3 31h0m1 9h0m1-51h0m0 5h0m0 12h0m2-31h0m0 37h0m2 12h0m3-53h0m0 21h0m0 32h0m1-17h0m0 1h0m0 19h0m4 43h0m1-75h0m0 11h0m2-18h0m0 8h0m0 4h0m0 15h0m2 11h0m0 6h0m1-31h0m1-16h0m1-1h0m3 3h0m4 8h0m2 40h0m2-72h0m0 44h0m0 19h0m1-19h0m2-27h0m0 0h0m1 11h0m4 3h0m1-18h0m1-30h0m0 33h0m1-45h0m0 56h0m1-20h0m4-16h0m2 39h0m2-1h0m0 14h0m1-59h0m1 34h0m2-20h0m7 2h0m2-53h0m5-7h0m1 45h0m3-42h0m2 14h0m2 35h0m1 39h0m2-113h0m0 48h0m0 33h0m1-25h0m5 1h0m2-2h0m2-17h0m0 11h0m3-11h0m2 18h0m8 6h0m15-39h0m3-7h0m8-34h0m15 17h0m14-13h0m12 10h0m4-25h0m10-9h0m30 10h0m0 4h0"/><path stroke="#ff7f0e" d="M2589 1259h0m8-22h0m1 12h0m3-4h0m2 2h0m9-47h0m0 14h0m2-22h0m5 64h0m3-62h0m0 35h0m2-43h0m0 43h0m2-42h0m1-12h0m0 12h0m0 21h0m2-17h0m1 10h0m1-53h0m0 17h0m1-3h0m0 62h0m3-36h0m2-12h0m2-53h0m1 22h0m0 68h0m1-48h0m2-36h0m0 4h0m0 51h0m0 36h0m2-87h0m0 30h0m0 12h0m0 5h0m0 4h0m1-42h0m0 33h0m1-6h0m1 6h0m1-31h0m0 70h0m1-55h0m1 1h0m1-19h0m0 4h0m0 101h0m1-97h0m1-22h0m0 27h0m2 0h0m0 8h0m1 79h0m1-109h0m1-12h0m0 29h0m1-8h0m0 21h0m0 16h0m1-70h0m2 59h0m1-64h0m0 26h0m0 10h0m0 7h0m1-13h0m0 31h0m1-2h0m0 7h0m0 9h0m0 34h0m1 6h0m0 16h0m1-151h0m0 58h0m1-53h0m0 77h0m0 19h0m1-46h0m0 5h0m0 14h0m0 4h0m1-66h0m0 41h0m0 4h0m0 16h0m1-60h0m0 5h0m0 15h0m0 12h0m0 93h0m1-135h0m1 71h0m1-28h0m0 5h0m1-28h0m0 43h0m1-68h0m0 49h0m0 6h0m0 8h0m1-69h0m0 45h0m0 6h0m1-14h0m0 0h0m0 38h0m0 3h0m0 79h0m1-137h0m0 8h0m0 101h0m1 21h0m1-89h0m1-43h0m1-14h0m0 16h0m0 21h0m0 2h0m0 6h0m0 4h0m1 42h0m0 46h0m1-119h0m0 34h0m0 35h0m1-29h0m0 10h0m1-53h0m0 4h0m0 30h0m0 55h0m1-72h0m1-36h0m0 6h0m0 19h0m0 27h0m1-4h0m0 14h0m1-91h0m0 75h0m0 3h0m0 19h0m1-40h0m0 45h0m0 12h0m0 0h0m0 36h0m0 5h0m1-125h0m0 1h0m0 10h0m0 14h0m0 4h0m0 14h0m0 0h0m0 0h0m0 73h0m0 37h0m1-181h0m0 2h0m0 32h0m0 33h0m0 98h0m2-26h0m1-113h0m0 30h0m0 106h0m1-123h0m0 6h0m0 96h0m1-122h0m0 15h0m0 4h0m0 10h0m0 20h0m1-16h0m0 5h0m0 11h0m0 63h0m1-105h0m0 127h0m1-157h0m0 67h0m0 72h0m0 8h0m1-132h0m0 18h0m0 23h0m0 27h0m0 46h0m1-79h0m0 23h0m1-42h0m0 8h0m0 3h0m0 24h0m1-81h0m0 79h0m0 115h0m1-174h0m0 24h0m1-25h0m0 18h0m0 5h0m0 9h0m0 3h0m0 39h0m0 55h0m1-155h0m0 50h0m0 11h0m0 58h0m1-93h0m0 19h0m0 10h0m0 10h0m1-64h0m0 25h0m0 20h0m1-12h0m0 13h0m0 4h0m0 25h0m0 1h0m0 15h0m0 92h0m1-178h0m0 25h0m0 8h0m0 100h0m1-121h0m0 16h0m0 33h0m0 16h0m0 49h0m0 7h0m0 17h0m1-114h0m0 13h0m0 12h0m0 14h0m1-74h0m0 44h0m0 3h0m0 51h0m0 40h0m1-87h0m0 0h0m0 97h0m1-149h0m1-28h0m0 26h0m0 12h0m0 126h0m1-130h0m0 38h0m0 37h0m0 44h0m1-115h0m0 1h0m0 19h0m1-21h0m0 53h0m0 0h0m0 10h0m0 23h0m1-70h0m0 22h0m0 24h0m0 40h0m1-68h0m0 47h0m0 5h0m0 40h0m1-110h0m0 16h0m0 32h0m0 13h0m1-76h0m0 67h0m1-47h0m0 12h0m0 4h0m0 66h0m1-154h0m0 108h0m0 10h0m0 0h0m1-59h0m0 10h0m0 25h0m0 5h0m0 7h0m0 30h0m1-59h0m0 3h0m0 4h0m0 17h0m0 5h0m0 4h0m1 52h0m0 34h0m1-160h0m0 46h0m0 23h0m0 13h0m0 53h0m0 1h0m1-125h0m0 16h0m0 8h0m0 4h0m0 17h0m0 5h0m1-72h0m0 12h0m0 12h0m0 85h0m0 31h0m1-190h0m0 61h0m0 25h0m0 26h0m0 26h0m2-75h0m0 18h0m0 13h0m0 10h0m0 9h0m0 3h0m0 23h0m0 57h0m1-146h0m0 10h0m0 25h0m0 4h0m0 83h0m0 27h0m1-182h0m0 12h0m0 42h0m0 13h0m0 21h0m0 14h0m1-13h0m0 0h0m0 109h0m1-149h0m0 18h0m0 40h0m0 38h0m0 36h0m0 29h0m1-186h0m0 1h0m0 66h0m0 16h0m1-88h0m0 44h0m0 36h0m0 32h0m1-126h0m0 9h0m0 57h0m0 4h0m0 105h0m1-166h0m0 61h0m0 19h0m0 12h0m0 48h0m0 19h0m0 16h0m1-159h0m0 67h0m0 95h0m1-151h0m0 21h0m0 0h0m0 17h0m0 12h0m0 48h0m0 23h0m0 36h0m1-209h0m0 28h0m0 11h0m0 14h0m0 3h0m0 138h0m1-181h0m0 14h0m0 208h0m1-186h0m0 42h0m1-74h0m0 10h0m0 36h0m0 8h0m0 6h0m1-80h0m0 40h0m0 15h0m0 156h0m0 37h0m1-170h0m0 66h0m0 88h0m1-20h0m1-165h0m0 58h0m1-25h0m0 17h0m0 9h0m0 15h0m1-75h0m0 6h0m1-6h0m0 24h0m0 27h0m1-44h0m0 2h0m0 108h0m1-179h0m0 72h0m0 11h0m0 6h0m0 36h0m0 19h0m1-119h0m0 20h0m0 31h0m0 26h0m0 7h0m1-73h0m0 70h0m0 1h0m0 34h0m0 65h0m1-213h0m0 19h0m0 30h0m0 5h0m0 44h0m0 27h0m0 66h0m1-143h0m0 16h0m0 57h0m1-107h0m0 86h0m0 41h0m1-89h0m0 4h0m0 13h0m0 9h0m0 24h0m0 21h0m1-79h0m0 14h0m0 19h0m0 7h0m0 35h0m0 2h0m0 76h0m1-125h0m0 0h0m0 11h0m1-14h0m0 24h0m0 39h0m0 67h0m1-125h0m1-37h0m0 41h0m0 38h0m0 99h0m1-196h0m0 33h0m0 12h0m0 84h0m0 68h0m0 10h0m1-178h0m0 52h0m1-51h0m0 17h0m0 8h0m0 83h0m1-70h0m0 21h0m0 115h0m1-153h0m0 15h0m1-72h0m0 86h0m0 19h0m1-81h0m0 14h0m0 27h0m1-54h0m0 95h0m1-98h0m0 72h0m0 17h0m1-80h0m0 26h0m0 19h0m0 29h0m1-32h0m0 38h0m1 47h0m1-59h0m0 10h0m1-65h0m0 50h0m1-61h0m2-4h0m0 35h0m1-36h0m0 15h0m1-60h0m0 76h0m0 1h0m0 5h0m1-61h0m0 76h0m1-56h0m0 54h0m0 92h0m0 9h0m1-145h0m0 3h0m0 107h0m2-78h0m0 137h0m0 3h0m1-212h0m0 67h0m1-72h0m0 3h0m0 4h0m0 56h0m0 3h0m1-97h0m0 46h0m0 32h0m0 30h0m0 8h0m0 8h0m0 9h0m0 72h0m1-161h0m1 46h0m1-36h0m0 18h0m0 9h0m0 8h0m0 34h0m0 99h0m0 5h0m0 1h0m1-141h0m1-112h0m0 75h0m0 40h0m0 40h0m1 2h0m0 136h0m1-201h0m0 61h0m1-37h0m1-17h0m0 17h0m1-43h0m0 81h0m1-69h0m0 10h0m1-6h0m0 13h0m0 10h0m0 95h0m1-124h0m1 21h0m0 155h0m1-189h0m0 45h0m1-56h0m0 49h0m0 18h0m0 12h0m1-52h0m0 73h0m0 85h0m1-127h0m0 125h0m1-150h0m0 8h0m0 38h0m0 145h0m1-189h0m0 7h0m0 21h0m0 41h0m1-90h0m0 1h0m0 11h0m0 27h0m0 114h0m0 8h0m0 8h0m0 2h0m0 1h0m1-149h0m0 29h0m0 113h0m1-202h0m0 49h0m0 34h0m1 8h0m0 113h0m1-208h0m0 66h0m0 2h0m0 13h0m0 42h0m1 3h0m0 64h0m1-211h0m0 36h0m0 39h0m1 18h0m0 5h0m0 114h0m1-158h0m0 19h0m1-115h0m0 117h0m0 13h0m1-71h0m0 25h0m0 42h0m1-35h0m0 8h0m0 28h0m0 1h0m0 10h0m0 134h0m1-142h0m0 96h0m1-101h0m1-20h0m0 55h0m0 86h0m1-100h0m3-85h0m0 29h0m0 31h0m1 81h0m3-125h0m1 12h0m1-15h0m1-42h0m0 25h0m0 59h0m1-31h0m0 19h0m1 6h0m1-8h0m0 26h0m1-63h0m0 31h0m0 51h0m1-8h0m1-105h0m0 102h0m1-89h0m0 38h0m1-23h0m0 20h0m1 6h0m0 12h0m0 40h0m2-124h0m0 65h0m0 13h0m0 46h0m1-97h0m1 69h0m1 0h0m1-12h0m1-42h0m0 2h0m0 2h0m2 9h0m2-52h0m0 103h0m0 9h0m1-69h0m0 22h0m0 28h0m1-26h0m2-13h0m0 18h0m2 123h0m1-157h0m1 8h0m1-49h0m0 100h0m0 145h0m4-233h0m0 46h0m1-24h0m1 16h0m1-7h0m0 12h0m0 36h0m2-68h0m0 24h0m3-31h0m1 59h0m1-26h0m1-42h0m1-24h0m0 23h0m1-24h0m0 191h0m1-126h0m0 130h0m4-163h0m0 151h0m0 6h0m3-146h0m0 35h0m2-52h0m0 25h0m1 9h0m5-50h0m0 42h0m0 149h0m1-185h0m0 37h0m1-28h0m0 81h0m3-130h0m0 58h0m2 9h0m1-4h0m0 9h0m5-26h0m1 10h0m3-19h0m0 58h0m1-64h0m0 4h0m0 191h0m1-186h0m1 139h0m2-204h0m0 116h0m3-38h0m2-48h0m0 184h0m1-185h0m1 225h0m4-222h0m0 199h0m1-191h0m1 98h0m1 75h0m2-207h0m1 21h0m0 76h0m1-93h0m0 32h0m8-15h0m3 55h0m8-45h0m4 116h0m2 41h0m10-129h0m4-118h0m3 45h0m1 11h0m7-28h0m11 47h0m3-82h0m18 95h0m3-52h0m6-1h0m0 58h0m15-70h0m9-43h0m17 9h0m3 7h0m1 138h0m3-113h0"/><path stroke="#1f77b4" d="M2590 1250h0m18-36h0m3-3h0m5-10h0m0 4h0m1 5h0m2 5h0m3-20h0m4-10h0m2 33h0m1-37h0m0 11h0m1-12h0m1-4h0m1 9h0m1-13h0m0 1h0m0 5h0m2-12h0m3 7h0m0 5h0m1-39h0m0 15h0m0 4h0m0 11h0m0 5h0m2-11h0m0 2h0m0 3h0m0 20h0m1-3h0m1-17h0m0 9h0m0 3h0m1-14h0m2-8h0m0 10h0m1-36h0m0 24h0m0 22h0m0 17h0m1-19h0m0 2h0m2-32h0m0 10h0m2-14h0m1-8h0m0 5h0m0 15h0m1-4h0m0 15h0m1-10h0m0 11h0m1-22h0m0 2h0m0 13h0m2-9h0m1-6h0m0 17h0m1-44h0m0 16h0m0 17h0m1-29h0m0 3h0m0 20h0m0 15h0m0 2h0m1-50h0m0 27h0m0 1h0m0 16h0m0 13h0m2-21h0m0 6h0m1-28h0m0 17h0m1-5h0m0 3h0m0 1h0m0 3h0m0 2h0m0 5h0m0 9h0m1-44h0m0 3h0m0 5h0m0 2h0m0 4h0m0 4h0m0 6h0m0 9h0m0 9h0m1-41h0m0 4h0m0 2h0m0 12h0m0 10h0m1-26h0m0 11h0m1-9h0m0 4h0m0 26h0m0 14h0m1-41h0m0 5h0m0 3h0m0 5h0m1-16h0m0 23h0m1-43h0m0 13h0m0 8h0m0 15h0m1-8h0m0 3h0m0 24h0m1-43h0m0 0h0m0 10h0m0 1h0m0 4h0m0 1h0m0 15h0m1-35h0m0 5h0m0 0h0m0 16h0m0 12h0m0 12h0m1-59h0m0 11h0m0 33h0m0 4h0m1-23h0m0 5h0m0 1h0m0 0h0m0 6h0m1-40h0m0 12h0m0 7h0m0 0h0m1-21h0m0 3h0m0 1h0m0 10h0m0 13h0m0 5h0m0 9h0m1-23h0m0 6h0m0 10h0m0 21h0m0 5h0m1-67h0m0 25h0m0 9h0m0 3h0m0 6h0m1-56h0m0 43h0m0 3h0m0 2h0m0 9h0m0 8h0m1-40h0m0 1h0m0 4h0m0 21h0m0 9h0m1-29h0m1-4h0m0 3h0m0 6h0m1-27h0m0 17h0m0 7h0m0 1h0m0 0h0m0 23h0m1-36h0m0 4h0m0 2h0m0 7h0m0 11h0m0 2h0m0 2h0m0 23h0m1-72h0m0 11h0m0 8h0m0 11h0m0 0h0m0 1h0m0 7h0m0 8h0m0 2h0m0 0h0m1-37h0m0 1h0m0 6h0m0 4h0m0 9h0m0 8h0m0 0h0m0 10h0m0 2h0m1-54h0m0 19h0m0 5h0m0 1h0m0 4h0m0 8h0m0 19h0m1-25h0m0 2h0m0 9h0m1-37h0m0 2h0m0 13h0m0 5h0m0 5h0m0 7h0m0 5h0m0 14h0m0 22h0m1-59h0m0 1h0m0 1h0m0 1h0m0 5h0m0 2h0m0 5h0m0 23h0m1-62h0m0 24h0m0 2h0m0 5h0m0 5h0m0 11h0m1-40h0m0 1h0m0 37h0m0 28h0m1-58h0m0 3h0m0 1h0m0 9h0m0 5h0m0 3h0m0 7h0m0 4h0m0 2h0m1-55h0m0 6h0m0 8h0m0 3h0m0 13h0m0 8h0m0 3h0m0 1h0m0 6h0m0 6h0m0 1h0m1-28h0m0 1h0m0 6h0m0 4h0m0 8h0m0 2h0m0 3h0m0 7h0m0 1h0m1-6h0m0 18h0m1-74h0m0 7h0m0 18h0m0 4h0m0 13h0m0 13h0m0 18h0m0 9h0m1-50h0m0 3h0m0 20h0m0 4h0m0 25h0m1-69h0m0 3h0m0 2h0m0 4h0m0 6h0m0 6h0m0 10h0m0 3h0m0 16h0m1-73h0m0 15h0m0 10h0m0 29h0m1-40h0m0 23h0m0 6h0m0 6h0m0 2h0m0 7h0m0 8h0m1-61h0m0 10h0m0 5h0m0 1h0m0 17h0m0 2h0m0 4h0m0 1h0m0 3h0m0 3h0m0 2h0m0 1h0m0 1h0m0 8h0m1-31h0m0 3h0m0 7h0m0 7h0m0 5h0m0 4h0m0 15h0m1-56h0m0 2h0m0 12h0m0 18h0m1-23h0m0 12h0m0 13h0m0 2h0m0 3h0m0 5h0m1-65h0m0 12h0m0 1h0m0 12h0m0 15h0m0 5h0m0 4h0m0 1h0m0 7h0m0 4h0m0 7h0m0 3h0m1-67h0m0 9h0m0 32h0m1-48h0m0 18h0m0 0h0m0 15h0m0 7h0m0 1h0m0 1h0m0 13h0m1-39h0m0 5h0m0 32h0m0 6h0m0 2h0m0 10h0m0 1h0m1-75h0m0 9h0m0 25h0m0 19h0m0 5h0m0 17h0m0 28h0m1-72h0m0 2h0m0 3h0m0 1h0m0 1h0m0 2h0m0 10h0m0 6h0m0 8h0m1-50h0m0 32h0m0 2h0m0 8h0m1-58h0m0 25h0m0 1h0m0 7h0m0 3h0m0 3h0m0 1h0m0 7h0m0 1h0m0 6h0m0 14h0m0 2h0m1-72h0m0 18h0m0 16h0m0 5h0m0 6h0m0 1h0m0 2h0m0 5h0m0 15h0m1-35h0m0 5h0m0 6h0m0 6h0m0 38h0m1-72h0m0 2h0m0 10h0m0 6h0m0 6h0m0 12h0m0 2h0m0 6h0m0 30h0m1-89h0m0 40h0m0 2h0m0 1h0m0 8h0m1-32h0m0 15h0m0 4h0m0 8h0m0 10h0m0 19h0m1-72h0m0 6h0m0 4h0m0 6h0m0 5h0m0 7h0m0 5h0m0 4h0m0 2h0m0 6h0m1-54h0m0 18h0m0 4h0m0 1h0m0 15h0m0 39h0m0 4h0m0 8h0m1-73h0m0 3h0m0 7h0m0 3h0m0 18h0m0 9h0m0 7h0m1-52h0m0 10h0m0 10h0m0 2h0m0 20h0m0 13h0m0 10h0m1-77h0m0 31h0m0 9h0m0 3h0m0 2h0m0 46h0m1-75h0m0 2h0m0 2h0m0 16h0m0 23h0m0 2h0m0 3h0m0 3h0m0 4h0m0 19h0m0 0h0m1-60h0m0 6h0m0 1h0m0 29h0m0 10h0m1-98h0m0 59h0m1-26h0m0 4h0m0 10h0m0 4h0m0 1h0m0 1h0m0 9h0m0 1h0m0 10h0m0 4h0m0 4h0m0 1h0m1-27h0m0 14h0m0 10h0m0 11h0m1-58h0m0 5h0m0 6h0m0 0h0m0 3h0m0 4h0m0 6h0m0 7h0m0 8h0m0 5h0m0 2h0m1-69h0m0 19h0m0 6h0m0 13h0m0 1h0m0 0h0m0 1h0m0 0h0m0 4h0m0 3h0m0 13h0m0 7h0m0 9h0m1-67h0m0 6h0m0 4h0m0 2h0m0 8h0m0 7h0m0 11h0m0 4h0m0 1h0m0 12h0m0 2h0m0 2h0m0 6h0m1-58h0m0 4h0m0 3h0m0 7h0m0 16h0m0 10h0m0 17h0m0 3h0m1-94h0m0 16h0m0 1h0m0 16h0m0 19h0m0 2h0m0 7h0m0 12h0m0 10h0m0 11h0m1-74h0m0 6h0m0 17h0m0 18h0m0 5h0m0 3h0m0 1h0m0 6h0m0 23h0m1-80h0m0 23h0m0 2h0m0 31h0m0 2h0m0 17h0m1-84h0m0 1h0m0 5h0m0 4h0m0 7h0m0 2h0m0 11h0m0 4h0m0 14h0m0 10h0m0 1h0m1-24h0m0 6h0m0 5h0m0 0h0m0 13h0m0 1h0m0 5h0m0 28h0m1-83h0m0 4h0m0 5h0m0 10h0m0 3h0m0 3h0m0 7h0m0 11h0m0 0h0m0 3h0m0 3h0m0 4h0m0 1h0m0 22h0m1-73h0m0 3h0m0 15h0m0 11h0m0 20h0m0 10h0m0 3h0m0 20h0m0 14h0m1-123h0m0 39h0m0 10h0m0 0h0m0 10h0m0 0h0m0 5h0m0 25h0m1-74h0m0 2h0m0 17h0m0 0h0m0 9h0m0 5h0m0 14h0m0 5h0m1-47h0m0 25h0m0 13h0m0 18h0m0 0h0m1-70h0m0 23h0m0 36h0m0 5h0m1-58h0m0 4h0m0 20h0m0 35h0m0 3h0m1-43h0m0 7h0m0 4h0m0 10h0m0 5h0m0 30h0m1-68h0m0 6h0m0 9h0m0 1h0m0 1h0m0 5h0m0 21h0m1-29h0m0 2h0m0 1h0m0 18h0m0 28h0m0 12h0m1-68h0m0 9h0m0 5h0m0 10h0m0 2h0m0 7h0m0 4h0m0 0h0m1-62h0m0 35h0m0 6h0m0 6h0m0 4h0m0 6h0m0 21h0m0 2h0m1-67h0m0 13h0m0 3h0m0 1h0m0 1h0m0 5h0m0 20h0m0 5h0m0 1h0m0 2h0m0 13h0m1-68h0m0 9h0m0 14h0m0 0h0m0 2h0m0 3h0m0 1h0m0 4h0m0 1h0m0 20h0m0 15h0m1-52h0m0 8h0m0 3h0m0 1h0m0 27h0m0 0h0m1-55h0m0 17h0m0 8h0m0 7h0m0 1h0m0 11h0m0 24h0m1-104h0m0 48h0m0 2h0m0 3h0m0 3h0m0 4h0m0 0h0m0 5h0m0 5h0m0 7h0m0 38h0m1-96h0m0 12h0m0 23h0m0 11h0m0 7h0m0 18h0m0 29h0m1-78h0m0 1h0m0 25h0m1-33h0m0 1h0m0 32h0m0 6h0m0 28h0m1-40h0m0 35h0m1-72h0m0 13h0m0 8h0m0 3h0m0 18h0m0 1h0m0 3h0m1-32h0m0 0h0m0 11h0m0 20h0m0 7h0m1-49h0m0 23h0m0 6h0m0 9h0m0 2h0m0 2h0m1-80h0m0 50h0m0 6h0m0 15h0m0 6h0m0 27h0m0 7h0m1-56h0m0 1h0m0 6h0m0 18h0m0 8h0m0 6h0m0 7h0m1-69h0m0 22h0m0 9h0m0 6h0m0 15h0m1-43h0m0 4h0m0 11h0m0 31h0m0 1h0m0 1h0m1-51h0m0 11h0m0 34h0m0 13h0m1-52h0m0 22h0m0 8h0m0 2h0m0 4h0m0 2h0m1-31h0m0 5h0m0 15h0m0 20h0m1-59h0m0 1h0m0 14h0m0 39h0m0 2h0m1-48h0m0 6h0m0 29h0m0 1h0m0 29h0m1-91h0m0 8h0m0 39h0m0 1h0m0 14h0m0 11h0m1-58h0m0 25h0m0 4h0m0 1h0m0 1h0m0 9h0m0 8h0m1-41h0m0 1h0m0 1h0m0 16h0m0 10h0m0 4h0m0 17h0m1-44h0m0 8h0m0 46h0m1-63h0m1-4h0m0 19h0m0 5h0m0 7h0m0 8h0m0 5h0m1 2h0m1-26h0m0 31h0m0 16h0m1-103h0m0 10h0m0 19h0m0 24h0m1-12h0m0 9h0m0 22h0m0 3h0m0 4h0m0 4h0m0 27h0m1-77h0m0 14h0m0 4h0m0 15h0m0 11h0m0 5h0m1-55h0m0 26h0m0 1h0m0 2h0m0 5h0m0 19h0m1-72h0m0 7h0m0 7h0m0 11h0m0 18h0m0 2h0m0 19h0m1-62h0m0 21h0m0 15h0m0 2h0m0 1h0m0 11h0m1-18h0m0 15h0m0 2h0m1-32h0m0 3h0m0 9h0m0 7h0m0 1h0m0 7h0m0 76h0m1-118h0m0 14h0m0 13h0m0 54h0m1-71h0m0 5h0m0 7h0m0 10h0m0 21h0m0 11h0m0 1h0m1-44h0m0 3h0m0 21h0m0 14h0m0 6h0m1-87h0m0 38h0m1-2h0m0 16h0m0 10h0m0 20h0m1-53h0m0 25h0m0 3h0m0 5h0m0 10h0m1-28h0m0 7h0m0 1h0m0 2h0m0 6h0m0 9h0m0 5h0m0 6h0m1-7h0m0 15h0m1-70h0m0 25h0m0 1h0m0 3h0m0 9h0m0 0h0m0 7h0m0 0h0m0 1h0m0 5h0m1-63h0m0 41h0m0 6h0m0 0h0m0 0h0m0 1h0m0 9h0m0 19h0m1-63h0m0 38h0m0 15h0m1-64h0m0 19h0m0 21h0m0 36h0m1-60h0m0 0h0m0 22h0m0 5h0m0 8h0m0 16h0m1-48h0m0 11h0m0 10h0m0 7h0m0 18h0m0 42h0m1-73h0m0 3h0m0 5h0m0 1h0m1-18h0m0 40h0m1-13h0m0 23h0m1-70h0m0 5h0m0 4h0m0 10h0m0 1h0m0 21h0m0 14h0m0 0h0m1-71h0m0 40h0m1-20h0m0 11h0m0 8h0m0 2h0m0 4h0m0 24h0m1-26h0m0 7h0m0 18h0m0 2h0m1-54h0m0 11h0m1-17h0m0 29h0m0 8h0m1 5h0m1-56h0m0 39h0m0 15h0m0 10h0m0 8h0m2-40h0m0 6h0m0 1h0m0 5h0m0 16h0m1-48h0m0 7h0m0 31h0m0 15h0m0 5h0m1-71h0m0 29h0m0 3h0m0 20h0m1-61h0m0 15h0m0 30h0m0 3h0m0 4h0m0 32h0m1-64h0m0 21h0m0 18h0m1-50h0m0 7h0m0 4h0m0 6h0m0 7h0m0 22h0m1-49h0m0 27h0m0 17h0m1 25h0m1-53h0m0 18h0m0 13h0m0 3h0m1-44h0m0 24h0m1 11h0m0 10h0m1-41h0m0 51h0m1-37h0m2-36h0m0 28h0m0 16h0m1-46h0m0 9h0m0 12h0m1 9h0m0 15h0m0 27h0m1-46h0m0 48h0m0 3h0m1-67h0m0 36h0m0 8h0m1-24h0m0 2h0m0 36h0m1-10h0m1-23h0m1-23h0m0 5h0m0 26h0m1-34h0m0 18h0m0 0h0m0 17h0m1-37h0m1-11h0m0 23h0m0 0h0m0 9h0m0 6h0m0 3h0m0 26h0m1-52h0m0 5h0m0 7h0m1-53h0m0 29h0m0 1h0m0 8h0m0 23h0m3-12h0m0 56h0m1-84h0m0 20h0m0 19h0m0 16h0m1-22h0m0 20h0m1-3h0m1 16h0m1-76h0m0 33h0m0 23h0m1-5h0m1-65h0m0 15h0m0 33h0m1-12h0m2 12h0m2 11h0m2-43h0m0 22h0m0 6h0m1-13h0m0 6h0m0 16h0m2-16h0m0 5h0m0 82h0m1-103h0m0 5h0m0 14h0m0 13h0m0 11h0m1-31h0m0 7h0m2 10h0m1-3h0m1-29h0m0 14h0m1 25h0m1-45h0m1 17h0m0 7h0m0 20h0m1-51h0m0 7h0m0 8h0m0 10h0m2 12h0m0 1h0m2 17h0m1-46h0m0 38h0m1-12h0m1-10h0m2-25h0m0 47h0m1-12h0m0 30h0m1-37h0m1-35h0m0 40h0m1-5h0m2 7h0m1-24h0m2 26h0m1-49h0m2 42h0m3-83h0m0 93h0m2 9h0m1-65h0m1 13h0m1-8h0m0 48h0m1-4h0m2-26h0m6-35h0m1-11h0m1-19h0m1 55h0m2 18h0m5-17h0m1-14h0m1-12h0m1-13h0m0 15h0m0 14h0m0 9h0m6-36h0m5 4h0m1-27h0m6 19h0m0 40h0m8-21h0m4-27h0m2 3h0m8-5h0m1-25h0m5 30h0m4-23h0m1 36h0m5-31h0m23-48h0m76-50h0"/><path stroke="#2ca02c" d="M2593 1355h0m1-5h0m8-18h0m2-11h0m1-12h0m1 2h0m0 10h0m2-8h0m2 2h0m1 29h0m1-23h0m2 1h0m1-41h0m0 30h0m1-23h0m1 9h0m0 4h0m1 33h0m1-8h0m1-59h0m0 61h0m1-44h0m0 38h0m1-57h0m0 5h0m0 17h0m1 59h0m1-47h0m1 9h0m1-47h0m0 23h0m2-14h0m0 25h0m0 16h0m1-63h0m1 50h0m0 19h0m1-47h0m0 25h0m0 57h0m0 1h0m1-24h0m0 17h0m0 6h0m0 2h0m1-100h0m0 94h0m2 10h0m1-21h0m1-80h0m0 32h0m0 6h0m0 15h0m0 3h0m0 20h0m1-81h0m0 7h0m0 4h0m0 95h0m1-119h0m0 9h0m0 40h0m0 66h0m1-93h0m0 9h0m0 2h0m1-39h0m0 47h0m0 4h0m0 36h0m0 11h0m1 28h0m1-135h0m0 27h0m0 28h0m0 32h0m0 35h0m1-6h0m1-65h0m0 59h0m1-71h0m0 32h0m0 16h0m0 18h0m1-97h0m0 17h0m0 29h0m0 39h0m1-99h0m0 8h0m0 3h0m0 51h0m0 12h0m0 37h0m1-67h0m0 36h0m1 1h0m0 4h0m0 48h0m1-128h0m0 71h0m0 12h0m0 29h0m0 19h0m1-136h0m0 0h0m0 69h0m1 9h0m0 18h0m2-79h0m0 57h0m1-67h0m0 8h0m0 40h0m0 4h0m1 8h0m1 9h0m0 57h0m1-117h0m0 28h0m0 25h0m1-68h0m0 14h0m0 12h0m0 5h0m0 19h0m0 19h0m1-30h0m0 23h0m0 14h0m0 8h0m0 8h0m1-103h0m0 6h0m0 137h0m2-103h0m0 1h0m0 69h0m0 1h0m0 16h0m1-90h0m0 38h0m0 21h0m0 28h0m0 7h0m1-131h0m0 74h0m0 29h0m0 46h0m1-62h0m0 61h0m1-78h0m0 50h0m1-123h0m0 3h0m0 44h0m0 28h0m0 24h0m1-51h0m0 20h0m0 29h0m1-29h0m0 43h0m0 1h0m1-102h0m0 61h0m0 43h0m0 4h0m0 30h0m1-118h0m0 45h0m0 53h0m1-70h0m0 79h0m1-140h0m0 79h0m1-81h0m0 51h0m0 8h0m1-22h0m0 55h0m0 49h0m1-112h0m0 4h0m0 46h0m0 11h0m1-75h0m0 3h0m0 42h0m0 16h0m0 27h0m0 21h0m1-84h0m0 13h0m0 82h0m0 6h0m1-155h0m0 17h0m0 26h0m0 9h0m0 30h0m0 39h0m0 22h0m0 3h0m1-137h0m0 30h0m0 8h0m0 7h0m0 15h0m0 14h0m0 36h0m1-20h0m0 2h0m0 1h0m0 49h0m1-147h0m0 145h0m0 7h0m0 14h0m1-167h0m0 1h0m0 7h0m0 3h0m0 25h0m0 66h0m1-81h0m0 100h0m0 24h0m1-117h0m0 45h0m0 3h0m0 68h0m1-124h0m0 92h0m0 31h0m1-81h0m0 54h0m0 14h0m0 4h0m1-128h0m0 38h0m0 38h0m0 88h0m0 0h0m1-149h0m0 2h0m0 147h0m1-117h0m0 58h0m1-111h0m0 90h0m2-63h0m0 17h0m0 29h0m0 67h0m0 14h0m1-136h0m0 74h0m0 10h0m0 22h0m0 25h0m1-55h0m0 22h0m0 9h0m0 22h0m1-157h0m1 11h0m0 52h0m0 22h0m0 29h0m0 21h0m0 5h0m0 18h0m1-157h0m0 84h0m0 28h0m0 25h0m0 28h0m1-160h0m0 73h0m0 69h0m1-128h0m0 10h0m0 4h0m1-45h0m0 100h0m0 5h0m1-90h0m0 78h0m0 17h0m0 17h0m0 43h0m0 5h0m1-127h0m0 26h0m0 38h0m0 1h0m0 23h0m1-100h0m0 46h0m0 24h0m0 81h0m1-171h0m0 88h0m0 5h0m1-117h0m0 90h0m0 102h0m1-159h0m0 48h0m0 8h0m0 65h0m1-146h0m0 80h0m0 25h0m1 13h0m0 10h0m0 61h0m1-198h0m0 93h0m0 47h0m0 22h0m1-26h0m1-49h0m0 26h0m0 5h0m1-78h0m0 23h0m0 24h0m0 1h0m0 11h0m0 2h0m0 82h0m1-174h0m0 18h0m0 10h0m0 72h0m0 38h0m1-55h0m1-81h0m0 39h0m0 78h0m0 48h0m1-127h0m0 62h0m0 12h0m0 15h0m0 3h0m1 19h0m0 35h0m1-183h0m0 37h0m0 93h0m0 3h0m0 23h0m1-136h0m0 29h0m0 59h0m0 5h0m0 29h0m1-18h0m0 17h0m1-99h0m0 47h0m0 72h0m0 17h0m0 9h0m1-119h0m0 19h0m0 56h0m1-117h0m0 72h0m0 17h0m0 68h0m1-167h0m0 38h0m0 28h0m1-105h0m0 63h0m0 104h0m0 14h0m1-173h0m0 30h0m0 117h0m1-140h0m0 125h0m1-143h0m0 107h0m0 48h0m1-133h0m0 39h0m0 117h0m0 19h0m1 4h0m1-162h0m0 73h0m0 30h0m0 71h0m1-161h0m0 11h0m0 43h0m0 26h0m0 2h0m1-87h0m0 34h0m0 64h0m1-112h0m0 73h0m0 8h0m0 42h0m0 31h0m0 10h0m0 5h0m2-8h0m1-88h0m1 10h0m0 14h0m0 38h0m0 3h0m1-75h0m0 1h0m0 11h0m0 6h0m0 58h0m0 2h0m1-176h0m0 81h0m0 15h0m0 66h0m0 36h0m1-112h0m1-79h0m0 119h0m1-70h0m0 82h0m1-69h0m2-76h0m0 31h0m0 37h0m1-3h0m1-63h0m0 130h0m0 14h0m0 50h0m0 22h0m1-233h0m0 60h0m0 84h0m0 34h0m1-76h0m0 32h0m0 41h0m0 48h0m1-51h0m1-101h0m0 63h0m0 74h0m2-160h0m0 179h0m1-111h0m0 6h0m1-59h0m0 62h0m0 84h0m1-162h0m0 16h0m0 68h0m0 52h0m0 7h0m1-157h0m0 32h0m0 43h0m0 86h0m0 36h0m1-182h0m0 28h0m0 45h0m0 94h0m1-47h0m1-149h0m0 116h0m0 27h0m0 53h0m2-171h0m0 46h0m1 3h0m0 68h0m1-39h0m0 81h0m1-114h0m0 8h0m0 93h0m1-187h0m0 79h0m0 60h0m0 61h0m0 32h0m1-3h0m2-110h0m1-106h0m0 33h0m1-40h0m0 138h0m0 23h0m0 53h0m1-209h0m0 11h0m0 204h0m1-82h0m1 19h0m1-120h0m0 30h0m0 56h0m1 29h0m2-82h0m0 148h0m0 8h0m2-117h0m3 40h0m1-77h0m0 52h0m1-86h0m2 164h0m1-220h0m0 88h0m0 143h0m1-49h0m1-103h0m1-20h0m0 16h0m2 130h0m1-97h0m1-109h0m0 130h0m0 10h0m1 72h0m1 31h0m1-67h0m1-83h0m0 47h0m1-88h0m0 9h0m0 152h0m1-169h0m0 59h0m0 45h0m0 55h0m0 25h0m3-118h0m0 19h0m1 108h0m0 5h0m3-45h0m1-53h0m0 53h0m1 6h0m3-58h0m1-18h0m1-124h0m0 35h0m1 133h0m0 65h0m1-232h0m0 61h0m0 106h0m1-3h0m2-82h0m1-71h0m2 226h0m5-15h0m1-8h0m4-30h0m1-120h0m2 153h0m4-41h0m1-81h0m5-32h0m0 49h0m1 49h0m1-182h0m0 133h0m0 17h0m1-81h0m2 20h0m0 27h0m9-3h0m1-78h0m1 165h0m1-130h0m0 67h0m1 92h0m0 15h0m1-135h0m0 93h0m2-7h0m1-5h0m0 23h0m1-75h0m2-10h0m1-19h0m3 24h0m1 49h0m1-30h0m2 19h0m1 36h0m2 14h0m4-131h0m10 15h0m4 58h0m2 4h0m3 45h0m7-32h0m4-36h0m43-26h0m6-109h0m3 150h0m42 58h0m15-160h0"/></g></g>
<line x1="502.50" y1="268.95" x2="675.50" y2="96.10" stroke="#000" stroke-width="0.95"/>
<circle cx="565.36" cy="190.88" r="3.25" fill="#7f7f7f" stroke="none" stroke-width="1.3" stroke-linejoin="miter"/><rect x="559.55" y="191.99" width="6.42" height="6.42" fill="#d62728" stroke="none" stroke-width="1.3" stroke-linejoin="miter"/><path d="M552.96 207.03L556.50 213.74L549.42 213.74Z" fill="#ff7f0e" stroke="none" stroke-width="1.3" stroke-linejoin="miter"/><path d="M552.67 202.13L557.26 206.72L552.67 211.31L548.08 206.72Z" fill="#1f77b4" stroke="none" stroke-width="1.3" stroke-linejoin="miter"/><path d="M541.81 252.72L544.50 252.72L544.50 254.93L546.70 254.93L546.70 257.62L544.50 257.62L544.50 259.82L541.81 259.82L541.81 257.62L539.61 257.62L539.61 254.93L541.81 254.93Z" fill="#2ca02c" stroke="none" stroke-width="1.3" stroke-linejoin="miter"/>
<circle cx="565.36" cy="190.88" r="3.25" fill="none" stroke="#000" stroke-width="1.3" stroke-linejoin="miter"/><rect x="559.55" y="191.99" width="6.42" height="6.42" fill="none" stroke="#000" stroke-width="1.3" stroke-linejoin="miter"/><path d="M552.96 207.03L556.50 213.74L549.42 213.74Z" fill="none" stroke="#000" stroke-width="1.3" stroke-linejoin="miter"/><path d="M552.67 202.13L557.26 206.72L552.67 211.31L548.08 206.72Z" fill="none" stroke="#000" stroke-width="1.3" stroke-linejoin="miter"/><path d="M541.81 252.72L544.50 252.72L544.50 254.93L546.70 254.93L546.70 257.62L544.50 257.62L544.50 259.82L541.81 259.82L541.81 257.62L539.61 257.62L539.61 254.93L541.81 254.93Z" fill="none" stroke="#000" stroke-width="1.3" stroke-linejoin="miter"/>
<rect x="503.40" y="97.00" width="171.20" height="171.05" fill="none" stroke="#000" stroke-opacity="0.4" stroke-width="1"/>
<rect x="502.50" y="96.10" width="173.00" height="172.85" fill="none" stroke="#333" stroke-width="1.1"/>
<text x="494.90" y="272.95" font-size="11.3" text-anchor="end">0</text>
<text x="494.90" y="244.14" font-size="11.3" text-anchor="end">100</text>
<text x="494.90" y="215.33" font-size="11.3" text-anchor="end">200</text>
<text x="494.90" y="186.52" font-size="11.3" text-anchor="end">300</text>
<text x="494.90" y="157.72" font-size="11.3" text-anchor="end">400</text>
<text x="494.90" y="128.91" font-size="11.3" text-anchor="end">500</text>
<text x="494.90" y="100.10" font-size="11.3" text-anchor="end">600</text>
<text x="502.50" y="284.75" font-size="11.3" text-anchor="middle">0</text>
<text x="560.17" y="284.75" font-size="11.3" text-anchor="middle">200</text>
<text x="617.83" y="284.75" font-size="11.3" text-anchor="middle">400</text>
<text x="675.50" y="284.75" font-size="11.3" text-anchor="middle">600</text>
<path d="M502.50 268.95h-3.6M502.50 240.14h-3.6M502.50 211.33h-3.6M502.50 182.52h-3.6M502.50 153.72h-3.6M502.50 124.91h-3.6M502.50 96.10h-3.6M502.50 268.95v3.6M560.17 268.95v3.6M617.83 268.95v3.6M675.50 268.95v3.6" stroke="#000" stroke-width="0.9"/>
<text x="589.00" y="298.75" font-size="11.45" text-anchor="middle">BEV g CO2e per km</text>
<text transform="translate(469.40 182.52) rotate(-90)" font-size="11.45" text-anchor="middle">FCEV g CO2e per km</text>
<text transform="translate(508.60 115.30) scale(1 1.1)" font-size="14.2">(c)</text>
<clipPath id="cd"><rect x="41.60" y="317.20" width="173.80" height="172.85"/></clipPath>
<path d="M41.60 317.20L215.40 317.20L41.60 490.05Z" fill="#f9f1de"/>
<path d="M215.40 317.20L215.40 490.05L41.60 490.05Z" fill="#deeaf4"/>
<g clip-path="url(#cd)"><g transform="scale(0.2)" fill="none" stroke-linecap="round" stroke-width="14"><path stroke="#7f7f7f" d="M424 2190h0m12 14h0m4-16h0m5 13h0m9-48h0m3 5h0m1-1h0m1-2h0m2 18h0m2 3h0m3-36h0m1 11h0m8-3h0m3-7h0m5 14h0m3-11h0m1 4h0m1-27h0m0 28h0m3-41h0m0 24h0m0 18h0m1-41h0m0 39h0m2-11h0m0 0h0m0 15h0m2-71h0m2 56h0m2 5h0m1-29h0m2-3h0m0 20h0m1-19h0m1-7h0m1 24h0m0 15h0m1-36h0m1 13h0m3 8h0m0 5h0m1-21h0m1 18h0m2-42h0m1 10h0m0 14h0m0 1h0m0 7h0m1-32h0m0 29h0m0 11h0m1-6h0m1-7h0m2-7h0m1-33h0m0 7h0m0 1h0m0 24h0m0 21h0m1-47h0m1 19h0m0 2h0m0 25h0m1-21h0m2-6h0m0 15h0m0 1h0m1-67h0m0 19h0m0 30h0m1-22h0m0 26h0m1-9h0m0 27h0m2-1h0m1-19h0m1-58h0m0 43h0m0 36h0m2-52h0m0 31h0m1 11h0m0 6h0m0 0h0m2-34h0m0 15h0m1-25h0m0 6h0m0 20h0m1-59h0m0 44h0m0 14h0m0 3h0m1-35h0m0 21h0m0 15h0m1 1h0m1-38h0m0 22h0m1 6h0m2-19h0m0 29h0m0 6h0m1-8h0m0 3h0m1-38h0m1-1h0m1 5h0m1-29h0m0 36h0m1-54h0m0 10h0m2 22h0m0 19h0m0 8h0m0 15h0m0 2h0m1-56h0m0 0h0m0 61h0m0 2h0m1-58h0m0 9h0m1-20h0m0 17h0m1 7h0m0 3h0m0 7h0m1 6h0m1-12h0m1-4h0m0 10h0m2-40h0m0 2h0m0 5h0m0 0h0m1 47h0m0 2h0m1-25h0m0 3h0m1 7h0m1-62h0m0 32h0m0 3h0m0 5h0m0 8h0m0 6h0m0 15h0m0 1h0m1-52h0m0 39h0m1-12h0m0 4h0m1-3h0m0 23h0m1-52h0m0 48h0m2-73h0m1 67h0m0 1h0m1-23h0m0 5h0m0 23h0m1-62h0m0 45h0m1-4h0m1 19h0m0 10h0m1-92h0m0 62h0m0 7h0m1-27h0m0 37h0m0 0h0m1-28h0m0 2h0m0 23h0m0 0h0m1-32h0m0 18h0m1-46h0m0 43h0m0 16h0m1-26h0m0 11h0m1-4h0m0 3h0m0 0h0m1 6h0m0 4h0m1-33h0m0 14h0m2-23h0m0 4h0m0 25h0m0 1h0m1-1h0m0 1h0m1-25h0m0 1h0m0 18h0m1-57h0m0 42h0m0 14h0m0 9h0m1-25h0m1-30h0m0 15h0m0 24h0m1-43h0m0 32h0m0 24h0m0 5h0m2-50h0m0 13h0m0 6h0m1-18h0m0 26h0m0 10h0m1-11h0m0 2h0m1 2h0m0 20h0m1-58h0m0 33h0m0 16h0m1-30h0m0 23h0m0 2h0m1-12h0m0 15h0m0 4h0m2-9h0m1-15h0m0 29h0m1-37h0m0 4h0m1-8h0m0 6h0m2-28h0m0 23h0m0 9h0m0 12h0m1-5h0m1 1h0m1-31h0m0 33h0m1 0h0m1 5h0m3-22h0m2-14h0m2 16h0m1-38h0m0 52h0m1-21h0m0 26h0m1-44h0m0 24h0m1-6h0m1 10h0m2-25h0m3 2h0m0 16h0m1-21h0m2-11h0m1-13h0m0 25h0m0 18h0m1 8h0m1-73h0m0 12h0m0 20h0m0 23h0m0 6h0m1-17h0m2 0h0m1 17h0m1-32h0m0 24h0m2-35h0m0 2h0m4 5h0m1 13h0m0 5h0m0 8h0m3-45h0m1 13h0m0 34h0m3-15h0m0 11h0m1-28h0m0 18h0m2-1h0m4-47h0m2 28h0m4-19h0m7 31h0m1-34h0m0 3h0m3 3h0m1-8h0m8-9h0m3 24h0m2-33h0m10-12h0m8 24h0m0 55h0m1-99h0m1 46h0m6 28h0m2-80h0m1 44h0m2 2h0m4-26h0m6 12h0m3 41h0m1 11h0m1-5h0m13-80h0m2 4h0m2-5h0m5 3h0m22-32h0m1 9h0m29-55h0m5 66h0m27-30h0m1 1h0m77-83h0m8-6h0"/><path stroke="#d62728" d="M414 2201h0m10-45h0m2 50h0m10-73h0m1-14h0m4 9h0m3 24h0m3-48h0m4-10h0m2 41h0m0 17h0m4-42h0m0 27h0m1-18h0m3 12h0m1-49h0m2 29h0m1-4h0m0 27h0m2-22h0m1-28h0m1 48h0m1-83h0m0 28h0m0 56h0m0 4h0m0 12h0m1-127h0m0 109h0m0 5h0m1-94h0m1 38h0m0 1h0m0 31h0m0 8h0m0 10h0m1-68h0m0 46h0m1-74h0m0 90h0m0 15h0m0 21h0m1-79h0m0 26h0m1-79h0m0 86h0m1-38h0m2 52h0m3-24h0m1 26h0m1-77h0m0 8h0m0 29h0m0 23h0m1-14h0m0 4h0m0 25h0m0 26h0m1-79h0m0 26h0m1-45h0m0 66h0m1-63h0m1-57h0m0 62h0m0 20h0m0 3h0m0 5h0m0 30h0m1-6h0m0 22h0m0 5h0m1-119h0m0 65h0m0 27h0m1-27h0m3-47h0m0 29h0m1-15h0m1-43h0m0 36h0m0 93h0m1-116h0m0 42h0m0 31h0m1-48h0m0 22h0m0 10h0m0 63h0m1-122h0m1 39h0m0 43h0m0 4h0m0 6h0m0 23h0m2-84h0m0 4h0m0 4h0m0 51h0m0 5h0m1-102h0m0 18h0m0 30h0m0 8h0m0 8h0m0 21h0m1-64h0m0 36h0m1-15h0m0 9h0m0 4h0m0 42h0m1-91h0m0 40h0m0 29h0m1-64h0m1 12h0m0 18h0m0 41h0m0 20h0m1-81h0m2-21h0m0 32h0m0 5h0m0 41h0m0 27h0m0 3h0m0 10h0m1-89h0m0 34h0m1-56h0m0 46h0m0 35h0m1-45h0m0 10h0m2 30h0m0 14h0m1-122h0m0 9h0m0 45h0m0 16h0m0 18h0m1-63h0m1 9h0m0 25h0m0 58h0m1-122h0m0 7h0m0 68h0m1 27h0m0 7h0m2 2h0m0 18h0m1-151h0m0 52h0m0 45h0m0 13h0m1-51h0m0 35h0m0 50h0m1-69h0m0 5h0m0 24h0m0 27h0m0 0h0m1-123h0m0 100h0m0 18h0m2-56h0m0 48h0m0 16h0m1-74h0m0 13h0m0 9h0m0 8h0m0 21h0m0 10h0m0 34h0m1-151h0m0 57h0m0 8h0m0 60h0m1-136h0m0 1h0m0 43h0m0 19h0m0 14h0m0 1h0m0 1h0m0 15h0m0 7h0m0 44h0m2-105h0m0 21h0m0 32h0m0 42h0m1-86h0m0 41h0m1-53h0m0 72h0m1-32h0m0 30h0m1-39h0m0 41h0m0 7h0m1-95h0m0 35h0m0 14h0m0 18h0m0 11h0m0 41h0m1-116h0m0 45h0m0 8h0m0 34h0m0 10h0m1 0h0m0 11h0m0 6h0m1-66h0m0 5h0m0 11h0m1-3h0m0 7h0m0 15h0m1-118h0m0 29h0m0 57h0m0 36h0m0 6h0m0 18h0m1-54h0m1-52h0m0 78h0m0 8h0m1-115h0m0 7h0m0 29h0m0 14h0m0 2h0m0 10h0m0 10h0m0 13h0m1-93h0m0 10h0m0 53h0m0 45h0m0 7h0m0 28h0m1-96h0m0 35h0m1-57h0m0 32h0m0 31h0m0 29h0m0 11h0m1-123h0m0 42h0m0 26h0m0 5h0m0 16h0m1-68h0m0 7h0m0 19h0m0 20h0m0 15h0m0 6h0m0 25h0m0 4h0m1-117h0m0 24h0m0 12h0m0 53h0m0 13h0m0 5h0m1-104h0m0 20h0m0 32h0m0 79h0m1-114h0m0 6h0m0 15h0m0 31h0m0 52h0m0 4h0m1-137h0m0 16h0m0 59h0m0 16h0m1-47h0m0 35h0m1-72h0m0 22h0m0 21h0m0 17h0m0 3h0m0 19h0m1-63h0m0 31h0m0 20h0m0 15h0m0 36h0m1-76h0m0 17h0m0 26h0m0 26h0m1-67h0m0 33h0m1-79h0m0 40h0m0 33h0m0 1h0m1-89h0m0 47h0m0 15h0m0 50h0m1-31h0m0 27h0m0 9h0m1-63h0m0 6h0m0 30h0m1-13h0m0 1h0m0 14h0m0 28h0m1-94h0m1-13h0m0 52h0m0 64h0m1 16h0m1-133h0m0 23h0m0 37h0m0 27h0m1-89h0m0 29h0m0 11h0m0 11h0m0 5h0m0 11h0m0 13h0m0 19h0m1-43h0m0 31h0m0 4h0m0 14h0m1-102h0m0 38h0m0 63h0m2-123h0m0 55h0m0 17h0m2-8h0m1-57h0m0 71h0m0 28h0m0 22h0m1-111h0m0 24h0m0 2h0m0 5h0m0 17h0m0 9h0m1-26h0m1-49h0m0 9h0m0 57h0m1-101h0m0 103h0m0 12h0m0 26h0m1-80h0m0 30h0m0 6h0m0 16h0m0 4h0m0 0h0m0 12h0m0 1h0m0 24h0m0 1h0m0 2h0m1-130h0m0 58h0m0 68h0m1-108h0m0 43h0m0 33h0m0 24h0m1-83h0m0 11h0m0 20h0m0 25h0m0 22h0m1-117h0m0 20h0m0 2h0m0 92h0m1-100h0m0 20h0m0 50h0m0 9h0m0 9h0m0 20h0m0 31h0m1-127h0m0 34h0m0 41h0m1-51h0m0 28h0m0 3h0m0 9h0m0 26h0m2-46h0m0 32h0m0 15h0m1-80h0m0 18h0m1-38h0m0 31h0m0 43h0m0 12h0m1-114h0m0 48h0m0 33h0m0 26h0m0 6h0m1-72h0m0 29h0m1-61h0m0 60h0m0 37h0m1-95h0m0 22h0m0 20h0m0 35h0m0 5h0m0 35h0m1-84h0m0 44h0m0 40h0m1-103h0m0 63h0m1-79h0m0 63h0m0 10h0m1-5h0m1-77h0m0 42h0m0 74h0m1-40h0m0 0h0m0 15h0m1-23h0m0 7h0m0 33h0m1-130h0m0 62h0m0 10h0m0 34h0m0 1h0m1-27h0m0 35h0m1-40h0m0 43h0m1-144h0m1 110h0m0 1h0m0 22h0m1-48h0m0 55h0m0 32h0m1-90h0m0 27h0m0 26h0m0 4h0m0 11h0m0 8h0m0 2h0m1-107h0m1 35h0m0 45h0m0 13h0m1-57h0m0 8h0m0 13h0m1-34h0m0 35h0m0 32h0m1-54h0m0 31h0m1-41h0m0 5h0m0 38h0m0 7h0m0 21h0m0 12h0m1-68h0m0 26h0m0 1h0m1-42h0m0 68h0m2-57h0m1-2h0m0 2h0m1 0h0m0 29h0m1-102h0m0 69h0m0 18h0m0 4h0m1-133h0m1 60h0m0 31h0m0 2h0m0 29h0m0 24h0m0 41h0m1-114h0m0 26h0m0 21h0m1-37h0m0 20h0m1 12h0m1-22h0m0 46h0m2 13h0m1-85h0m1 104h0m1-57h0m1-93h0m1 39h0m1 58h0m1-33h0m0 12h0m0 36h0m0 13h0m0 1h0m1-38h0m0 21h0m1-46h0m0 23h0m1-16h0m0 58h0m1-110h0m0 12h0m0 84h0m1-22h0m0 3h0m0 7h0m0 9h0m1-53h0m0 10h0m0 60h0m1-120h0m1 29h0m0 26h0m0 44h0m1-39h0m0 28h0m1-26h0m1-52h0m0 6h0m1-52h0m0 7h0m1 133h0m0 10h0m1-147h0m0 73h0m0 53h0m1-24h0m0 18h0m1-94h0m0 13h0m0 3h0m0 26h0m0 56h0m1-90h0m0 54h0m0 18h0m0 5h0m1-24h0m0 50h0m2-94h0m0 62h0m0 35h0m1-68h0m0 14h0m2 71h0m1-50h0m0 15h0m1-140h0m1 105h0m1-53h0m0 67h0m0 2h0m0 9h0m1-40h0m0 27h0m1 25h0m1-51h0m0 12h0m0 2h0m0 2h0m1-26h0m0 40h0m0 8h0m1 15h0m2-115h0m0 65h0m1-18h0m0 57h0m2-51h0m1-6h0m0 29h0m2 9h0m0 7h0m2-74h0m0 10h0m0 54h0m0 10h0m0 0h0m0 5h0m2 2h0m1-20h0m0 10h0m1-58h0m0 12h0m2 35h0m3-44h0m1 43h0m0 14h0m1-71h0m0 44h0m0 33h0m0 6h0m1-107h0m0 96h0m0 10h0m1-47h0m1 13h0m1-5h0m1-56h0m1 11h0m1 0h0m0 44h0m0 42h0m2-78h0m0 36h0m2 40h0m1-86h0m2 3h0m0 69h0m1-27h0m6 17h0m2-47h0m2-136h0m0 40h0m2 62h0m1 48h0m1-58h0m2 46h0m3-7h0m0 36h0m1-61h0m0 13h0m2 46h0m4-55h0m1-72h0m0 63h0m1-10h0m5 41h0m4-52h0m0 62h0m1-58h0m5 31h0m1 23h0m2-47h0m5 23h0m1-100h0m1-23h0m0 99h0m0 43h0m1-50h0m6-27h0m2 44h0m7 10h0m2-172h0m7 144h0m4 14h0m12-22h0m4-49h0m5 6h0m0 23h0m14 3h0m2-2h0m0 14h0m1-111h0m40-19h0"/><path stroke="#ff7f0e" d="M354 2246h0m16-13h0m12 3h0m5-26h0m0 32h0m7-20h0m0 3h0m3-10h0m4-28h0m0 31h0m3-32h0m4-50h0m3 11h0m0 43h0m2-45h0m0 27h0m0 39h0m1-9h0m1 26h0m1-43h0m1 9h0m1-19h0m0 44h0m1-12h0m1-21h0m1-28h0m1 36h0m2 1h0m0 7h0m1-16h0m1-22h0m0 21h0m1 3h0m1-34h0m0 6h0m1 8h0m0 47h0m4-91h0m0 10h0m1 15h0m0 21h0m0 19h0m1-64h0m0 5h0m0 58h0m1-40h0m1-2h0m0 1h0m0 28h0m0 4h0m2-64h0m0 71h0m1-45h0m0 20h0m1-94h0m0 65h0m0 36h0m1-28h0m0 61h0m1-73h0m1-48h0m0 28h0m0 17h0m0 15h0m0 19h0m0 6h0m1-33h0m0 13h0m0 42h0m1-24h0m0 2h0m0 22h0m1-110h0m1 40h0m1 62h0m0 6h0m1-80h0m1-16h0m0 73h0m1-17h0m0 41h0m3-45h0m1-9h0m0 4h0m0 33h0m1-23h0m1-17h0m1 5h0m0 3h0m0 28h0m1-13h0m0 4h0m0 1h0m0 0h0m1-42h0m0 18h0m2 7h0m0 18h0m0 12h0m0 0h0m0 13h0m1-27h0m0 0h0m1-74h0m0 49h0m0 5h0m1-39h0m0 11h0m1 5h0m0 3h0m0 1h0m0 33h0m0 13h0m1-7h0m1-50h0m0 6h0m0 5h0m1-13h0m0 56h0m1-72h0m0 4h0m0 36h0m1-37h0m0 45h0m0 12h0m1-27h0m0 22h0m0 6h0m1-74h0m0 28h0m0 15h0m0 0h0m0 5h0m1-37h0m0 51h0m0 7h0m1-83h0m0 41h0m0 76h0m1-94h0m0 8h0m0 9h0m1-83h0m0 45h0m0 30h0m0 6h0m0 30h0m1-2h0m0 7h0m0 3h0m1-80h0m0 27h0m0 44h0m0 16h0m1-88h0m0 61h0m0 1h0m0 7h0m1-18h0m0 3h0m0 21h0m0 6h0m0 24h0m1-77h0m0 29h0m0 18h0m1-56h0m0 20h0m0 28h0m0 34h0m1-89h0m0 0h0m0 6h0m0 33h0m0 13h0m0 1h0m0 18h0m0 1h0m0 7h0m1-100h0m0 49h0m0 40h0m1-96h0m0 6h0m0 34h0m0 11h0m0 39h0m1-73h0m0 17h0m0 0h0m0 17h0m0 35h0m0 3h0m1-68h0m0 10h0m0 6h0m1-16h0m0 27h0m0 1h0m0 8h0m0 18h0m0 30h0m1-97h0m0 26h0m0 4h0m0 5h0m0 23h0m0 10h0m0 24h0m1-32h0m1-38h0m0 7h0m0 25h0m0 5h0m0 8h0m1-38h0m0 14h0m0 3h0m0 11h0m0 1h0m0 27h0m1-46h0m0 33h0m1-11h0m0 4h0m0 15h0m1-34h0m0 2h0m0 1h0m0 34h0m0 15h0m1-63h0m0 18h0m1-68h0m0 36h0m0 43h0m1-74h0m0 2h0m0 54h0m0 4h0m0 9h0m1-30h0m0 43h0m0 11h0m0 0h0m0 8h0m1-111h0m0 83h0m1-56h0m0 49h0m0 2h0m1-74h0m0 35h0m0 10h0m0 2h0m1-30h0m0 63h0m1-59h0m1-41h0m0 18h0m0 37h0m0 26h0m0 15h0m0 6h0m0 0h0m0 15h0m1-95h0m0 0h0m0 3h0m0 15h0m0 46h0m0 0h0m1-78h0m0 37h0m0 22h0m0 13h0m0 5h0m0 13h0m0 6h0m0 2h0m1-40h0m0 14h0m0 15h0m2-77h0m0 95h0m1-105h0m0 9h0m0 52h0m0 17h0m0 18h0m1-98h0m0 21h0m0 16h0m0 9h0m0 2h0m1-25h0m0 7h0m0 8h0m0 49h0m0 3h0m0 2h0m1-75h0m0 16h0m0 57h0m1-69h0m0 3h0m0 4h0m0 21h0m1-33h0m0 44h0m0 13h0m1-64h0m0 15h0m0 11h0m0 4h0m0 3h0m0 50h0m1-123h0m0 60h0m0 48h0m1-57h0m0 3h0m0 9h0m0 2h0m0 13h0m1-60h0m0 1h0m0 16h0m0 7h0m0 25h0m0 27h0m0 6h0m1-100h0m0 52h0m0 38h0m0 16h0m0 4h0m0 5h0m0 10h0m1-58h0m0 33h0m0 2h0m0 11h0m1-72h0m0 4h0m0 22h0m0 10h0m0 4h0m0 49h0m1-106h0m0 26h0m0 18h0m1-40h0m0 5h0m0 19h0m0 28h0m0 1h0m0 21h0m0 1h0m1-102h0m0 49h0m0 13h0m0 20h0m0 32h0m1-93h0m0 40h0m0 29h0m0 1h0m0 10h0m0 19h0m1-47h0m0 12h0m0 4h0m1-30h0m0 15h0m0 24h0m1-104h0m0 7h0m0 9h0m0 32h0m0 31h0m0 25h0m0 2h0m1-78h0m0 5h0m0 16h0m0 41h0m0 14h0m1-71h0m0 32h0m0 9h0m0 15h0m0 7h0m0 4h0m0 16h0m1-94h0m0 16h0m0 8h0m0 9h0m0 21h0m0 18h0m0 9h0m1-47h0m0 14h0m0 18h0m0 16h0m1-49h0m0 27h0m1-29h0m0 16h0m0 42h0m1-131h0m0 68h0m0 19h0m0 24h0m1-73h0m0 16h0m0 23h0m0 3h0m1 40h0m1-78h0m0 48h0m0 17h0m0 5h0m0 10h0m1-106h0m0 89h0m0 3h0m1-81h0m0 20h0m0 1h0m0 46h0m0 0h0m0 10h0m0 8h0m0 11h0m1-87h0m0 1h0m0 30h0m0 10h0m0 26h0m0 7h0m1-84h0m0 29h0m0 68h0m1-81h0m0 40h0m0 29h0m0 10h0m1-66h0m0 32h0m0 49h0m1-134h0m0 9h0m0 3h0m0 26h0m0 4h0m0 18h0m0 9h0m1-25h0m0 33h0m0 1h0m0 19h0m0 19h0m1-64h0m0 22h0m0 0h0m0 7h0m0 14h0m0 28h0m1-74h0m0 27h0m0 9h0m0 14h0m0 15h0m1-88h0m0 11h0m0 29h0m0 11h0m0 2h0m0 2h0m1-80h0m0 66h0m0 24h0m0 7h0m0 15h0m1-90h0m0 21h0m0 36h0m0 2h0m0 11h0m0 13h0m0 14h0m0 3h0m1-45h0m0 39h0m1-100h0m0 52h0m0 32h0m0 15h0m1-30h0m0 4h0m1-25h0m0 15h0m0 29h0m2-41h0m0 44h0m1-97h0m0 46h0m0 3h0m0 45h0m0 17h0m1-91h0m0 56h0m1-96h0m0 9h0m0 39h0m0 19h0m0 19h0m1-13h0m0 22h0m0 2h0m1-70h0m0 34h0m0 6h0m0 6h0m0 26h0m2-104h0m0 6h0m0 18h0m0 59h0m0 5h0m0 22h0m1-86h0m0 50h0m0 34h0m1-106h0m0 57h0m0 11h0m0 11h0m0 17h0m0 2h0m0 1h0m0 4h0m1-99h0m0 25h0m0 20h0m0 2h0m0 7h0m1-37h0m0 33h0m0 11h0m0 5h0m0 4h0m0 14h0m1-2h0m0 24h0m0 0h0m1-84h0m0 9h0m0 16h0m0 4h0m1-64h0m0 6h0m0 44h0m0 16h0m0 14h0m0 2h0m0 37h0m1-92h0m0 13h0m1 28h0m0 22h0m0 16h0m1-3h0m1-30h0m0 2h0m0 28h0m1-34h0m1-34h0m0 24h0m1 1h0m0 9h0m0 3h0m0 10h0m1-64h0m0 63h0m0 4h0m0 36h0m1-71h0m0 22h0m0 23h0m1 7h0m1-69h0m0 53h0m1-42h0m0 11h0m0 18h0m1-77h0m0 54h0m0 22h0m0 11h0m1-26h0m0 16h0m1 19h0m1-57h0m0 43h0m0 7h0m0 9h0m1-84h0m0 52h0m0 12h0m1-15h0m0 11h0m1-68h0m0 46h0m0 21h0m1-13h0m0 0h0m0 12h0m1-13h0m1-36h0m0 17h0m1 20h0m0 26h0m0 3h0m1-77h0m0 57h0m0 4h0m1-98h0m0 81h0m1-31h0m0 20h0m0 14h0m0 5h0m0 27h0m1-110h0m1 15h0m0 23h0m0 20h0m0 21h0m1-7h0m0 37h0m1-86h0m0 23h0m0 3h0m0 41h0m1-65h0m0 51h0m0 14h0m1-85h0m0 14h0m0 48h0m1-46h0m0 5h0m0 86h0m1-98h0m0 69h0m0 5h0m1-34h0m1-4h0m0 48h0m2-72h0m1 20h0m0 30h0m0 22h0m1-33h0m0 27h0m2-49h0m0 38h0m1-55h0m1-18h0m1 82h0m1-50h0m0 21h0m0 3h0m0 31h0m0 8h0m1-55h0m1-22h0m0 2h0m1 32h0m1-14h0m0 2h0m0 6h0m0 17h0m0 3h0m0 2h0m1 13h0m2-57h0m0 24h0m1 10h0m1-37h0m0 20h0m1-3h0m1-64h0m0 55h0m0 30h0m1-104h0m0 25h0m0 19h0m1-26h0m0 6h0m0 18h0m0 4h0m0 31h0m0 31h0m1-25h0m2-12h0m2-19h0m0 36h0m0 31h0m1-82h0m0 63h0m1-78h0m0 8h0m0 71h0m3-35h0m1-54h0m0 21h0m0 17h0m0 2h0m1 12h0m1-40h0m0 47h0m2-49h0m0 3h0m2 22h0m2-50h0m1 48h0m1 26h0m1-21h0m1-52h0m4 88h0m2-36h0m0 12h0m3-60h0m0 17h0m0 33h0m3-46h0m1-20h0m1 50h0m1-57h0m0 1h0m1 70h0m1-16h0m0 11h0m0 15h0m4-22h0m2-26h0m0 44h0m0 18h0m0 1h0m3-66h0m0 47h0m0 1h0m0 4h0m2-47h0m2 31h0m1-30h0m0 23h0m1 34h0m1-26h0m0 1h0m1-77h0m0 98h0m3-33h0m0 14h0m1-63h0m1 60h0m3-46h0m0 32h0m2-1h0m2-29h0m1 9h0m1 44h0m2-33h0m1-64h0m0 56h0m3-31h0m2-60h0m0 84h0m4 3h0m2 31h0m6-16h0m2-54h0m7 17h0m10-2h0m1 11h0m7-46h0m6-7h0m5 32h0m4-13h0m1 43h0m3-42h0m1-34h0m14-13h0m3 21h0m1 2h0m42-19h0"/><path stroke="#1f77b4" d="M379 2213h0m6-26h0m4 39h0m1-20h0m3-25h0m3 52h0m13-17h0m2-26h0m2 4h0m2-20h0m1 49h0m1-54h0m2 3h0m1-18h0m0 33h0m1-68h0m0 71h0m0 8h0m1-68h0m2 33h0m1 26h0m2-10h0m1-94h0m0 99h0m0 36h0m1-48h0m2 0h0m0 7h0m2-85h0m0 95h0m1-73h0m0 12h0m0 1h0m0 9h0m0 15h0m0 19h0m0 9h0m1-89h0m0 52h0m0 27h0m1-36h0m0 19h0m0 0h0m0 26h0m1 8h0m1-54h0m0 44h0m1-64h0m0 37h0m1-17h0m1-15h0m1-28h0m0 46h0m0 7h0m1 13h0m0 15h0m0 2h0m1-56h0m1-36h0m0 59h0m0 38h0m1-75h0m0 2h0m0 48h0m0 4h0m1-19h0m1-33h0m0 36h0m0 14h0m0 5h0m0 11h0m1-86h0m0 61h0m1-66h0m0 25h0m0 73h0m1-17h0m0 29h0m1-90h0m0 15h0m0 41h0m1-94h0m0 80h0m0 15h0m0 19h0m1-56h0m0 36h0m1-81h0m0 6h0m0 13h0m0 33h0m0 3h0m1-55h0m1-9h0m0 20h0m0 30h0m0 10h0m0 4h0m0 30h0m1-43h0m0 9h0m0 32h0m1-39h0m1-39h0m0 43h0m1-13h0m0 24h0m1-6h0m0 13h0m0 13h0m0 10h0m1-74h0m0 7h0m0 40h0m0 4h0m0 3h0m1-34h0m0 2h0m0 14h0m0 13h0m0 3h0m0 1h0m0 7h0m1-87h0m0 72h0m0 15h0m0 14h0m1-110h0m0 16h0m0 10h0m0 12h0m0 3h0m0 15h0m0 12h0m0 31h0m0 17h0m1-66h0m0 17h0m0 35h0m0 11h0m0 18h0m1-100h0m0 8h0m0 34h0m0 5h0m0 9h0m0 3h0m0 6h0m1-105h0m0 16h0m0 12h0m0 10h0m0 53h0m0 19h0m1-115h0m0 38h0m0 16h0m0 12h0m0 12h0m0 2h0m0 3h0m0 1h0m0 13h0m0 5h0m1-104h0m0 7h0m0 27h0m0 4h0m0 10h0m0 40h0m0 14h0m0 16h0m1-18h0m0 5h0m1-60h0m0 55h0m0 1h0m0 1h0m1-101h0m0 25h0m0 14h0m0 4h0m0 1h0m0 1h0m0 30h0m0 6h0m0 0h0m0 7h0m0 4h0m0 25h0m1-85h0m0 10h0m0 36h0m0 39h0m1-98h0m0 63h0m1-86h0m0 5h0m0 13h0m0 2h0m0 21h0m0 19h0m0 50h0m1-92h0m0 66h0m0 4h0m1-81h0m0 32h0m0 8h0m0 7h0m0 8h0m0 8h0m0 1h0m0 20h0m0 9h0m0 12h0m1-77h0m0 7h0m0 9h0m0 2h0m0 21h0m0 3h0m0 8h0m0 5h0m1-25h0m0 14h0m0 5h0m0 3h0m0 2h0m1-102h0m0 19h0m0 38h0m0 8h0m0 3h0m0 9h0m0 25h0m0 14h0m1-100h0m0 21h0m0 19h0m0 21h0m1-38h0m0 9h0m0 11h0m0 8h0m0 22h0m0 1h0m0 1h0m0 6h0m0 5h0m0 9h0m0 7h0m1-115h0m0 14h0m0 8h0m0 32h0m0 29h0m0 21h0m0 3h0m0 25h0m1-110h0m0 44h0m0 13h0m0 3h0m1-77h0m0 45h0m0 18h0m0 14h0m0 6h0m0 2h0m0 8h0m1-93h0m0 23h0m0 33h0m0 1h0m0 12h0m0 8h0m0 1h0m0 27h0m1-113h0m0 14h0m0 9h0m0 23h0m0 0h0m0 8h0m0 5h0m0 5h0m0 13h0m0 5h0m0 8h0m0 2h0m1-96h0m0 11h0m0 22h0m0 2h0m0 0h0m0 15h0m0 28h0m0 11h0m1-61h0m0 16h0m0 3h0m0 1h0m0 24h0m0 39h0m1-118h0m0 27h0m0 5h0m0 1h0m0 19h0m0 14h0m0 4h0m0 10h0m0 45h0m1-113h0m0 12h0m0 16h0m0 5h0m0 29h0m0 27h0m1-66h0m0 13h0m0 4h0m0 5h0m0 2h0m0 0h0m0 40h0m0 4h0m0 0h0m0 9h0m1-108h0m0 8h0m0 13h0m0 11h0m0 17h0m0 27h0m1-67h0m0 12h0m0 10h0m0 22h0m0 31h0m0 23h0m1-103h0m0 24h0m0 22h0m0 6h0m0 3h0m0 4h0m0 7h0m0 5h0m0 7h0m0 14h0m0 5h0m0 6h0m1-127h0m0 16h0m0 40h0m0 8h0m0 6h0m0 2h0m0 5h0m0 13h0m0 15h0m0 1h0m0 10h0m0 25h0m1-96h0m0 15h0m0 17h0m0 11h0m0 4h0m0 1h0m0 26h0m0 4h0m1-89h0m0 20h0m0 10h0m0 2h0m0 10h0m0 3h0m0 14h0m1-72h0m0 8h0m0 6h0m0 6h0m0 5h0m0 13h0m0 7h0m0 1h0m0 12h0m0 25h0m0 1h0m0 9h0m1-112h0m0 1h0m0 3h0m0 72h0m0 18h0m0 19h0m0 7h0m0 8h0m1-101h0m0 2h0m0 7h0m0 11h0m0 29h0m0 7h0m0 0h0m0 9h0m0 9h0m0 5h0m0 30h0m1-87h0m0 1h0m0 3h0m0 7h0m0 7h0m0 11h0m0 12h0m0 10h0m0 2h0m0 2h0m1-113h0m0 62h0m0 1h0m0 9h0m0 8h0m0 4h0m0 18h0m0 24h0m1-104h0m0 3h0m0 13h0m0 6h0m0 25h0m0 4h0m0 7h0m0 6h0m0 11h0m0 4h0m0 1h0m0 14h0m0 28h0m1-154h0m0 18h0m0 17h0m0 30h0m0 8h0m0 4h0m0 3h0m0 10h0m0 2h0m0 13h0m0 17h0m0 13h0m0 3h0m1-44h0m0 2h0m0 0h0m0 36h0m0 8h0m1-116h0m0 31h0m0 8h0m0 7h0m0 6h0m0 15h0m0 11h0m0 8h0m0 3h0m0 20h0m0 1h0m0 0h0m1-123h0m0 2h0m0 20h0m0 14h0m0 4h0m0 6h0m0 3h0m0 1h0m0 14h0m0 3h0m0 8h0m0 2h0m0 12h0m0 13h0m0 7h0m1-107h0m0 23h0m0 2h0m0 0h0m0 26h0m0 3h0m0 24h0m0 6h0m0 6h0m0 16h0m0 18h0m1-108h0m0 8h0m0 4h0m0 23h0m0 1h0m0 16h0m0 31h0m0 9h0m0 21h0m1-86h0m0 3h0m0 4h0m0 1h0m0 26h0m0 9h0m0 9h0m0 3h0m0 1h0m0 15h0m1-100h0m0 3h0m0 34h0m0 1h0m0 10h0m0 6h0m0 10h0m0 29h0m0 4h0m1-124h0m0 43h0m0 25h0m0 10h0m0 4h0m0 3h0m0 14h0m1-89h0m0 30h0m0 41h0m0 36h0m0 23h0m1-124h0m0 19h0m0 23h0m0 9h0m0 16h0m0 14h0m0 20h0m0 3h0m0 9h0m1-116h0m0 16h0m0 21h0m0 10h0m0 9h0m0 6h0m0 0h0m0 9h0m0 4h0m0 39h0m1-143h0m0 30h0m0 28h0m0 10h0m0 24h0m0 37h0m0 10h0m0 8h0m0 2h0m1-102h0m0 66h0m0 2h0m0 16h0m1-109h0m0 16h0m0 17h0m0 18h0m0 19h0m0 8h0m0 10h0m0 17h0m1-88h0m0 2h0m0 25h0m0 10h0m0 10h0m0 9h0m0 40h0m1-113h0m0 20h0m0 19h0m0 37h0m1-69h0m0 2h0m0 24h0m0 4h0m0 18h0m0 8h0m0 26h0m0 9h0m0 5h0m0 2h0m1-67h0m0 25h0m0 6h0m0 2h0m0 4h0m0 8h0m1-110h0m0 16h0m0 25h0m0 19h0m0 3h0m0 39h0m0 6h0m0 3h0m0 2h0m0 20h0m0 8h0m1-111h0m0 19h0m0 2h0m0 11h0m0 36h0m0 33h0m0 15h0m0 11h0m1-143h0m0 16h0m0 8h0m0 4h0m0 11h0m0 16h0m0 10h0m0 11h0m0 9h0m0 3h0m0 2h0m0 6h0m1-87h0m0 4h0m0 36h0m0 2h0m0 2h0m0 13h0m0 12h0m0 7h0m0 15h0m0 16h0m1-105h0m0 11h0m0 0h0m0 5h0m0 9h0m0 13h0m0 14h0m0 14h0m0 47h0m0 12h0m1-114h0m0 4h0m0 28h0m0 3h0m0 10h0m0 7h0m0 8h0m0 14h0m0 9h0m0 9h0m0 5h0m1-50h0m0 25h0m0 8h0m0 11h0m0 5h0m0 2h0m1-114h0m0 21h0m0 3h0m0 35h0m0 3h0m0 39h0m1-94h0m0 53h0m0 12h0m0 22h0m0 24h0m0 12h0m1-103h0m0 1h0m0 16h0m0 6h0m0 17h0m0 38h0m0 9h0m0 6h0m1-103h0m0 29h0m0 6h0m0 33h0m0 3h0m0 18h0m0 9h0m1-86h0m0 15h0m0 24h0m0 2h0m0 11h0m0 29h0m1-103h0m0 16h0m0 10h0m0 14h0m0 47h0m0 2h0m0 16h0m1-96h0m0 5h0m0 70h0m1-117h0m0 18h0m0 0h0m0 10h0m0 32h0m0 47h0m1-98h0m0 31h0m0 3h0m0 54h0m0 4h0m0 11h0m0 10h0m1-21h0m1-106h0m0 19h0m0 10h0m0 54h0m0 18h0m0 15h0m1-86h0m0 20h0m0 15h0m0 18h0m0 11h0m0 11h0m0 22h0m0 7h0m1-107h0m0 22h0m0 17h0m0 39h0m0 38h0m1-87h0m0 7h0m0 19h0m0 22h0m0 27h0m1-122h0m0 13h0m0 13h0m0 18h0m0 32h0m0 5h0m0 0h0m0 1h0m0 1h0m0 2h0m0 8h0m0 2h0m0 14h0m0 6h0m0 1h0m1-110h0m0 12h0m0 93h0m0 11h0m0 5h0m1-87h0m0 10h0m0 2h0m0 21h0m0 5h0m0 7h0m0 8h0m1-64h0m0 7h0m0 27h0m0 8h0m0 7h0m0 11h0m0 2h0m0 0h0m1-14h0m0 22h0m0 22h0m1-125h0m0 78h0m0 3h0m0 5h0m0 7h0m0 29h0m1-49h0m0 42h0m1-114h0m0 1h0m0 40h0m0 22h0m0 4h0m0 15h0m0 29h0m1-68h0m0 32h0m0 51h0m1-118h0m0 21h0m0 15h0m0 5h0m0 44h0m0 9h0m0 11h0m1-60h0m0 1h0m0 2h0m0 7h0m0 5h0m0 5h0m0 18h0m0 5h0m0 12h0m0 3h0m0 24h0m1-116h0m0 10h0m0 12h0m0 17h0m0 11h0m0 15h0m1-79h0m0 13h0m0 11h0m0 1h0m0 82h0m1-114h0m0 27h0m0 3h0m0 52h0m0 11h0m0 3h0m1-105h0m0 43h0m0 6h0m0 0h0m0 4h0m0 26h0m1-63h0m0 14h0m0 18h0m0 19h0m1-69h0m0 20h0m0 39h0m0 10h0m0 6h0m0 1h0m0 22h0m0 2h0m0 5h0m0 16h0m0 6h0m1-128h0m0 9h0m0 12h0m0 25h0m0 20h0m0 54h0m0 11h0m1-70h0m0 16h0m0 14h0m0 22h0m1-86h0m0 37h0m0 0h0m0 4h0m0 23h0m1-74h0m0 2h0m0 35h0m1-39h0m0 4h0m0 22h0m0 2h0m0 0h0m0 8h0m0 9h0m0 42h0m0 17h0m1-95h0m0 4h0m0 34h0m0 17h0m0 8h0m0 20h0m0 4h0m0 13h0m1-100h0m0 21h0m0 46h0m0 1h0m0 4h0m0 1h0m1-81h0m0 6h0m0 10h0m0 13h0m0 19h0m0 10h0m0 9h0m0 3h0m0 1h0m1-89h0m0 54h0m0 19h0m0 32h0m1-72h0m0 26h0m0 36h0m1-74h0m0 30h0m0 2h0m0 63h0m1-127h0m0 10h0m0 6h0m0 6h0m0 15h0m0 5h0m0 1h0m0 18h0m0 14h0m0 14h0m0 1h0m0 1h0m0 5h0m0 1h0m1-97h0m0 70h0m0 24h0m0 10h0m0 21h0m1-109h0m0 50h0m0 18h0m0 0h0m0 15h0m0 31h0m1-54h0m0 23h0m0 14h0m1-80h0m0 12h0m0 16h0m0 25h0m0 33h0m1-92h0m0 39h0m0 5h0m0 19h0m0 1h0m0 11h0m1-38h0m0 34h0m1-44h0m0 35h0m0 26h0m1-82h0m0 45h0m0 2h0m0 8h0m0 25h0m0 7h0m1-91h0m0 8h0m0 28h0m0 27h0m0 0h0m1-68h0m0 2h0m0 11h0m0 38h0m0 4h0m0 0h0m0 2h0m0 1h0m0 6h0m0 14h0m0 20h0m1-97h0m0 5h0m0 7h0m0 12h0m0 51h0m0 2h0m0 13h0m1-105h0m1-10h0m0 23h0m0 34h0m0 42h0m0 16h0m1-135h0m0 20h0m0 1h0m0 14h0m0 23h0m0 54h0m0 18h0m0 5h0m1-80h0m0 51h0m1-43h0m0 47h0m0 2h0m1-30h0m0 22h0m1-46h0m0 15h0m0 8h0m0 0h0m0 15h0m1-35h0m0 4h0m0 20h0m0 6h0m0 36h0m1-76h0m0 55h0m1-45h0m0 17h0m0 39h0m1-91h0m0 17h0m0 42h0m0 33h0m1-95h0m0 42h0m0 6h0m0 7h0m1-70h0m0 95h0m0 4h0m0 4h0m1-68h0m0 20h0m0 2h0m0 15h0m0 4h0m0 28h0m1-73h0m0 69h0m1-57h0m0 42h0m0 14h0m1-56h0m0 17h0m0 1h0m0 14h0m1-85h0m0 45h0m0 38h0m0 1h0m1-55h0m0 75h0m1-47h0m0 21h0m1 35h0m1-73h0m0 27h0m0 9h0m0 9h0m0 9h0m0 13h0m1-74h0m0 46h0m0 5h0m0 6h0m0 19h0m1-82h0m0 46h0m1-28h0m0 30h0m0 43h0m1-36h0m0 43h0m1-106h0m0 18h0m0 15h0m1-5h0m1-10h0m0 19h0m1 49h0m2-74h0m0 73h0m1-103h0m0 35h0m0 1h0m0 39h0m0 23h0m1-97h0m0 4h0m0 4h0m0 35h0m1-43h0m0 69h0m0 5h0m1-3h0m0 21h0m1-72h0m1-33h0m0 19h0m0 31h0m1 7h0m0 40h0m1-35h0m0 49h0m1-37h0m0 21h0m1-26h0m0 11h0m0 7h0m1 5h0m1-55h0m2-17h0m0 60h0m1-41h0m1-22h0m0 29h0m1-18h0m0 1h0m0 18h0m0 55h0m1-15h0m0 10h0m3-18h0m1-40h0m1 4h0m0 23h0m0 10h0m1 12h0m0 11h0m1-79h0m0 15h0m1 1h0m0 1h0m0 47h0m1-99h0m0 58h0m0 14h0m1-88h0m0 41h0m1-1h0m0 42h0m2 34h0m1-66h0m1-50h0m1 51h0m1-21h0m2 70h0m1-29h0m1-38h0m1 2h0m1 60h0m2-34h0m1-18h0m0 39h0m0 23h0m6-101h0m1 49h0m3-45h0m0 37h0m1 12h0m4-4h0m0 24h0m2-38h0m1-29h0m0 6h0m1 38h0m0 34h0m1-29h0m1 9h0m7 27h0m2-76h0m3 50h0m3-13h0m0 8h0m3-20h0m1 0h0m7-73h0m16 52h0m16-32h0m13 3h0m38-41h0"/><path stroke="#2ca02c" d="M380 2209h0m0 17h0m0 14h0m2-28h0m3 28h0m1-20h0m2-16h0m1-12h0m0 32h0m2-40h0m0 33h0m1 5h0m1-16h0m1-22h0m0 2h0m0 5h0m1-9h0m1 6h0m0 23h0m1-19h0m0 19h0m1-24h0m4-13h0m1 2h0m3-3h0m1 8h0m0 1h0m1-15h0m1 24h0m1-31h0m1 31h0m1-25h0m0 21h0m0 5h0m0 12h0m1-3h0m1-40h0m0 32h0m1-71h0m0 6h0m0 32h0m1 13h0m0 9h0m0 1h0m1-27h0m0 4h0m0 6h0m0 5h0m1 0h0m1-28h0m0 23h0m0 5h0m0 13h0m1-35h0m0 9h0m0 3h0m0 2h0m0 3h0m0 17h0m1-50h0m0 25h0m1-17h0m0 27h0m0 3h0m0 6h0m1-8h0m1-7h0m0 4h0m0 7h0m0 11h0m1-54h0m1-39h0m1 60h0m1-4h0m0 8h0m0 2h0m0 13h0m0 16h0m1-53h0m0 42h0m1-41h0m0 10h0m0 6h0m0 4h0m0 26h0m1-62h0m0 4h0m0 16h0m0 19h0m0 7h0m0 5h0m0 1h0m1-15h0m0 9h0m1-40h0m0 2h0m0 3h0m0 9h0m0 23h0m0 9h0m1-68h0m0 34h0m0 3h0m0 15h0m0 10h0m1-80h0m0 58h0m0 17h0m0 1h0m0 10h0m0 1h0m0 12h0m1-41h0m0 9h0m1-38h0m0 29h0m0 11h0m0 18h0m0 1h0m1-79h0m0 45h0m0 32h0m1 0h0m1-63h0m0 14h0m0 3h0m0 2h0m0 4h0m0 45h0m1-50h0m0 21h0m0 3h0m0 0h0m0 3h0m0 18h0m1-48h0m0 2h0m0 20h0m1-34h0m0 4h0m0 2h0m0 8h0m0 28h0m1-28h0m0 4h0m0 18h0m1-73h0m0 3h0m0 16h0m0 32h0m0 20h0m0 9h0m0 1h0m0 5h0m1-88h0m0 55h0m0 2h0m0 4h0m0 6h0m0 9h0m0 7h0m0 20h0m1-79h0m0 11h0m0 35h0m1-15h0m1-2h0m0 1h0m0 4h0m0 5h0m0 2h0m0 3h0m0 27h0m0 0h0m1-88h0m0 67h0m0 25h0m1-79h0m0 3h0m0 5h0m0 8h0m0 21h0m1-60h0m0 4h0m0 30h0m0 7h0m0 8h0m0 5h0m0 2h0m0 30h0m0 3h0m1-67h0m0 5h0m0 7h0m0 10h0m0 10h0m0 9h0m0 6h0m0 26h0m1-77h0m0 11h0m0 17h0m0 4h0m0 4h0m0 3h0m0 3h0m0 23h0m1-91h0m0 34h0m0 7h0m0 3h0m0 11h0m1-28h0m0 12h0m0 5h0m0 7h0m0 6h0m0 1h0m0 15h0m0 13h0m1-72h0m0 1h0m0 49h0m0 1h0m0 4h0m1-72h0m0 39h0m0 4h0m0 13h0m0 29h0m0 18h0m1-78h0m0 5h0m0 9h0m0 17h0m0 5h0m0 2h0m0 10h0m0 2h0m0 23h0m1-76h0m0 2h0m0 11h0m1-4h0m0 10h0m0 0h0m0 11h0m0 5h0m0 8h0m0 3h0m0 24h0m1-77h0m0 27h0m0 16h0m1-34h0m0 3h0m0 18h0m0 3h0m0 1h0m0 19h0m0 15h0m0 1h0m1-63h0m0 7h0m0 1h0m0 9h0m0 19h0m0 3h0m1-85h0m0 56h0m0 12h0m0 2h0m0 6h0m0 11h0m0 0h0m1-41h0m0 5h0m0 3h0m0 19h0m0 35h0m0 1h0m1-85h0m0 16h0m0 19h0m0 4h0m0 5h0m0 48h0m1-51h0m0 4h0m0 4h0m1-38h0m0 21h0m0 1h0m0 27h0m1-34h0m0 4h0m0 7h0m0 17h0m0 4h0m0 17h0m0 2h0m1-88h0m0 7h0m0 23h0m0 21h0m0 22h0m0 12h0m1-46h0m0 5h0m0 19h0m1-7h0m0 0h0m0 2h0m0 18h0m0 9h0m1-115h0m0 35h0m0 1h0m0 24h0m0 7h0m0 14h0m0 4h0m0 8h0m0 2h0m0 3h0m0 14h0m1-52h0m0 2h0m0 19h0m0 19h0m0 4h0m1-84h0m0 7h0m0 23h0m0 7h0m0 18h0m0 44h0m1-73h0m0 6h0m0 20h0m0 7h0m0 3h0m0 9h0m0 4h0m0 27h0m1-69h0m0 2h0m0 5h0m0 8h0m0 7h0m0 17h0m0 8h0m0 10h0m1-72h0m0 10h0m0 19h0m0 14h0m0 5h0m0 12h0m1-51h0m0 6h0m0 3h0m0 26h0m0 0h0m0 12h0m0 4h0m1-66h0m0 23h0m0 0h0m0 7h0m0 3h0m0 13h0m0 22h0m1-41h0m0 0h0m0 13h0m0 21h0m1-84h0m0 34h0m0 15h0m0 4h0m0 14h0m0 11h0m0 15h0m1-62h0m0 24h0m0 0h0m0 7h0m0 6h0m0 18h0m1-79h0m0 21h0m0 13h0m0 28h0m1-73h0m0 34h0m0 9h0m0 7h0m0 27h0m0 10h0m0 0h0m1-48h0m0 5h0m0 36h0m0 0h0m0 3h0m0 1h0m1-55h0m0 12h0m0 10h0m0 6h0m0 0h0m0 3h0m1-43h0m0 12h0m0 19h0m0 2h0m0 17h0m0 8h0m0 13h0m1-71h0m0 9h0m0 8h0m0 10h0m0 28h0m0 5h0m1-86h0m0 5h0m0 4h0m0 3h0m0 23h0m0 27h0m0 5h0m0 9h0m0 44h0m1-111h0m0 14h0m0 6h0m0 39h0m1-51h0m0 21h0m0 6h0m0 10h0m0 48h0m0 1h0m1-79h0m0 3h0m0 26h0m0 29h0m1-85h0m0 17h0m0 8h0m0 7h0m0 32h0m0 5h0m0 27h0m1-65h0m0 25h0m0 6h0m0 3h0m0 2h0m0 9h0m0 11h0m0 1h0m0 8h0m1-92h0m0 51h0m0 15h0m0 9h0m0 10h0m1-94h0m0 67h0m0 7h0m0 4h0m1-94h0m0 20h0m0 51h0m0 7h0m1-57h0m0 9h0m0 45h0m0 19h0m1-72h0m0 63h0m1-85h0m0 14h0m0 9h0m0 4h0m0 4h0m0 58h0m0 4h0m0 16h0m1-87h0m0 18h0m0 10h0m0 4h0m0 14h0m0 0h0m0 23h0m0 2h0m1-81h0m0 15h0m0 0h0m0 22h0m0 12h0m0 42h0m0 15h0m1-116h0m0 19h0m0 23h0m0 13h0m0 9h0m0 21h0m0 4h0m1-32h0m0 4h0m0 9h0m0 9h0m0 3h0m0 11h0m1-50h0m0 2h0m0 33h0m1-44h0m0 26h0m0 3h0m0 42h0m1-80h0m0 33h0m0 37h0m0 4h0m1-95h0m0 4h0m0 49h0m0 31h0m1-22h0m0 4h0m0 13h0m1-77h0m0 43h0m0 20h0m0 23h0m1-56h0m0 11h0m0 4h0m1-67h0m0 7h0m0 11h0m0 15h0m0 11h0m0 15h0m0 8h0m0 5h0m0 32h0m0 13h0m0 3h0m1-113h0m0 54h0m0 19h0m0 0h0m0 7h0m1-31h0m0 32h0m1-93h0m0 22h0m0 21h0m0 34h0m0 20h0m1-63h0m1 45h0m1-72h0m0 11h0m0 2h0m0 34h0m0 5h0m0 18h0m0 7h0m0 18h0m0 12h0m0 13h0m1-66h0m0 25h0m0 3h0m1-74h0m0 3h0m0 4h0m0 30h0m0 3h0m0 2h0m0 27h0m1-48h0m0 14h0m0 4h0m0 26h0m0 3h0m0 5h0m1-60h0m0 5h0m0 14h0m1-37h0m0 21h0m0 21h0m0 23h0m0 1h0m0 15h0m1-63h0m0 3h0m0 11h0m0 2h0m0 33h0m0 3h0m0 17h0m1-72h0m0 1h0m0 57h0m1-91h0m0 15h0m0 4h0m0 15h0m0 3h0m0 23h0m0 35h0m1-74h0m0 4h0m0 30h0m0 2h0m0 13h0m0 1h0m0 19h0m0 7h0m1-76h0m0 23h0m0 17h0m1-59h0m0 49h0m0 3h0m1-43h0m0 31h0m0 13h0m0 2h0m0 2h0m0 2h0m0 8h0m0 16h0m0 1h0m0 13h0m1-103h0m0 20h0m0 20h0m0 10h0m0 0h0m1-15h0m0 2h0m0 7h0m0 3h0m0 14h0m0 14h0m1-26h0m0 2h0m0 2h0m0 15h0m1-59h0m0 4h0m0 13h0m0 14h0m1-55h0m1 18h0m0 13h0m0 3h0m0 17h0m1-28h0m0 66h0m0 5h0m1-38h0m0 68h0m1-124h0m0 19h0m0 8h0m0 34h0m0 35h0m0 15h0m1-85h0m0 2h0m0 13h0m0 9h0m0 19h0m0 7h0m0 4h0m0 39h0m0 2h0m1-96h0m0 9h0m0 2h0m0 54h0m0 19h0m1-78h0m0 13h0m0 45h0m1-24h0m1-36h0m1 30h0m1-40h0m0 33h0m0 1h0m0 2h0m0 44h0m1-30h0m0 37h0m0 1h0m1-70h0m0 13h0m0 5h0m0 14h0m0 15h0m1-60h0m0 59h0m0 16h0m1-62h0m0 6h0m0 10h0m0 2h0m1 10h0m1-59h0m1 14h0m0 49h0m0 14h0m1-72h0m0 40h0m0 46h0m1-12h0m0 1h0m0 12h0m1-45h0m1 3h0m0 6h0m0 21h0m1-59h0m0 3h0m0 24h0m0 4h0m1-42h0m0 11h0m0 3h0m0 80h0m1-124h0m0 36h0m0 3h0m0 42h0m1-40h0m0 10h0m2-29h0m0 6h0m0 5h0m0 22h0m0 29h0m0 15h0m0 8h0m1-88h0m0 35h0m1-46h0m0 14h0m0 11h0m0 24h0m1-34h0m0 71h0m1-50h0m1-12h0m0 31h0m1 14h0m1-70h0m0 12h0m0 50h0m1-55h0m0 31h0m0 33h0m0 25h0m1-97h0m0 49h0m1-28h0m0 8h0m0 62h0m1-29h0m1 9h0m1-15h0m0 32h0m0 1h0m1-21h0m0 1h0m1-39h0m0 4h0m1-57h0m0 75h0m0 8h0m0 10h0m1-28h0m0 6h0m1 33h0m1-49h0m0 32h0m1-85h0m0 18h0m0 37h0m1 43h0m1-87h0m0 37h0m1-39h0m0 81h0m1-90h0m0 54h0m1-49h0m1 24h0m0 16h0m0 11h0m0 20h0m0 13h0m3-25h0m0 6h0m1-22h0m2-47h0m0 35h0m0 36h0m0 23h0m0 2h0m1-47h0m0 25h0m0 1h0m1-69h0m0 26h0m0 48h0m1-40h0m1-39h0m0 94h0m2-67h0m0 25h0m0 3h0m1-45h0m0 58h0m0 21h0m1-8h0m2-61h0m1 67h0m1-79h0m1 2h0m2-16h0m2-6h0m3 17h0m2 1h0m0 2h0m1 55h0m1-75h0m0 41h0m1-11h0m2 32h0m0 16h0m1-22h0m1 16h0m2-92h0m0 19h0m0 3h0m0 48h0m3-46h0m1-22h0m0 95h0m2-67h0m1 7h0m1-4h0m0 34h0m3-46h0m0 48h0m1-65h0m0 9h0m1 53h0m1-68h0m2 19h0m0 52h0m3-14h0m4-35h0m0 21h0m2-52h0m0 63h0m1-46h0m0 64h0m4-15h0m1-54h0m1 30h0m2 11h0m0 13h0m5-13h0m4-14h0m18 1h0m3-70h0m6 9h0m1 15h0m1 1h0m1 19h0m3-32h0m3 28h0m6-4h0m33-18h0m9-17h0"/></g></g>
<line x1="41.60" y1="490.05" x2="215.40" y2="317.20" stroke="#000" stroke-width="0.95"/>
<circle cx="116.33" cy="406.79" r="3.25" fill="#7f7f7f" stroke="none" stroke-width="1.3" stroke-linejoin="miter"/><rect x="113.70" y="398.11" width="6.42" height="6.42" fill="#d62728" stroke="none" stroke-width="1.3" stroke-linejoin="miter"/><path d="M107.06 407.39L110.60 414.09L103.53 414.09Z" fill="#ff7f0e" stroke="none" stroke-width="1.3" stroke-linejoin="miter"/><path d="M107.64 406.53L112.23 411.12L107.64 415.71L103.05 411.12Z" fill="#1f77b4" stroke="none" stroke-width="1.3" stroke-linejoin="miter"/><path d="M99.34 408.72L102.04 408.72L102.04 410.92L104.24 410.92L104.24 413.62L102.04 413.62L102.04 415.82L99.34 415.82L99.34 413.62L97.14 413.62L97.14 410.92L99.34 410.92Z" fill="#2ca02c" stroke="none" stroke-width="1.3" stroke-linejoin="miter"/>
<circle cx="116.33" cy="406.79" r="3.25" fill="none" stroke="#000" stroke-width="1.3" stroke-linejoin="miter"/><rect x="113.70" y="398.11" width="6.42" height="6.42" fill="none" stroke="#000" stroke-width="1.3" stroke-linejoin="miter"/><path d="M107.06 407.39L110.60 414.09L103.53 414.09Z" fill="none" stroke="#000" stroke-width="1.3" stroke-linejoin="miter"/><path d="M107.64 406.53L112.23 411.12L107.64 415.71L103.05 411.12Z" fill="none" stroke="#000" stroke-width="1.3" stroke-linejoin="miter"/><path d="M99.34 408.72L102.04 408.72L102.04 410.92L104.24 410.92L104.24 413.62L102.04 413.62L102.04 415.82L99.34 415.82L99.34 413.62L97.14 413.62L97.14 410.92L99.34 410.92Z" fill="none" stroke="#000" stroke-width="1.3" stroke-linejoin="miter"/>
<rect x="42.50" y="318.10" width="172.00" height="171.05" fill="none" stroke="#000" stroke-opacity="0.4" stroke-width="1"/>
<rect x="41.60" y="317.20" width="173.80" height="172.85" fill="none" stroke="#333" stroke-width="1.1"/>
<text x="34.00" y="494.05" font-size="11.3" text-anchor="end">0</text>
<text x="34.00" y="465.24" font-size="11.3" text-anchor="end">100</text>
<text x="34.00" y="436.43" font-size="11.3" text-anchor="end">200</text>
<text x="34.00" y="407.62" font-size="11.3" text-anchor="end">300</text>
<text x="34.00" y="378.82" font-size="11.3" text-anchor="end">400</text>
<text x="34.00" y="350.01" font-size="11.3" text-anchor="end">500</text>
<text x="34.00" y="321.20" font-size="11.3" text-anchor="end">600</text>
<text x="41.60" y="505.85" font-size="11.3" text-anchor="middle">0</text>
<text x="99.53" y="505.85" font-size="11.3" text-anchor="middle">200</text>
<text x="157.47" y="505.85" font-size="11.3" text-anchor="middle">400</text>
<text x="215.40" y="505.85" font-size="11.3" text-anchor="middle">600</text>
<path d="M41.60 490.05h-3.6M41.60 461.24h-3.6M41.60 432.43h-3.6M41.60 403.62h-3.6M41.60 374.82h-3.6M41.60 346.01h-3.6M41.60 317.20h-3.6M41.60 490.05v3.6M99.53 490.05v3.6M157.47 490.05v3.6M215.40 490.05v3.6" stroke="#000" stroke-width="0.9"/>
<text x="128.50" y="519.85" font-size="11.45" text-anchor="middle">PHEV g CO2e per km</text>
<text transform="translate(8.50 403.62) rotate(-90)" font-size="11.45" text-anchor="middle">HEV g CO2e per km</text>
<text transform="translate(48.80 339.10) scale(1 1.1)" font-size="14.2">(d)</text>
<clipPath id="ce"><rect x="270.50" y="317.20" width="173.00" height="172.85"/></clipPath>
<path d="M270.50 317.20L443.50 317.20L270.50 490.05Z" fill="#fbe9f5"/>
<path d="M443.50 317.20L443.50 490.05L270.50 490.05Z" fill="#deeaf4"/>
<g clip-path="url(#ce)"><g transform="scale(0.2)" fill="none" stroke-linecap="round" stroke-width="14"><path stroke="#7f7f7f" d="M1568 2230h0m11 23h0m4 11h0m5-50h0m9-84h0m3 11h0m2 43h0m0 30h0m3-59h0m1 36h0m4-60h0m0 1h0m8-6h0m4 40h0m5 7h0m2-37h0m1 74h0m2-30h0m0 6h0m2-68h0m0 1h0m0 18h0m1 3h0m1-43h0m1 30h0m0 5h0m0 43h0m2 8h0m2-8h0m2-10h0m1-79h0m2 32h0m0 77h0m1-92h0m1-32h0m1 22h0m0 29h0m2-25h0m0 77h0m3-64h0m0 20h0m1 10h0m1-33h0m2-28h0m1 22h0m0 23h0m0 25h0m1-59h0m0 23h0m0 48h0m0 14h0m1-67h0m2 0h0m1 42h0m1-93h0m0 44h0m0 17h0m0 27h0m0 29h0m1-55h0m1 10h0m0 9h0m0 3h0m1 16h0m2-154h0m0 81h0m0 35h0m1-82h0m0 1h0m0 47h0m1-12h0m0 71h0m1-46h0m0 43h0m2-1h0m1-12h0m1-93h0m0 30h0m0 23h0m2-33h0m0 42h0m0 39h0m1-44h0m0 13h0m2-30h0m0 7h0m1-18h0m0 0h0m0 6h0m0 17h0m1-120h0m0 127h0m0 34h0m1-66h0m0 58h0m0 8h0m1-57h0m1 3h0m0 9h0m1 0h0m2-68h0m0 43h0m0 62h0m1-24h0m0 45h0m1-11h0m1 74h0m1-147h0m1-82h0m0 58h0m1-23h0m0 197h0m1-141h0m1-85h0m0 67h0m0 24h0m0 41h0m1-186h0m0 85h0m0 11h0m0 71h0m1 6h0m0 103h0m1-127h0m0 21h0m1-146h0m0 11h0m0 100h0m1-21h0m1 47h0m1-45h0m0 8h0m1 48h0m1-165h0m0 89h0m0 141h0m1-125h0m0 23h0m0 136h0m1-103h0m1-196h0m0 218h0m1-94h0m0 26h0m0 3h0m0 11h0m0 29h0m0 12h0m0 82h0m1-130h0m0 63h0m0 70h0m1-122h0m1-134h0m0 148h0m1-60h0m0 3h0m2-68h0m0 244h0m1-232h0m0 104h0m0 39h0m1-14h0m0 107h0m1-295h0m0 151h0m2 28h0m0 11h0m1-146h0m0 20h0m0 119h0m0 14h0m1-80h0m0 32h0m1-145h0m0 39h0m0 28h0m0 43h0m0 12h0m0 1h0m2-162h0m0 44h0m0 145h0m0 3h0m1 108h0m1-244h0m0 94h0m0 7h0m0 39h0m1 108h0m1-162h0m0 183h0m1-176h0m1-122h0m0 53h0m0 81h0m0 167h0m1-250h0m1-40h0m0 55h0m0 63h0m0 56h0m0 80h0m1-158h0m0 76h0m0 77h0m1-112h0m1-180h0m0 133h0m0 5h0m0 146h0m0 7h0m1 10h0m1-190h0m0 17h0m0 145h0m1-107h0m1-23h0m0 30h0m1-89h0m0 37h0m0 55h0m1-131h0m0 97h0m1-59h0m0 79h0m1-119h0m0 86h0m0 1h0m0 10h0m0 39h0m1-102h0m1 65h0m1 8h0m1 9h0m1-144h0m0 2h0m0 270h0m1-143h0m1 14h0m1-68h0m0 5h0m0 4h0m0 77h0m1-7h0m2-111h0m0 79h0m1-36h0m1 72h0m3-53h0m1-117h0m3 110h0m1-66h0m0 60h0m0 181h0m1-268h0m0 126h0m1-44h0m1-4h0m0 25h0m3-38h0m3 163h0m0 12h0m1-86h0m1-188h0m1 29h0m0 103h0m1 10h0m1-186h0m0 165h0m0 10h0m0 26h0m0 141h0m1-304h0m0 87h0m3 29h0m1-102h0m0 144h0m1-51h0m1-5h0m1 201h0m4-263h0m0 227h0m1-263h0m0 132h0m3-50h0m0 17h0m1 18h0m2-16h0m0 2h0m2 16h0m0 160h0m1-287h0m4 61h0m3 197h0m3-168h0m7-89h0m1-47h0m0 176h0m3-173h0m1 295h0m8-191h0m3-16h0m3 52h0m10-48h0m7 13h0m0 114h0m1 26h0m1-204h0m6 167h0m3-236h0m0 85h0m2-76h0m4 262h0m6-165h0m3 111h0m1 1h0m1 1h0m13-120h0m2-141h0m2 83h0m5 43h0m22-168h0m0 161h0m30-105h0m4 188h0m27-13h0m1-3h0m77-70h0m9-5h0"/><path stroke="#d62728" d="M1557 2245h0m11 40h0m1-36h0m11-29h0m0 53h0m4-72h0m4 44h0m2-55h0m5 49h0m1-31h0m1 18h0m4-6h0m0 21h0m1-45h0m2 27h0m1 13h0m2-47h0m1-18h0m1-15h0m2 26h0m0 47h0m2-61h0m0 9h0m0 25h0m0 5h0m0 23h0m1-61h0m0 5h0m0 2h0m0 1h0m1 39h0m1-43h0m0 39h0m0 14h0m1-42h0m0 20h0m0 20h0m0 11h0m1-43h0m1-35h0m0 33h0m0 42h0m0 29h0m1-103h0m0 50h0m0 39h0m1-39h0m2 9h0m3-25h0m2-82h0m0 52h0m0 13h0m0 12h0m0 7h0m1-32h0m0 4h0m0 39h0m1-46h0m0 8h0m0 3h0m1-4h0m0 6h0m2-7h0m0 5h0m0 18h0m0 18h0m0 11h0m0 1h0m1-63h0m0 24h0m0 9h0m0 36h0m1-57h0m1 24h0m0 26h0m1-85h0m3 47h0m0 20h0m0 20h0m1-55h0m0 11h0m1-35h0m0 0h0m0 13h0m0 28h0m1-56h0m0 17h0m0 33h0m0 46h0m2-94h0m0 25h0m0 24h0m0 18h0m0 38h0m1-51h0m1-58h0m0 25h0m0 15h0m1-18h0m0 1h0m0 1h0m0 10h0m0 42h0m0 6h0m0 5h0m0 3h0m1-89h0m0 42h0m1-33h0m0 78h0m1-37h0m0 7h0m0 10h0m0 4h0m0 10h0m1-74h0m1-8h0m0 37h0m0 24h0m0 2h0m1 1h0m2-54h0m0 21h0m0 9h0m0 13h0m0 7h0m0 16h0m0 7h0m1-60h0m0 19h0m1-4h0m0 4h0m1-31h0m0 8h0m0 68h0m2-66h0m0 40h0m1-56h0m0 18h0m0 17h0m0 7h0m1-15h0m0 90h0m1-103h0m0 21h0m0 22h0m1-51h0m0 4h0m0 9h0m1-1h0m0 5h0m2-27h0m0 24h0m1-76h0m0 39h0m0 41h0m0 11h0m1-79h0m0 82h0m0 23h0m1-89h0m0 12h0m0 19h0m0 7h0m0 34h0m1-88h0m0 22h0m0 5h0m2 25h0m0 27h0m0 8h0m1-64h0m0 43h0m0 12h0m0 0h0m0 29h0m0 8h0m0 26h0m1-143h0m0 37h0m0 35h0m0 7h0m1-60h0m0 12h0m0 5h0m0 15h0m0 6h0m0 3h0m0 10h0m0 12h0m0 10h0m0 3h0m2-81h0m0 21h0m0 3h0m0 50h0m1-75h0m0 56h0m1 16h0m0 0h0m1-63h0m0 39h0m1-35h0m0 2h0m0 38h0m1-49h0m0 17h0m0 25h0m0 4h0m0 1h0m0 19h0m1-37h0m0 2h0m0 9h0m0 5h0m0 7h0m1-29h0m0 13h0m0 5h0m1-27h0m0 3h0m0 43h0m1-47h0m0 8h0m0 12h0m0 9h0m1-65h0m0 13h0m0 14h0m0 20h0m0 33h0m1-52h0m1-24h0m0 5h0m0 21h0m0 4h0m0 1h0m0 2h0m1-56h0m0 48h0m0 17h0m0 21h0m0 1h0m1-48h0m0 5h0m0 13h0m0 0h0m0 37h0m0 44h0m1-152h0m0 38h0m1 6h0m0 30h0m0 3h0m0 15h0m0 25h0m1-83h0m0 26h0m0 6h0m0 3h0m0 36h0m0 6h0m1-83h0m0 17h0m0 8h0m0 22h0m0 10h0m0 22h0m0 3h0m1-93h0m0 47h0m0 4h0m0 2h0m0 11h0m0 16h0m0 12h0m1-81h0m0 28h0m0 6h0m0 19h0m0 1h0m1-52h0m0 14h0m0 6h0m0 50h0m1-77h0m0 51h0m0 2h0m0 6h0m1 8h0m0 16h0m1-96h0m0 25h0m0 7h0m0 18h0m0 36h0m0 20h0m1-133h0m0 28h0m0 38h0m0 30h0m0 4h0m1-51h0m0 1h0m0 30h0m0 14h0m0 13h0m1-4h0m1-34h0m0 4h0m0 44h0m0 4h0m0 6h0m1-139h0m0 59h0m0 22h0m0 43h0m1-95h0m0 56h0m1-26h0m0 23h0m0 33h0m1-29h0m0 21h0m0 29h0m0 4h0m1-94h0m1 61h0m0 10h0m0 30h0m1-112h0m0 52h0m1-9h0m0 3h0m0 24h0m0 15h0m1-91h0m0 21h0m0 3h0m0 2h0m0 4h0m0 19h0m0 10h0m0 81h0m1-85h0m0 5h0m0 2h0m0 12h0m1-16h0m0 23h0m2-99h0m0 45h0m0 33h0m2 4h0m1-45h0m0 3h0m0 13h0m0 16h0m0 5h0m1-30h0m0 3h0m0 2h0m0 30h0m0 18h0m1-72h0m0 64h0m1-53h0m0 14h0m0 2h0m1 5h0m0 18h0m0 3h0m0 31h0m0 3h0m1-148h0m0 75h0m0 10h0m0 5h0m0 6h0m0 9h0m0 5h0m0 18h0m0 18h0m0 4h0m1-92h0m0 46h0m0 50h0m1-68h0m0 8h0m0 0h0m0 63h0m1-129h0m0 35h0m0 10h0m0 21h0m0 6h0m0 26h0m1-80h0m0 2h0m0 58h0m1-65h0m0 46h0m0 5h0m0 18h0m0 10h0m0 8h0m0 29h0m1-132h0m0 33h0m0 13h0m0 62h0m1-123h0m0 30h0m0 60h0m1-42h0m0 64h0m1-6h0m1-70h0m0 45h0m0 91h0m1-82h0m0 17h0m0 16h0m0 1h0m1-127h0m0 43h0m0 30h0m0 46h0m1-36h0m0 6h0m0 52h0m1-90h0m0 6h0m0 53h0m1-83h0m0 6h0m0 17h0m0 2h0m0 11h0m0 39h0m1-54h0m0 18h0m0 1h0m1 2h0m0 19h0m1-21h0m0 27h0m0 5h0m1-51h0m1 5h0m0 11h0m0 3h0m0 18h0m1-24h0m0 15h0m1-106h0m0 71h0m0 34h0m0 16h0m0 22h0m0 8h0m1-23h0m1-92h0m0 35h0m0 27h0m1-40h0m1-10h0m0 80h0m1-90h0m0 45h0m0 13h0m0 24h0m1-96h0m0 14h0m0 17h0m0 12h0m0 45h0m1-56h0m0 1h0m0 26h0m0 22h0m2-86h0m0 22h0m0 6h0m0 21h0m0 61h0m1-73h0m0 48h0m1-48h0m0 21h0m1-20h0m0 9h0m0 11h0m0 26h0m0 20h0m0 84h0m1-178h0m0 27h0m0 12h0m0 4h0m0 17h0m1-37h0m1 34h0m2-23h0m0 35h0m1 2h0m1-81h0m0 52h0m0 51h0m1-98h0m0 83h0m0 17h0m1-112h0m0 102h0m0 17h0m0 25h0m0 6h0m1-114h0m0 6h0m0 18h0m0 11h0m1-55h0m0 31h0m1 23h0m1-61h0m0 34h0m1 40h0m2-65h0m0 43h0m2 7h0m1-80h0m1 99h0m0 21h0m1-48h0m1-55h0m0 1h0m0 41h0m1-41h0m0 44h0m0 9h0m1-32h0m1-19h0m0 44h0m0 2h0m1-42h0m0 55h0m1-84h0m0 17h0m0 16h0m0 12h0m0 21h0m0 1h0m1-16h0m0 8h0m0 16h0m2-40h0m0 3h0m0 6h0m0 4h0m2-19h0m0 32h0m1 37h0m0 17h0m1-85h0m0 116h0m1-102h0m0 72h0m1-111h0m1-24h0m0 59h0m0 13h0m0 71h0m1-60h0m0 49h0m1-113h0m0 31h0m0 3h0m0 19h0m0 6h0m0 3h0m0 70h0m1-147h0m1 53h0m0 20h0m1-36h0m0 35h0m1-33h0m0 15h0m1-5h0m2-49h0m0 68h0m1 5h0m1 20h0m1-59h0m0 14h0m0 8h0m0 3h0m0 10h0m1-10h0m1-36h0m1-11h0m0 4h0m0 31h0m1-49h0m0 7h0m0 36h0m0 18h0m0 15h0m1-54h0m2 103h0m1-92h0m1 3h0m0 84h0m1-103h0m1 76h0m1-106h0m1 47h0m1-30h0m2-18h0m0 5h0m0 14h0m0 30h0m0 31h0m0 10h0m1-50h0m1 4h0m1-34h0m0 5h0m1-6h0m1 21h0m3 93h0m1-129h0m0 62h0m1-85h0m0 46h0m0 3h0m0 4h0m1-16h0m0 11h0m1-2h0m0 14h0m1-1h0m2 15h0m0 3h0m1-76h0m1 1h0m0 32h0m0 77h0m2-86h0m0 24h0m2-5h0m1-57h0m2 99h0m0 0h0m1-69h0m6 23h0m3-76h0m1 150h0m0 28h0m2-100h0m1-28h0m1 69h0m2-74h0m3 8h0m0 17h0m1-43h0m0 24h0m2 38h0m5-93h0m0 101h0m0 82h0m1-63h0m5-47h0m4-43h0m0 59h0m1-77h0m5-16h0m1 27h0m2-10h0m5-15h0m1 96h0m1-138h0m0 91h0m0 73h0m1-130h0m6-15h0m2 47h0m7 10h0m2 42h0m7-61h0m4-39h0m11-28h0m4 117h0m6-113h0m0 80h0m14-59h0m2-34h0m0 10h0m1 89h0m40-75h0"/><path stroke="#ff7f0e" d="M1498 2364h0m16-45h0m11 15h0m6-15h0m0 34h0m6 9h0m1-33h0m3-9h0m4-28h0m0 63h0m2-82h0m5-81h0m2 76h0m0 37h0m2-64h0m0 49h0m1-1h0m1 8h0m1 40h0m1-57h0m1-21h0m0 0h0m1 9h0m1 13h0m1 11h0m0 34h0m1-73h0m2-14h0m1 47h0m0 65h0m2-84h0m0 14h0m0 32h0m1-20h0m0 14h0m1 35h0m0 4h0m4-85h0m1-53h0m0 30h0m0 16h0m0 13h0m1-21h0m0 43h0m1-72h0m0 8h0m1-27h0m0 49h0m0 8h0m0 52h0m2-39h0m1-68h0m0 75h0m1-64h0m0 96h0m0 27h0m1-86h0m0 22h0m0 64h0m2-92h0m0 23h0m0 26h0m0 39h0m1-98h0m0 4h0m0 13h0m0 5h0m0 11h0m0 35h0m1-82h0m0 21h0m0 36h0m1-46h0m1 90h0m2-65h0m0 9h0m0 33h0m1-12h0m0 26h0m1-39h0m1 50h0m2-93h0m1-29h0m0 79h0m1-53h0m0 40h0m1 5h0m1-89h0m0 58h0m1-37h0m0 26h0m0 22h0m1-77h0m0 60h0m0 17h0m1 89h0m1-161h0m0 4h0m0 47h0m0 23h0m0 29h0m1-56h0m0 34h0m1-58h0m0 46h0m1-64h0m0 27h0m0 22h0m1-52h0m0 23h0m0 41h0m0 5h0m0 6h0m1 97h0m1-163h0m0 17h0m1-71h0m0 81h0m0 4h0m1-32h0m0 17h0m0 19h0m1 70h0m0 18h0m1-78h0m0 36h0m0 1h0m1-80h0m0 8h0m0 7h0m0 37h0m0 5h0m1-67h0m0 61h0m0 25h0m1-4h0m0 61h0m1-155h0m0 13h0m0 3h0m0 1h0m0 41h0m1-54h0m0 4h0m0 11h0m0 16h0m0 44h0m1-2h0m1-118h0m0 45h0m0 11h0m0 16h0m0 9h0m0 72h0m1-122h0m0 21h0m1-1h0m0 4h0m0 27h0m0 1h0m0 12h0m0 9h0m0 52h0m1-92h0m0 3h0m1 11h0m0 27h0m0 63h0m0 21h0m1-130h0m0 5h0m0 6h0m0 24h0m0 19h0m0 6h0m0 6h0m0 48h0m1-75h0m0 12h0m0 8h0m0 80h0m1-154h0m0 28h0m0 14h0m0 8h0m0 66h0m1-156h0m0 56h0m0 17h0m0 22h0m1-125h0m0 79h0m0 14h0m0 15h0m0 19h0m0 46h0m1-94h0m0 20h0m0 9h0m0 28h0m0 28h0m1-85h0m0 27h0m0 2h0m0 25h0m0 10h0m1-95h0m0 63h0m0 52h0m1-104h0m0 16h0m0 1h0m0 13h0m0 24h0m0 14h0m1-63h0m0 27h0m0 42h0m0 8h0m0 30h0m1-121h0m0 73h0m0 8h0m1-74h0m0 25h0m0 37h0m1-99h0m0 31h0m0 18h0m0 11h0m0 26h0m1-43h0m1-10h0m0 14h0m0 33h0m0 2h0m1-24h0m0 24h0m0 34h0m1-111h0m0 26h0m0 2h0m0 19h0m0 27h0m0 62h0m0 21h0m1-145h0m1 35h0m0 49h0m0 12h0m1-123h0m0 34h0m0 59h0m0 28h0m1-62h0m1-28h0m0 90h0m0 25h0m1-134h0m0 13h0m0 29h0m0 23h0m0 16h0m0 10h0m0 0h0m1-98h0m0 61h0m0 24h0m0 20h0m0 6h0m0 36h0m0 5h0m1-145h0m0 29h0m0 3h0m0 27h0m0 10h0m0 28h0m0 6h0m0 101h0m1-175h0m0 33h0m1 21h0m1-33h0m0 115h0m1-80h0m0 0h0m0 54h0m0 19h0m0 1h0m1-155h0m0 23h0m0 26h0m0 82h0m0 56h0m1-182h0m0 2h0m0 15h0m0 1h0m0 8h0m0 107h0m1-137h0m0 44h0m0 4h0m1-33h0m0 4h0m0 13h0m1 11h0m0 19h0m0 14h0m0 93h0m1-212h0m0 43h0m0 18h0m0 27h0m0 22h0m0 87h0m1-144h0m0 47h0m0 107h0m1-157h0m0 26h0m0 1h0m0 4h0m0 9h0m1-85h0m0 8h0m0 28h0m0 19h0m0 30h0m0 80h0m0 8h0m1-135h0m0 12h0m0 13h0m0 28h0m0 3h0m0 46h0m1-86h0m0 8h0m0 6h0m0 13h0m1-61h0m0 6h0m0 1h0m0 32h0m0 17h0m0 27h0m1-71h0m0 72h0m0 21h0m0 57h0m1-177h0m0 35h0m0 32h0m0 1h0m0 22h0m0 4h0m0 1h0m1-84h0m0 2h0m0 5h0m0 76h0m0 72h0m1-137h0m0 1h0m0 21h0m0 21h0m0 23h0m0 91h0m1-182h0m0 45h0m0 30h0m1 13h0m0 6h0m0 78h0m1-178h0m0 0h0m0 63h0m0 1h0m0 64h0m0 45h0m0 41h0m1-207h0m0 33h0m0 25h0m0 38h0m0 35h0m1-134h0m0 26h0m0 16h0m0 14h0m0 20h0m0 69h0m0 20h0m1-166h0m0 2h0m0 13h0m0 21h0m0 5h0m0 42h0m0 113h0m1-184h0m0 47h0m0 11h0m0 4h0m1-21h0m0 30h0m1-33h0m0 18h0m0 61h0m1-152h0m0 29h0m0 117h0m0 5h0m1-171h0m0 61h0m0 48h0m0 105h0m1-82h0m0 102h0m1-167h0m0 25h0m0 121h0m0 14h0m1-175h0m0 40h0m0 33h0m1-93h0m0 6h0m0 32h0m0 4h0m0 1h0m0 22h0m0 24h0m0 28h0m1-114h0m0 1h0m0 22h0m0 17h0m0 84h0m0 35h0m0 34h0m1-163h0m0 163h0m1-242h0m0 71h0m0 54h0m0 25h0m0 55h0m1-102h0m0 102h0m1-173h0m0 77h0m0 7h0m0 4h0m0 16h0m0 18h0m0 67h0m1-162h0m0 25h0m0 8h0m0 13h0m0 34h0m1-108h0m0 12h0m0 7h0m0 9h0m0 62h0m0 1h0m0 91h0m1-187h0m0 13h0m0 25h0m0 59h0m1-75h0m0 40h0m0 6h0m0 3h0m0 124h0m0 40h0m1-213h0m0 5h0m0 38h0m0 12h0m0 3h0m0 52h0m1-137h0m0 28h0m0 6h0m0 27h0m0 19h0m0 13h0m0 8h0m0 8h0m1-86h0m0 167h0m1-158h0m0 12h0m0 10h0m1 22h0m0 72h0m1-93h0m0 86h0m0 54h0m1-113h0m1-60h0m0 120h0m1-156h0m0 33h0m0 29h0m0 151h0m1-208h0m0 44h0m0 48h0m0 94h0m1-157h0m0 20h0m0 6h0m1-29h0m0 13h0m0 4h0m0 70h0m1-99h0m0 29h0m0 16h0m0 23h0m1 2h0m0 136h0m1-175h0m0 7h0m0 12h0m0 0h0m1-69h0m0 33h0m0 24h0m0 31h0m0 77h0m1-143h0m0 37h0m0 11h0m0 9h0m0 14h0m0 10h0m0 71h0m0 97h0m1-270h0m0 9h0m0 15h0m0 7h0m0 42h0m1-28h0m0 19h0m0 78h0m0 32h0m0 48h0m1-180h0m0 6h0m1-68h0m0 91h0m0 6h0m0 15h0m1-88h0m0 19h0m0 12h0m0 6h0m0 9h0m0 3h0m0 15h0m0 10h0m1-5h0m1-56h0m0 85h0m0 69h0m1-31h0m1-110h0m0 7h0m0 48h0m1-58h0m1-39h0m0 65h0m1-51h0m0 15h0m0 5h0m0 11h0m0 2h0m0 22h0m1-91h0m0 88h0m0 30h0m1-54h0m0 16h0m0 29h0m1 2h0m1-39h0m0 52h0m1-88h0m0 44h0m0 24h0m0 37h0m1-118h0m0 27h0m1 3h0m0 30h0m0 140h0m1-158h0m1-25h0m0 22h0m0 154h0m1-197h0m0 27h0m0 8h0m0 208h0m1-51h0m1-167h0m0 18h0m0 85h0m1-110h0m0 17h0m0 5h0m1-9h0m1-32h0m0 84h0m1-73h0m0 5h0m0 44h0m0 3h0m1-88h0m0 67h0m0 147h0m1-242h0m0 3h0m0 31h0m1 61h0m0 0h0m0 10h0m1-73h0m0 31h0m0 43h0m1-32h0m0 170h0m0 0h0m1-141h0m1-102h0m0 55h0m0 2h0m0 41h0m0 140h0m1-147h0m0 6h0m0 117h0m1-132h0m0 111h0m0 12h0m1-156h0m0 9h0m1-12h0m0 38h0m0 14h0m0 139h0m1-157h0m1-49h0m2-2h0m0 38h0m1 14h0m0 47h0m1-76h0m0 32h0m2-56h0m0 31h0m0 34h0m2-4h0m1-65h0m0 18h0m0 16h0m0 14h0m0 152h0m1-195h0m1 11h0m0 15h0m1 9h0m1-39h0m0 59h0m1-73h0m0 13h0m0 14h0m0 1h0m0 41h0m0 16h0m2-87h0m1 98h0m1-124h0m0 71h0m0 26h0m2-80h0m1 25h0m0 5h0m0 31h0m0 24h0m0 9h0m0 142h0m1-255h0m0 72h0m1-21h0m0 9h0m0 9h0m0 106h0m1-84h0m2 1h0m2-57h0m0 13h0m0 3h0m0 196h0m1-169h0m0 10h0m1-43h0m0 81h0m2 60h0m1-200h0m0 24h0m0 41h0m1 52h0m0 136h0m1-236h0m1 82h0m1-49h0m1-27h0m1-14h0m2 69h0m1 75h0m2-134h0m0 162h0m1 12h0m4-117h0m2-48h0m0 34h0m3-39h0m0 29h0m0 111h0m4-171h0m1 50h0m0 145h0m1-147h0m1-9h0m0 26h0m1-48h0m0 15h0m0 22h0m4 24h0m2-95h0m0 62h0m0 5h0m0 45h0m3-60h0m0 5h0m1-51h0m0 70h0m1 112h0m2-158h0m1-7h0m0 17h0m1 15h0m1-18h0m0 91h0m1-50h0m1-54h0m2-20h0m1 69h0m1-70h0m0 222h0m3-224h0m0 39h0m3 16h0m1-75h0m2 65h0m0 160h0m2-37h0m1-195h0m0 27h0m3-17h0m2-17h0m0 44h0m4 79h0m2-75h0m6-19h0m3 233h0m6-273h0m10 2h0m1 56h0m7-92h0m6-7h0m5 34h0m4-4h0m1 32h0m3-35h0m1 68h0m14-109h0m3 10h0m1 7h0m41 137h0"/><path stroke="#1f77b4" d="M1522 2355h0m7-32h0m4-6h0m0 3h0m3 1h0m4-11h0m13-32h0m2 28h0m2-24h0m1-4h0m1 8h0m1 29h0m2-25h0m1-18h0m0 9h0m1-14h0m1-5h0m0 4h0m0 7h0m2-9h0m1-9h0m2 45h0m1-18h0m0 12h0m1-37h0m0 14h0m2-9h0m1 1h0m1 28h0m1-65h0m0 30h0m0 8h0m0 0h0m0 22h0m1-43h0m0 30h0m0 1h0m0 6h0m0 7h0m1-50h0m0 11h0m0 4h0m0 22h0m1-20h0m0 15h0m2-32h0m0 12h0m0 6h0m1 4h0m0 1h0m2-18h0m0 9h0m1-29h0m0 18h0m0 19h0m0 25h0m1-5h0m1-45h0m0 18h0m1-21h0m0 1h0m0 2h0m0 41h0m1-27h0m0 4h0m1-24h0m0 16h0m0 5h0m0 11h0m0 10h0m0 20h0m1-29h0m1-53h0m0 16h0m1 10h0m0 14h0m0 23h0m1-53h0m0 8h0m0 12h0m0 34h0m1-46h0m0 34h0m1-53h0m0 16h0m0 33h0m0 44h0m1-54h0m1-11h0m0 3h0m0 8h0m0 11h0m1-54h0m0 13h0m0 12h0m0 14h0m0 24h0m0 18h0m1-80h0m0 7h0m0 8h0m0 23h0m1 42h0m1-52h0m1-4h0m0 7h0m0 6h0m1-15h0m0 72h0m1-97h0m0 1h0m0 43h0m0 0h0m1-53h0m0 1h0m0 27h0m0 2h0m0 9h0m0 6h0m0 11h0m0 16h0m1-59h0m0 11h0m0 11h0m0 3h0m0 20h0m1-29h0m0 14h0m0 10h0m0 7h0m1-48h0m0 11h0m0 4h0m0 2h0m0 1h0m0 0h0m0 3h0m0 7h0m0 7h0m0 22h0m1-57h0m0 3h0m0 0h0m0 1h0m0 26h0m0 2h0m0 3h0m1-48h0m0 23h0m0 10h0m0 5h0m0 21h0m0 1h0m0 33h0m1-119h0m0 35h0m0 5h0m0 1h0m0 13h0m0 3h0m0 7h0m0 0h0m1-48h0m0 14h0m0 7h0m0 12h0m0 9h0m0 1h0m0 3h0m0 12h0m1-77h0m0 35h0m0 3h0m0 32h0m1-55h0m1 21h0m0 6h0m0 5h0m0 3h0m0 1h0m0 11h0m0 1h0m0 2h0m0 2h0m0 3h0m0 39h0m1-82h0m0 13h0m0 4h0m0 6h0m0 5h0m0 0h0m0 0h0m0 32h0m1-73h0m0 52h0m1-52h0m0 18h0m0 12h0m0 38h0m0 7h0m1-69h0m0 13h0m0 17h0m0 19h0m1-78h0m0 16h0m0 18h0m0 7h0m0 9h0m0 1h0m0 8h0m0 2h0m0 13h0m0 17h0m1-63h0m0 9h0m0 14h0m0 5h0m0 20h0m0 1h0m0 10h0m1-84h0m0 41h0m0 8h0m0 7h0m0 3h0m0 1h0m1-75h0m0 41h0m0 3h0m0 9h0m0 4h0m0 12h0m0 5h0m0 5h0m1-32h0m0 5h0m0 5h0m0 5h0m0 0h0m1-26h0m0 23h0m0 4h0m0 10h0m0 4h0m0 6h0m0 7h0m1-72h0m0 13h0m0 11h0m0 7h0m0 1h0m0 10h0m0 3h0m0 5h0m0 6h0m0 1h0m1-42h0m0 3h0m0 63h0m0 10h0m1-69h0m0 2h0m0 6h0m0 1h0m0 1h0m0 32h0m0 9h0m0 15h0m1-89h0m0 16h0m0 7h0m0 17h0m0 2h0m0 5h0m0 10h0m1-40h0m0 3h0m0 16h0m0 1h0m0 3h0m0 3h0m0 3h0m0 5h0m0 4h0m0 2h0m0 1h0m0 11h0m1-63h0m0 5h0m0 9h0m0 10h0m0 17h0m0 10h0m0 9h0m0 8h0m1-67h0m0 0h0m0 18h0m0 8h0m0 0h0m0 5h0m0 6h0m0 20h0m1-60h0m0 9h0m0 7h0m0 17h0m0 1h0m0 3h0m0 9h0m0 7h0m0 7h0m1-82h0m0 10h0m0 29h0m0 9h0m0 0h0m0 18h0m1-39h0m0 5h0m0 3h0m0 3h0m0 3h0m0 11h0m0 14h0m1-45h0m0 0h0m0 9h0m0 29h0m0 0h0m0 2h0m0 8h0m0 7h0m1-56h0m0 2h0m0 23h0m0 4h0m0 2h0m0 29h0m0 0h0m1-56h0m0 1h0m0 2h0m0 1h0m0 6h0m0 11h0m0 0h0m0 8h0m0 4h0m0 11h0m0 1h0m0 35h0m1-106h0m0 3h0m0 9h0m0 29h0m0 3h0m0 8h0m0 1h0m0 2h0m0 0h0m0 7h0m0 13h0m1-84h0m0 14h0m0 22h0m0 11h0m0 20h0m0 1h0m0 1h0m0 0h0m1-27h0m0 8h0m0 5h0m0 2h0m0 17h0m0 6h0m0 1h0m0 3h0m1-61h0m0 36h0m0 5h0m0 4h0m0 1h0m0 2h0m0 1h0m0 0h0m0 1h0m0 9h0m0 12h0m1-69h0m0 19h0m0 5h0m0 8h0m0 12h0m0 8h0m0 4h0m1-74h0m0 1h0m0 22h0m0 0h0m0 1h0m0 10h0m0 26h0m0 0h0m0 4h0m0 2h0m1-60h0m0 10h0m0 15h0m0 4h0m0 4h0m0 1h0m0 8h0m0 2h0m0 1h0m0 15h0m0 4h0m0 13h0m1-82h0m0 6h0m0 19h0m0 9h0m0 3h0m0 6h0m0 6h0m0 7h0m1-51h0m0 3h0m0 1h0m0 4h0m0 13h0m0 1h0m0 7h0m0 7h0m0 1h0m0 16h0m0 15h0m0 5h0m0 2h0m1-87h0m0 29h0m0 2h0m0 5h0m0 5h0m0 6h0m0 9h0m0 0h0m0 7h0m0 9h0m0 12h0m1-76h0m0 19h0m0 8h0m0 1h0m0 1h0m0 7h0m0 33h0m1-80h0m0 44h0m0 3h0m0 15h0m0 1h0m0 0h0m0 7h0m0 6h0m0 4h0m0 13h0m1-83h0m0 15h0m0 2h0m0 0h0m0 12h0m0 4h0m0 4h0m0 6h0m0 2h0m0 2h0m0 2h0m0 1h0m0 5h0m0 3h0m0 0h0m1-65h0m0 27h0m0 7h0m0 0h0m0 4h0m0 14h0m0 4h0m0 5h0m0 13h0m0 5h0m0 18h0m1-86h0m0 9h0m0 4h0m0 4h0m0 1h0m0 4h0m0 11h0m0 1h0m0 2h0m0 11h0m0 11h0m0 19h0m1-86h0m0 28h0m0 1h0m0 2h0m0 13h0m0 7h0m0 1h0m0 9h0m1-61h0m0 5h0m0 12h0m0 2h0m0 0h0m0 10h0m0 10h0m0 2h0m0 3h0m0 11h0m1-44h0m0 17h0m0 5h0m0 3h0m0 2h0m0 2h0m0 35h0m1-65h0m0 9h0m0 7h0m0 13h0m0 21h0m0 2h0m1-68h0m0 0h0m0 22h0m0 2h0m0 21h0m0 8h0m0 7h0m0 3h0m1-58h0m0 2h0m0 15h0m0 14h0m0 7h0m0 13h0m0 2h0m0 2h0m0 2h0m0 5h0m1-77h0m0 5h0m0 16h0m0 30h0m0 2h0m0 0h0m0 3h0m0 0h0m0 18h0m1-42h0m0 1h0m0 13h0m0 3h0m0 8h0m1-62h0m0 9h0m0 31h0m0 3h0m0 17h0m0 5h0m0 8h0m0 3h0m1-56h0m0 8h0m0 15h0m0 3h0m0 13h0m0 5h0m0 14h0m1-59h0m0 25h0m0 20h0m0 7h0m1-69h0m0 16h0m0 0h0m0 11h0m0 0h0m0 5h0m0 9h0m0 3h0m0 4h0m0 6h0m1-30h0m0 3h0m0 1h0m0 2h0m0 15h0m0 37h0m1-95h0m0 5h0m0 4h0m0 26h0m0 5h0m0 6h0m0 5h0m0 16h0m0 7h0m0 2h0m0 9h0m1-93h0m0 23h0m0 5h0m0 4h0m0 26h0m0 19h0m0 8h0m0 12h0m1-77h0m0 15h0m0 0h0m0 3h0m0 1h0m0 0h0m0 6h0m0 9h0m0 1h0m0 10h0m0 0h0m0 2h0m1-39h0m0 3h0m0 31h0m0 7h0m0 11h0m0 0h0m0 2h0m0 0h0m0 4h0m0 6h0m1-61h0m0 4h0m0 2h0m0 1h0m0 5h0m0 5h0m0 6h0m0 6h0m0 27h0m0 17h0m1-71h0m0 5h0m0 2h0m0 5h0m0 0h0m0 1h0m0 0h0m0 4h0m0 2h0m0 25h0m0 6h0m1-44h0m0 3h0m0 3h0m0 6h0m0 14h0m0 10h0m1-47h0m0 11h0m0 25h0m0 0h0m0 1h0m0 5h0m1-51h0m0 19h0m0 17h0m0 1h0m0 5h0m0 11h0m1-48h0m0 7h0m0 4h0m0 3h0m0 9h0m0 6h0m0 2h0m0 13h0m0 0h0m1-43h0m0 17h0m0 9h0m0 2h0m0 11h0m0 10h0m1-45h0m0 15h0m0 2h0m0 10h0m0 6h0m0 1h0m1-71h0m0 31h0m0 19h0m0 5h0m0 9h0m0 6h0m0 18h0m1-37h0m0 4h0m0 7h0m0 2h0m1-56h0m0 30h0m0 17h0m0 5h0m0 18h0m1-58h0m0 5h0m0 2h0m0 7h0m0 3h0m0 10h0m0 25h0m1-35h0m1-39h0m0 15h0m0 17h0m0 4h0m0 24h0m0 5h0m0 13h0m1-56h0m0 15h0m0 5h0m0 7h0m0 5h0m0 3h0m0 8h0m1-38h0m0 6h0m0 14h0m0 23h0m0 3h0m1-30h0m0 26h0m0 3h0m0 1h0m0 8h0m1-63h0m0 0h0m0 11h0m0 8h0m0 7h0m0 1h0m0 4h0m0 1h0m0 1h0m0 2h0m0 0h0m0 9h0m0 2h0m0 1h0m0 11h0m1-62h0m0 30h0m0 4h0m0 7h0m0 1h0m0 0h0m1-64h0m0 31h0m0 6h0m0 3h0m0 5h0m0 13h0m0 21h0m1-45h0m0 1h0m0 3h0m0 9h0m0 1h0m0 6h0m0 28h0m1-60h0m0 21h0m0 12h0m1-16h0m0 0h0m0 17h0m0 6h0m0 4h0m0 20h0m1-55h0m0 59h0m1-69h0m0 11h0m0 10h0m0 3h0m0 8h0m0 8h0m0 45h0m1-73h0m0 1h0m0 21h0m0 4h0m1-54h0m0 5h0m0 9h0m0 21h0m0 1h0m0 1h0m0 7h0m0 1h0m0 3h0m1-36h0m0 10h0m0 2h0m0 12h0m0 5h0m0 2h0m0 15h0m0 8h0m1-39h0m0 2h0m0 4h0m0 6h0m0 6h0m0 10h0m0 10h0m1-58h0m0 7h0m0 2h0m0 3h0m0 19h0m0 4h0m1-29h0m0 5h0m0 11h0m0 25h0m1-42h0m0 11h0m0 3h0m0 24h0m0 4h0m0 8h0m1-46h0m0 1h0m0 12h0m0 17h0m0 6h0m0 25h0m1-109h0m0 52h0m0 0h0m0 1h0m0 6h0m0 17h0m0 5h0m0 17h0m0 2h0m0 1h0m1-89h0m0 5h0m0 7h0m0 16h0m0 6h0m0 31h0m0 19h0m1-63h0m0 1h0m0 28h0m1-11h0m0 2h0m0 3h0m0 3h0m0 9h0m1-36h0m0 4h0m0 3h0m0 12h0m0 16h0m1-48h0m0 7h0m0 5h0m0 9h0m0 1h0m0 3h0m0 2h0m0 6h0m0 19h0m1-32h0m0 5h0m0 4h0m0 12h0m0 7h0m0 0h0m0 3h0m0 6h0m0 10h0m1-81h0m0 32h0m0 18h0m0 3h0m0 3h0m1-54h0m0 20h0m0 11h0m0 2h0m0 2h0m0 3h0m0 10h0m0 21h0m1-46h0m0 30h0m0 4h0m1-11h0m0 4h0m0 25h0m1-76h0m0 7h0m0 21h0m0 13h0m0 0h0m0 6h0m1-41h0m0 7h0m0 5h0m0 6h0m0 1h0m0 0h0m0 18h0m0 3h0m0 7h0m0 4h0m0 5h0m0 6h0m0 3h0m0 4h0m1-48h0m0 0h0m0 15h0m0 14h0m1-47h0m0 17h0m0 0h0m0 16h0m0 14h0m1-59h0m0 35h0m0 19h0m0 1h0m1-57h0m0 14h0m0 32h0m0 10h0m0 2h0m0 0h0m0 4h0m1-37h0m0 35h0m0 0h0m1-61h0m0 52h0m0 10h0m0 26h0m1-24h0m1-69h0m0 2h0m0 25h0m0 13h0m0 11h0m0 8h0m1-88h0m0 14h0m0 6h0m0 15h0m0 15h0m0 20h0m0 2h0m0 3h0m0 13h0m1-31h0m0 2h0m0 1h0m0 12h0m0 4h0m0 1h0m0 8h0m0 0h0m0 6h0m0 4h0m1-44h0m0 32h0m0 3h0m0 7h0m1-45h0m1-6h0m0 6h0m0 16h0m0 0h0m0 4h0m0 3h0m0 5h0m1-45h0m0 3h0m0 7h0m0 11h0m0 8h0m0 15h0m0 26h0m1-48h0m1-6h0m0 14h0m0 18h0m1-61h0m0 44h0m0 13h0m1-29h0m0 3h0m0 12h0m0 3h0m0 30h0m1-76h0m0 4h0m0 24h0m0 3h0m1-26h0m0 2h0m0 57h0m0 1h0m1-35h0m0 8h0m1 10h0m0 10h0m0 9h0m1-114h0m0 64h0m0 10h0m0 2h0m0 11h0m1-43h0m0 9h0m0 10h0m0 19h0m0 26h0m1-65h0m0 31h0m0 17h0m0 9h0m1-53h0m0 10h0m0 10h0m0 15h0m1-29h0m0 6h0m1-3h0m0 4h0m0 28h0m1-47h0m0 9h0m0 4h0m0 15h0m1 8h0m0 19h0m0 11h0m1-45h0m1-22h0m0 15h0m1-18h0m0 1h0m0 26h0m0 6h0m0 3h0m0 6h0m1-40h0m0 7h0m0 39h0m0 11h0m0 11h0m1-41h0m1-17h0m0 3h0m0 16h0m0 14h0m0 3h0m1-34h0m1-1h0m0 30h0m0 9h0m1-65h0m0 85h0m1-64h0m2-14h0m1 21h0m0 11h0m0 60h0m1-90h0m0 0h0m0 2h0m0 0h0m0 3h0m0 64h0m1-50h0m0 17h0m1-55h0m0 35h0m0 13h0m1-5h0m1-21h0m0 21h0m1-41h0m0 25h0m0 18h0m0 1h0m1-3h0m1-29h0m0 4h0m1-3h0m0 12h0m1-24h0m0 37h0m1 1h0m1-13h0m1-7h0m1-1h0m1-13h0m0 11h0m1-29h0m0 37h0m0 16h0m1-40h0m0 23h0m0 5h0m1-2h0m2-3h0m2-7h0m0 8h0m0 20h0m1-31h0m0 1h0m1-18h0m0 3h0m0 37h0m1-26h0m0 12h0m0 1h0m1 3h0m1-49h0m0 20h0m0 29h0m1-78h0m0 68h0m1-38h0m1 53h0m1-28h0m2 44h0m1-98h0m1 80h0m2-41h0m1 0h0m1 7h0m1-9h0m1-9h0m1 49h0m1-41h0m1 11h0m0 7h0m5-43h0m1-6h0m4-28h0m0 5h0m0 42h0m5-37h0m0 10h0m2 3h0m0 37h0m0 0h0m1-22h0m1-3h0m0 21h0m1-44h0m7 24h0m3-26h0m3 4h0m2 0h0m0 45h0m3-13h0m2-55h0m6 6h0m16 30h0m16-43h0m13-36h0m38-49h0"/><path stroke="#2ca02c" d="M1532 2460h0m4-46h0m1 24h0m1-51h0m2-17h0m2 49h0m4-3h0m0 11h0m4-67h0m0 66h0m0 1h0m3-1h0m1-6h0m1-54h0m0 89h0m2-79h0m1 16h0m0 33h0m0 2h0m1-24h0m1 49h0m1-17h0m2-22h0m0 9h0m0 17h0m1-64h0m0 74h0m1-93h0m0 76h0m0 30h0m1-72h0m0 11h0m0 33h0m2-32h0m0 14h0m0 40h0m3-93h0m0 36h0m0 7h0m2-28h0m0 16h0m0 63h0m0 2h0m1-106h0m0 37h0m0 2h0m0 8h0m0 17h0m1-53h0m0 52h0m1-78h0m1-7h0m0 71h0m0 33h0m0 28h0m1-46h0m0 18h0m0 16h0m0 7h0m1-70h0m0 50h0m1-33h0m1-42h0m0 41h0m0 30h0m0 8h0m1-24h0m1 36h0m1-131h0m0 1h0m0 30h0m0 71h0m1-53h0m0 3h0m0 10h0m1-4h0m0 17h0m0 5h0m1-13h0m0 32h0m1-116h0m0 22h0m0 11h0m0 56h0m0 43h0m1-103h0m0 39h0m0 36h0m0 26h0m0 3h0m0 6h0m1-88h0m0 35h0m0 2h0m0 6h0m2-78h0m0 46h0m0 70h0m1-100h0m0 125h0m1-109h0m0 87h0m1-63h0m0 0h0m0 7h0m0 39h0m1-115h0m0 30h0m0 1h0m0 11h0m0 5h0m0 89h0m0 15h0m1-59h0m0 19h0m0 23h0m0 14h0m1-116h0m0 3h0m0 23h0m0 1h0m0 43h0m0 53h0m1-89h0m0 84h0m1-92h0m0 2h0m0 24h0m0 23h0m1-51h0m0 25h0m0 18h0m0 1h0m1-96h0m0 72h0m1-83h0m0 22h0m0 5h0m0 54h0m0 17h0m1-47h0m0 32h0m0 15h0m1-76h0m0 33h0m0 44h0m0 14h0m1-18h0m0 11h0m0 21h0m0 30h0m1-164h0m0 35h0m0 15h0m0 14h0m0 58h0m0 35h0m1-137h0m0 15h0m0 8h0m0 36h0m1-64h0m0 69h0m0 5h0m0 4h0m0 10h0m0 19h0m1-123h0m0 135h0m0 11h0m0 21h0m1-48h0m0 11h0m1-37h0m1-74h0m0 37h0m0 91h0m0 7h0m1-114h0m0 48h0m0 55h0m0 19h0m0 9h0m1-146h0m0 46h0m0 4h0m0 17h0m1-7h0m0 30h0m0 14h0m1-84h0m0 0h0m0 18h0m0 68h0m0 12h0m0 22h0m1-121h0m0 5h0m0 11h0m0 71h0m1-124h0m0 23h0m0 60h0m1-89h0m0 23h0m0 27h0m0 37h0m0 3h0m0 8h0m0 55h0m0 14h0m1-121h0m0 42h0m0 8h0m0 55h0m1-138h0m0 7h0m0 38h0m0 8h0m0 12h0m0 23h0m1-105h0m0 12h0m0 41h0m0 44h0m0 18h0m1-48h0m0 10h0m0 37h0m0 29h0m1-33h0m1-116h0m0 30h0m0 92h0m0 12h0m1-98h0m0 35h0m0 92h0m1-117h0m0 12h0m0 101h0m1-152h0m0 21h0m0 7h0m0 47h0m0 44h0m0 36h0m0 2h0m0 11h0m0 5h0m1-100h0m0 31h0m0 15h0m1-115h0m0 51h0m0 9h0m0 23h0m1-32h0m0 11h0m0 72h0m0 11h0m1-72h0m0 17h0m0 10h0m0 11h0m0 36h0m1-142h0m0 14h0m0 58h0m0 46h0m0 3h0m0 35h0m1-159h0m0 96h0m0 4h0m0 30h0m1-139h0m0 112h0m1-116h0m0 36h0m0 65h0m0 1h0m1-98h0m0 66h0m0 56h0m0 12h0m0 16h0m1-122h0m0 34h0m0 6h0m0 54h0m0 22h0m0 15h0m1-182h0m0 7h0m0 3h0m0 16h0m0 6h0m0 6h0m0 73h0m1-116h0m0 178h0m1-47h0m0 13h0m0 47h0m1-133h0m0 99h0m0 47h0m1-82h0m0 68h0m1-139h0m0 2h0m0 8h0m0 32h0m0 24h0m0 46h0m1-133h0m0 24h0m0 32h0m0 20h0m0 6h0m0 6h0m1-26h0m0 17h0m0 13h0m0 1h0m1 3h0m0 5h0m0 4h0m0 24h0m0 21h0m1-136h0m0 51h0m0 2h0m0 39h0m0 25h0m0 42h0m1-100h0m0 0h0m0 5h0m1-118h0m0 25h0m0 143h0m1-113h0m0 45h0m0 35h0m0 49h0m1-162h0m0 62h0m0 85h0m1-125h0m0 106h0m1 8h0m0 54h0m0 1h0m1-148h0m0 75h0m0 20h0m1-158h0m0 11h0m0 32h0m0 9h0m0 80h0m0 34h0m0 23h0m0 17h0m1-150h0m0 65h0m0 36h0m1-4h0m1-134h0m0 84h0m0 9h0m0 54h0m3-105h0m0 50h0m0 10h0m0 11h0m0 5h0m0 12h0m0 35h0m0 1h0m1-182h0m0 191h0m1-145h0m0 79h0m0 28h0m1-62h0m0 1h0m0 38h0m0 20h0m0 21h0m1-155h0m0 86h0m0 35h0m1-110h0m0 92h0m0 59h0m0 9h0m1-18h0m0 20h0m0 3h0m1-122h0m0 20h0m0 114h0m1-191h0m0 5h0m0 83h0m0 92h0m0 5h0m1-180h0m0 55h0m0 88h0m0 15h0m1-74h0m0 7h0m1-68h0m0 12h0m1-66h0m0 49h0m0 35h0m0 15h0m0 46h0m0 60h0m1-178h0m0 74h0m0 23h0m0 26h0m0 12h0m1-102h0m0 10h0m0 65h0m0 10h0m0 53h0m1-154h0m0 24h0m0 23h0m1-45h0m0 40h0m1 72h0m1-95h0m0 45h0m0 9h0m0 93h0m1-135h0m0 46h0m0 57h0m1-146h0m0 178h0m1-136h0m0 46h0m0 36h0m0 22h0m0 35h0m1-125h0m0 15h0m0 1h0m0 1h0m0 40h0m0 53h0m1-192h0m0 53h0m0 71h0m0 62h0m1-53h0m0 20h0m1-15h0m1 19h0m1-71h0m0 13h0m1-121h0m0 172h0m0 50h0m1-133h0m1-73h0m0 33h0m0 84h0m0 10h0m0 4h0m1-129h0m0 193h0m0 21h0m1-49h0m1-51h0m1-68h0m0 102h0m1-69h0m0 8h0m0 123h0m1-180h0m1 83h0m0 72h0m2-33h0m0 38h0m1-129h0m1-16h0m0 30h0m0 54h0m0 88h0m1-221h0m0 0h0m0 103h0m1-84h0m2-44h0m0 86h0m0 54h0m0 4h0m0 93h0m0 8h0m1-232h0m0 22h0m1 21h0m0 90h0m0 32h0m0 29h0m1 35h0m1-198h0m0 49h0m1 50h0m1-62h0m0 155h0m1-216h0m0 33h0m0 20h0m0 79h0m1 62h0m1-212h0m1 196h0m0 31h0m2-138h0m0 109h0m1-140h0m0 44h0m0 44h0m1 95h0m1-40h0m1-94h0m0 92h0m0 21h0m1-9h0m1-1h0m1-43h0m0 8h0m1-101h0m0 93h0m1-80h0m0 41h0m2-2h0m0 104h0m1-193h0m1 71h0m0 94h0m0 38h0m1-184h0m0 140h0m3 20h0m1-157h0m1 69h0m1-64h0m0 177h0m1-239h0m0 162h0m0 6h0m1-169h0m0 13h0m2 100h0m2-133h0m0 103h0m0 10h0m0 142h0m1-145h0m1 79h0m3-27h0m1-77h0m1 154h0m1-82h0m6-40h0m1-27h0m0 60h0m3-65h0m1 25h0m2-40h0m0 160h0m0 13h0m1-110h0m2-24h0m0 96h0m1-169h0m4 101h0m0 108h0m2-74h0m1-102h0m1 47h0m0 23h0m2 51h0m1-22h0m1 54h0m1-58h0m1 49h0m1-85h0m1 69h0m3 4h0m4-68h0m0 69h0m1-21h0m0 14h0m1-43h0m1 55h0m5-24h0m2-78h0m1-14h0m26 54h0m10 14h0m1-40h0m1 94h0m12-203h0m33 208h0m9-161h0"/></g></g>
<line x1="270.50" y1="490.05" x2="443.50" y2="317.20" stroke="#000" stroke-width="0.95"/>
<circle cx="344.89" cy="411.98" r="3.25" fill="#7f7f7f" stroke="none" stroke-width="1.3" stroke-linejoin="miter"/><rect x="342.26" y="413.09" width="6.42" height="6.42" fill="#d62728" stroke="none" stroke-width="1.3" stroke-linejoin="miter"/><path d="M335.66 428.13L339.20 434.84L332.13 434.84Z" fill="#ff7f0e" stroke="none" stroke-width="1.3" stroke-linejoin="miter"/><path d="M336.24 423.23L340.83 427.82L336.24 432.41L331.65 427.82Z" fill="#1f77b4" stroke="none" stroke-width="1.3" stroke-linejoin="miter"/><path d="M327.97 473.82L330.67 473.82L330.67 476.03L332.87 476.03L332.87 478.72L330.67 478.72L330.67 480.92L327.97 480.92L327.97 478.72L325.77 478.72L325.77 476.03L327.97 476.03Z" fill="#2ca02c" stroke="none" stroke-width="1.3" stroke-linejoin="miter"/>
<circle cx="344.89" cy="411.98" r="3.25" fill="none" stroke="#000" stroke-width="1.3" stroke-linejoin="miter"/><rect x="342.26" y="413.09" width="6.42" height="6.42" fill="none" stroke="#000" stroke-width="1.3" stroke-linejoin="miter"/><path d="M335.66 428.13L339.20 434.84L332.13 434.84Z" fill="none" stroke="#000" stroke-width="1.3" stroke-linejoin="miter"/><path d="M336.24 423.23L340.83 427.82L336.24 432.41L331.65 427.82Z" fill="none" stroke="#000" stroke-width="1.3" stroke-linejoin="miter"/><path d="M327.97 473.82L330.67 473.82L330.67 476.03L332.87 476.03L332.87 478.72L330.67 478.72L330.67 480.92L327.97 480.92L327.97 478.72L325.77 478.72L325.77 476.03L327.97 476.03Z" fill="none" stroke="#000" stroke-width="1.3" stroke-linejoin="miter"/>
<rect x="271.40" y="318.10" width="171.20" height="171.05" fill="none" stroke="#000" stroke-opacity="0.4" stroke-width="1"/>
<rect x="270.50" y="317.20" width="173.00" height="172.85" fill="none" stroke="#333" stroke-width="1.1"/>
<text x="262.90" y="494.05" font-size="11.3" text-anchor="end">0</text>
<text x="262.90" y="465.24" font-size="11.3" text-anchor="end">100</text>
<text x="262.90" y="436.43" font-size="11.3" text-anchor="end">200</text>
<text x="262.90" y="407.62" font-size="11.3" text-anchor="end">300</text>
<text x="262.90" y="378.82" font-size="11.3" text-anchor="end">400</text>
<text x="262.90" y="350.01" font-size="11.3" text-anchor="end">500</text>
<text x="262.90" y="321.20" font-size="11.3" text-anchor="end">600</text>
<text x="270.50" y="505.85" font-size="11.3" text-anchor="middle">0</text>
<text x="328.17" y="505.85" font-size="11.3" text-anchor="middle">200</text>
<text x="385.83" y="505.85" font-size="11.3" text-anchor="middle">400</text>
<text x="443.50" y="505.85" font-size="11.3" text-anchor="middle">600</text>
<path d="M270.50 490.05h-3.6M270.50 461.24h-3.6M270.50 432.43h-3.6M270.50 403.62h-3.6M270.50 374.82h-3.6M270.50 346.01h-3.6M270.50 317.20h-3.6M270.50 490.05v3.6M328.17 490.05v3.6M385.83 490.05v3.6M443.50 490.05v3.6" stroke="#000" stroke-width="0.9"/>
<text x="357.00" y="519.85" font-size="11.45" text-anchor="middle">PHEV g CO2e per km</text>
<text transform="translate(237.40 403.62) rotate(-90)" font-size="11.45" text-anchor="middle">FCEV g CO2e per km</text>
<text transform="translate(276.00 339.10) scale(1 1.1)" font-size="14.2">(e)</text>
<clipPath id="cf"><rect x="502.50" y="317.20" width="173.00" height="172.85"/></clipPath>
<path d="M502.50 317.20L675.50 317.20L502.50 490.05Z" fill="#fbe9f5"/>
<path d="M675.50 317.20L675.50 490.05L502.50 490.05Z" fill="#f9f1de"/>
<g clip-path="url(#cf)"><g transform="scale(0.2)" fill="none" stroke-linecap="round" stroke-width="14"><path stroke="#7f7f7f" d="M2759 2253h0m3-39h0m11 16h0m2 34h0m12-73h0m3-36h0m15-14h0m1 43h0m2-11h0m0 41h0m2-84h0m1 2h0m1 0h0m1-13h0m1 61h0m1-54h0m0 14h0m0 70h0m4-74h0m1-14h0m1 43h0m1 1h0m1-35h0m3-4h0m0 48h0m0 0h0m4-65h0m1 8h0m2-11h0m0 11h0m2-25h0m0 20h0m0 17h0m0 44h0m1-45h0m5-21h0m1-73h0m0 151h0m1-89h0m0 1h0m0 51h0m1-9h0m2-43h0m0 8h0m0 70h0m1-91h0m1 24h0m0 11h0m2-33h0m0 15h0m1-11h0m0 50h0m1-48h0m0 11h0m1 92h0m1-98h0m0 23h0m1 17h0m0 13h0m1-49h0m0 73h0m1-80h0m0 63h0m2-86h0m0 70h0m1-129h0m0 3h0m0 56h0m1 57h0m0 10h0m0 6h0m1-50h0m0 2h0m1-93h0m0 125h0m0 8h0m0 5h0m1-75h0m0 21h0m1-5h0m0 3h0m0 39h0m0 4h0m1-56h0m4 11h0m0 58h0m5-62h0m0 82h0m1-99h0m0 0h0m0 12h0m2-35h0m1-72h0m0 98h0m1 10h0m0 24h0m0 19h0m1-5h0m0 32h0m1-26h0m1 64h0m1-113h0m0 11h0m0 11h0m0 94h0m2-145h0m1-66h0m0 98h0m1-49h0m0 48h0m1-91h0m0 76h0m0 1h0m1 30h0m1-24h0m0 53h0m1-66h0m0 11h0m1-5h0m0 1h0m0 48h0m1-150h0m0 12h0m0 87h0m1-18h0m1-57h0m0 43h0m0 33h0m1 64h0m1-54h0m0 17h0m0 5h0m0 7h0m0 35h0m0 74h0m1-242h0m0 90h0m3-101h0m0 92h0m0 155h0m1-225h0m0 205h0m1-111h0m1-18h0m1 51h0m0 104h0m1-271h0m0 91h0m1 24h0m0 141h0m1-129h0m0 16h0m1-123h0m1-1h0m0 159h0m0 49h0m1-207h0m0 221h0m1-244h0m0 89h0m0 4h0m0 8h0m0 32h0m1-25h0m0 46h0m1-132h0m0 2h0m0 249h0m1-196h0m0 16h0m0 12h0m0 35h0m0 27h0m2-151h0m0 158h0m1-68h0m1-109h0m0 25h0m0 71h0m1 7h0m0 5h0m0 28h0m0 25h0m1-90h0m0 35h0m0 133h0m0 33h0m1-281h0m0 146h0m1-22h0m1-108h0m0 114h0m0 51h0m1-2h0m1-185h0m0 99h0m1-98h0m1 129h0m1-126h0m0 107h0m0 3h0m0 23h0m0 158h0m2-196h0m0 16h0m0 137h0m1-174h0m1-63h0m0 43h0m0 42h0m1 107h0m0 38h0m1-141h0m0 5h0m0 17h0m0 7h0m0 116h0m1-247h0m1 54h0m0 40h0m0 1h0m1-97h0m1 90h0m0 8h0m0 76h0m1 116h0m1-174h0m0 114h0m2-183h0m1-58h0m1 91h0m0 164h0m1-170h0m1 11h0m1-15h0m0 31h0m1-129h0m0 5h0m0 20h0m0 90h0m1-10h0m2-90h0m0 146h0m0 84h0m0 24h0m1-267h0m2-12h0m0 10h0m0 83h0m0 48h0m3-8h0m0 5h0m1 23h0m1-55h0m0 220h0m4-328h0m0 104h0m2-113h0m0 89h0m0 54h0m1-137h0m1 162h0m0 86h0m1-228h0m1 65h0m0 0h0m1 138h0m0 78h0m1-183h0m1-16h0m0 72h0m2-194h0m0 115h0m0 1h0m1 56h0m1-168h0m1 114h0m2 5h0m1-127h0m0 111h0m1 29h0m2-130h0m2 121h0m1-40h0m1-90h0m2 110h0m5 160h0m1-124h0m1 5h0m1 135h0m2-181h0m0 59h0m0 93h0m1-133h0m0 182h0m1-159h0m6-2h0m0 162h0m1-263h0m4 45h0m3-133h0m3-3h0m0 12h0m0 124h0m3 40h0m2 122h0m4-254h0m0 63h0m2 1h0m3-1h0m1-123h0m3-9h0m5 168h0m6-62h0m6 14h0m7 151h0m13 2h0m3-315h0m3 126h0m1 1h0m0 14h0m2-58h0m8 119h0m11-244h0m9 161h0m10 67h0m1 3h0m36-175h0m45 102h0m7-5h0"/><path stroke="#d62728" d="M2757 2249h0m5-4h0m41 16h0m4 24h0m2-80h0m2 3h0m0 37h0m3-38h0m3-32h0m3 49h0m2-49h0m2 57h0m0 0h0m1-44h0m1 14h0m0 18h0m1-46h0m1 2h0m0 50h0m1-55h0m1 59h0m0 43h0m1-105h0m1 9h0m0 46h0m1-61h0m0 73h0m2-69h0m0 35h0m1 16h0m2-54h0m1 29h0m2-27h0m0 7h0m0 11h0m2-21h0m0 11h0m1-50h0m0 73h0m0 14h0m0 10h0m3-72h0m0 31h0m0 2h0m0 36h0m2-73h0m0 14h0m0 41h0m0 6h0m1-11h0m1-12h0m0 44h0m1-37h0m1-13h0m0 65h0m2-57h0m0 1h0m0 4h0m1-33h0m0 91h0m1-120h0m1 83h0m1-20h0m0 2h0m1-59h0m0 26h0m1-13h0m1 21h0m1 17h0m1-22h0m0 1h0m0 18h0m0 5h0m1-62h0m0 22h0m2-11h0m0 3h0m0 34h0m1-21h0m0 48h0m1-38h0m0 78h0m1-138h0m0 55h0m0 14h0m1 11h0m0 37h0m1-112h0m1 16h0m0 53h0m1-51h0m0 8h0m0 14h0m0 45h0m2-36h0m1 7h0m2-61h0m0 87h0m0 41h0m1-136h0m0 32h0m0 46h0m1 65h0m1-89h0m0 10h0m0 55h0m1-47h0m0 5h0m0 34h0m1-76h0m0 12h0m0 3h0m1-56h0m1 89h0m1-26h0m0 58h0m1-105h0m0 60h0m0 7h0m1-44h0m0 22h0m0 18h0m1-86h0m0 4h0m0 58h0m0 63h0m1-77h0m0 5h0m1 66h0m1-123h0m0 58h0m0 27h0m1-38h0m0 8h0m0 8h0m1-62h0m0 63h0m0 21h0m1-51h0m0 7h0m0 16h0m0 34h0m0 24h0m2-106h0m0 29h0m0 6h0m0 23h0m0 70h0m1 4h0m1-69h0m0 46h0m0 1h0m1-71h0m0 10h0m0 18h0m0 3h0m0 69h0m1-114h0m1 32h0m1-58h0m0 16h0m0 23h0m0 83h0m0 5h0m1-146h0m0 31h0m0 43h0m0 45h0m1-44h0m0 5h0m1-46h0m0 67h0m0 13h0m1-72h0m0 56h0m1-58h0m0 28h0m1-9h0m0 63h0m1-86h0m1 16h0m0 3h0m0 43h0m0 58h0m1-148h0m0 68h0m1-6h0m0 18h0m0 1h0m0 23h0m1-98h0m0 13h0m0 59h0m1-13h0m0 5h0m1-30h0m0 3h0m0 30h0m0 79h0m1-125h0m0 46h0m1-39h0m0 2h0m1 3h0m1-1h0m0 39h0m0 69h0m1-99h0m0 96h0m1-104h0m1-45h0m0 37h0m0 13h0m0 43h0m1-134h0m0 21h0m0 45h0m0 32h0m0 63h0m0 12h0m1-82h0m0 18h0m0 42h0m1-83h0m0 23h0m0 1h0m0 34h0m1-74h0m0 26h0m0 26h0m0 4h0m0 2h0m0 6h0m0 3h0m1-99h0m0 16h0m0 21h0m0 28h0m0 48h0m0 31h0m1-101h0m0 0h0m0 30h0m0 10h0m1-86h0m1 46h0m0 32h0m1-16h0m0 11h0m1-54h0m0 33h0m0 1h0m1 35h0m0 22h0m0 55h0m1-113h0m0 10h0m0 36h0m0 7h0m1-40h0m0 32h0m0 2h0m0 9h0m1-2h0m0 5h0m0 37h0m1-91h0m0 52h0m0 13h0m0 1h0m0 1h0m1-113h0m0 49h0m0 36h0m0 35h0m1-111h0m0 8h0m0 98h0m1-44h0m0 49h0m1-136h0m0 5h0m0 63h0m0 37h0m1-113h0m0 19h0m0 20h0m0 36h0m0 12h0m1-84h0m0 76h0m1 2h0m0 43h0m0 3h0m0 49h0m0 39h0m1-176h0m0 2h0m0 32h0m0 47h0m1-67h0m0 23h0m1-35h0m0 28h0m1-103h0m0 89h0m0 29h0m0 50h0m1-79h0m0 30h0m1-66h0m0 15h0m0 21h0m1-50h0m0 36h0m0 42h0m1-36h0m1-28h0m0 40h0m0 0h0m0 10h0m0 23h0m1-48h0m0 21h0m0 27h0m0 38h0m2-142h0m0 85h0m1-57h0m0 18h0m0 31h0m0 9h0m0 17h0m1-29h0m1-67h0m0 39h0m0 54h0m0 35h0m1-139h0m0 8h0m0 77h0m0 71h0m1-94h0m0 26h0m0 61h0m1-126h0m0 11h0m0 25h0m1-59h0m0 72h0m1-96h0m0 85h0m0 6h0m0 15h0m0 7h0m0 51h0m1-105h0m0 4h0m0 20h0m1-74h0m0 62h0m0 106h0m1-144h0m0 21h0m0 13h0m0 5h0m0 1h0m0 44h0m0 40h0m0 0h0m1-143h0m1 125h0m1-115h0m0 20h0m0 60h0m0 5h0m0 29h0m0 24h0m1-115h0m0 61h0m1 35h0m1-90h0m0 20h0m1-46h0m0 30h0m0 68h0m0 23h0m1-124h0m0 29h0m0 52h0m0 11h0m1-110h0m0 98h0m1-24h0m1 20h0m0 6h0m1-106h0m0 30h0m0 40h0m0 12h0m0 72h0m1-69h0m0 12h0m0 22h0m1-126h0m0 40h0m1-34h0m0 6h0m0 170h0m1-181h0m0 30h0m0 8h0m0 28h0m0 15h0m0 4h0m0 3h0m0 27h0m0 14h0m1-66h0m0 26h0m1-88h0m0 20h0m0 83h0m1-41h0m0 32h0m0 41h0m0 5h0m0 7h0m0 27h0m1-102h0m0 62h0m1-8h0m1 11h0m0 0h0m0 49h0m1-184h0m1 87h0m1-56h0m0 64h0m1-78h0m0 2h0m0 1h0m0 36h0m0 6h0m1-27h0m0 7h0m0 23h0m1-86h0m0 53h0m0 18h0m0 53h0m1-30h0m0 12h0m0 8h0m1-86h0m0 8h0m0 142h0m1-116h0m1 9h0m0 29h0m1-70h0m1 155h0m1-127h0m0 29h0m0 111h0m1-53h0m0 2h0m1-3h0m1-132h0m0 109h0m0 59h0m1-180h0m0 47h0m0 47h0m0 22h0m0 15h0m0 15h0m1-111h0m0 34h0m0 108h0m1-185h0m0 3h0m0 59h0m0 19h0m0 100h0m1-105h0m0 67h0m0 30h0m1-112h0m0 19h0m0 43h0m0 53h0m1-112h0m0 37h0m0 136h0m1-234h0m0 113h0m0 109h0m1-162h0m0 8h0m0 35h0m0 24h0m1-122h0m0 66h0m0 12h0m0 25h0m0 7h0m0 61h0m1-152h0m0 81h0m0 4h0m0 49h0m1-153h0m0 61h0m1-47h0m0 32h0m1-22h0m0 31h0m0 39h0m1-159h0m0 48h0m0 56h0m1-60h0m0 228h0m1-229h0m0 2h0m0 69h0m0 15h0m0 48h0m1-108h0m0 67h0m0 46h0m0 15h0m0 1h0m1 15h0m1-160h0m0 98h0m0 3h0m0 7h0m0 16h0m1-132h0m0 3h0m0 99h0m2-63h0m0 37h0m0 1h0m0 99h0m2-161h0m0 18h0m0 26h0m0 15h0m0 5h0m1-90h0m0 7h0m0 36h0m0 8h0m0 98h0m0 62h0m1-144h0m0 23h0m0 78h0m1-163h0m0 135h0m1-88h0m1-18h0m1 92h0m0 67h0m1-180h0m1 38h0m1 73h0m0 21h0m1-150h0m0 60h0m0 46h0m2 57h0m1-119h0m1-14h0m0 24h0m0 21h0m1-81h0m0 17h0m0 58h0m0 30h0m0 3h0m0 63h0m1-164h0m0 49h0m0 7h0m0 5h0m0 2h0m0 5h0m1-4h0m0 100h0m0 11h0m1-113h0m2 19h0m1 11h0m3-63h0m2 78h0m0 43h0m0 42h0m2-176h0m0 30h0m1 1h0m1-60h0m0 17h0m0 27h0m0 52h0m1-96h0m0 32h0m0 50h0m0 5h0m1-51h0m0 85h0m3-14h0m3-78h0m1 31h0m0 87h0m0 72h0m1-186h0m0 10h0m1 48h0m4 28h0m1 27h0m2-149h0m0 113h0m1 89h0m1-178h0m4 168h0m1-216h0m2 182h0m1-20h0m1-169h0m0 26h0m1 73h0m0 62h0m0 31h0m1-211h0m0 130h0m1-50h0m2-128h0m0 193h0m0 83h0m2-159h0m0 1h0m1-9h0m2 68h0m0 20h0m1-9h0m2-55h0m1 37h0m1-85h0m0 1h0m0 117h0m1 74h0m1-206h0m1 132h0m1-128h0m0 194h0m4-229h0m2 2h0m1 116h0m2-82h0m1-32h0m3 55h0m1 153h0m3-126h0m1 19h0m1-79h0m0 55h0m2 53h0m1 131h0m2-287h0m1 250h0m2-101h0m1-110h0m0 203h0m1-169h0m0 73h0m6-108h0m1-22h0m1 23h0m2 76h0m4 89h0m3-232h0m5 1h0m12 24h0m0 4h0m1-38h0m1 13h0m14 232h0m2 1h0m8-153h0m5 33h0m11 31h0m14 60h0m10-34h0m32-84h0m19-75h0m1 113h0"/><path stroke="#ff7f0e" d="M2717 2364h0m4-11h0m6-19h0m3-15h0m5 18h0m3 25h0m2-33h0m4-61h0m1 24h0m3 28h0m0 26h0m4-57h0m1 30h0m3-38h0m5-42h0m0 58h0m1-27h0m6 81h0m1-98h0m0 6h0m4 46h0m1-51h0m1 13h0m0 22h0m1-57h0m0 43h0m0 80h0m1-87h0m0 3h0m0 2h0m0 13h0m0 40h0m1-72h0m0 26h0m0 33h0m2-84h0m4 26h0m0 41h0m1 28h0m3-77h0m0 12h0m3-18h0m2-63h0m0 30h0m0 44h0m1 26h0m1-30h0m0 94h0m3-161h0m0 58h0m0 26h0m1 16h0m1-63h0m0 31h0m1 35h0m1-9h0m0 9h0m1-68h0m0 91h0m1-16h0m1-10h0m0 11h0m1-119h0m0 60h0m0 17h0m1-25h0m0 25h0m0 9h0m0 93h0m2-59h0m2-65h0m2 16h0m1-45h0m0 68h0m1-42h0m0 69h0m1-96h0m0 43h0m0 27h0m1-97h0m0 94h0m0 42h0m1-71h0m0 30h0m0 24h0m0 31h0m1-79h0m0 39h0m1-10h0m2-43h0m0 106h0m1-184h0m0 32h0m0 16h0m0 56h0m0 80h0m1-133h0m0 25h0m2-24h0m0 7h0m0 14h0m0 44h0m1-75h0m0 33h0m0 22h0m0 23h0m0 56h0m2-87h0m0 7h0m0 15h0m1-28h0m0 106h0m1-140h0m0 12h0m0 89h0m1-147h0m0 2h0m0 19h0m0 9h0m0 12h0m0 6h0m1 16h0m0 71h0m1-73h0m0 12h0m0 21h0m0 22h0m1-86h0m0 21h0m0 16h0m0 21h0m1-42h0m1-68h0m1 27h0m0 15h0m0 72h0m0 3h0m1-11h0m1-51h0m0 19h0m2-14h0m0 42h0m1-107h0m0 98h0m0 28h0m2-62h0m0 20h0m0 32h0m0 85h0m1-148h0m0 9h0m0 6h0m0 8h0m0 116h0m1-139h0m0 13h0m0 17h0m0 53h0m1-86h0m0 23h0m0 1h0m0 32h0m1-44h0m0 26h0m1-31h0m0 8h0m0 63h0m1-86h0m0 16h0m0 21h0m0 27h0m1-10h0m1-73h0m0 24h0m0 36h0m0 11h0m1-62h0m1-34h0m0 4h0m0 37h0m0 25h0m0 19h0m0 55h0m1-132h0m0 20h0m0 0h0m0 79h0m0 15h0m1-112h0m0 94h0m0 6h0m0 8h0m0 2h0m1-110h0m0 58h0m0 70h0m1-43h0m0 13h0m1 15h0m1-141h0m0 22h0m0 32h0m0 24h0m1-3h0m0 20h0m1-43h0m1 45h0m1-61h0m0 31h0m0 30h0m0 5h0m0 13h0m0 6h0m1-72h0m0 25h0m0 1h0m0 50h0m1-110h0m0 78h0m0 31h0m1-45h0m0 20h0m1-40h0m0 42h0m0 30h0m1-97h0m0 6h0m0 41h0m0 14h0m1-19h0m0 24h0m0 17h0m0 3h0m1-55h0m0 57h0m0 6h0m0 77h0m1-203h0m0 55h0m0 27h0m1-95h0m0 114h0m0 72h0m0 28h0m1-192h0m0 39h0m0 31h0m0 50h0m1-92h0m0 6h0m0 9h0m0 9h0m0 2h0m1-16h0m0 41h0m0 25h0m0 41h0m0 9h0m1-160h0m0 17h0m0 51h0m1-7h0m0 13h0m0 95h0m0 15h0m1-134h0m0 3h0m0 25h0m0 75h0m1-111h0m0 29h0m0 3h0m1-32h0m0 102h0m0 27h0m1-95h0m0 142h0m1-237h0m0 31h0m0 55h0m0 12h0m0 14h0m1-126h0m0 45h0m0 44h0m0 18h0m0 19h0m0 30h0m1-142h0m0 52h0m0 1h0m0 7h0m0 28h0m0 34h0m0 14h0m0 34h0m0 10h0m1-174h0m0 44h0m1 174h0m1-215h0m0 44h0m0 35h0m0 22h0m0 2h0m0 8h0m0 33h0m1-166h0m0 20h0m0 120h0m0 25h0m0 11h0m1-166h0m1 44h0m0 109h0m0 32h0m1-166h0m0 13h0m0 49h0m0 7h0m0 1h0m1 25h0m0 63h0m1-150h0m0 74h0m0 31h0m1-120h0m0 10h0m0 32h0m0 2h0m0 40h0m0 19h0m0 96h0m0 6h0m1-217h0m0 36h0m0 25h0m0 39h0m0 69h0m1-144h0m0 61h0m0 106h0m1-132h0m0 30h0m0 135h0m1-211h0m0 73h0m0 95h0m1-168h0m0 42h0m0 42h0m1-94h0m0 5h0m0 70h0m0 6h0m0 6h0m0 14h0m1 1h0m1-70h0m0 36h0m1-67h0m0 2h0m1-8h0m0 39h0m0 25h0m1-67h0m0 73h0m0 20h0m0 31h0m1-124h0m0 2h0m0 4h0m0 3h0m0 3h0m0 25h0m0 54h0m0 44h0m1-130h0m0 26h0m0 20h0m0 7h0m0 1h0m0 29h0m0 20h0m0 70h0m1-199h0m0 82h0m1-11h0m0 31h0m0 91h0m0 11h0m0 19h0m0 30h0m1-92h0m1-112h0m0 19h0m0 34h0m0 6h0m0 15h0m1-114h0m0 9h0m0 43h0m0 17h0m0 66h0m0 36h0m1-122h0m0 28h0m1 43h0m0 14h0m0 30h0m0 55h0m1-152h0m0 20h0m0 53h0m0 49h0m1-211h0m0 36h0m0 165h0m1-196h0m0 4h0m0 50h0m0 5h0m1 185h0m1-217h0m0 12h0m0 8h0m0 11h0m0 33h0m0 135h0m1-229h0m0 24h0m0 46h0m0 8h0m0 2h0m0 29h0m0 103h0m1-200h0m0 114h0m0 42h0m1-71h0m0 3h0m0 9h0m0 0h0m0 9h0m0 41h0m0 24h0m1-147h0m0 19h0m0 175h0m1-213h0m0 26h0m0 53h0m0 12h0m0 16h0m0 41h0m0 43h0m1-124h0m0 35h0m0 43h0m1-136h0m0 85h0m0 12h0m1-93h0m0 33h0m0 147h0m1-178h0m0 69h0m0 1h0m0 67h0m0 28h0m0 47h0m1-250h0m0 18h0m0 39h0m0 6h0m0 54h0m0 38h0m0 27h0m1-59h0m0 27h0m0 34h0m1-139h0m0 1h0m0 30h0m0 4h0m0 97h0m0 64h0m1-239h0m0 2h0m0 12h0m0 28h0m0 35h0m0 2h0m0 153h0m1-199h0m0 56h0m0 63h0m0 91h0m1-246h0m0 0h0m0 5h0m0 37h0m0 40h0m0 38h0m1-119h0m0 59h0m0 4h0m1-35h0m0 7h0m1 93h0m1-70h0m1-46h0m0 18h0m0 13h0m0 17h0m1-75h0m0 189h0m1-144h0m0 7h0m0 12h0m0 34h0m0 2h0m0 22h0m0 54h0m0 18h0m1-190h0m0 1h0m0 43h0m0 13h0m1 34h0m0 45h0m1-133h0m0 242h0m1-218h0m0 1h0m0 3h0m0 7h0m0 24h0m0 169h0m1-195h0m0 3h0m0 64h0m0 19h0m0 31h0m0 31h0m1-199h0m0 13h0m0 36h0m0 50h0m0 29h0m1-132h0m0 83h0m0 34h0m0 28h0m1-137h0m0 48h0m0 63h0m1 3h0m1-28h0m0 16h0m0 145h0m1-172h0m0 46h0m0 28h0m0 101h0m1-133h0m0 2h0m1-76h0m0 1h0m0 4h0m0 4h0m0 23h0m1-92h0m0 27h0m0 83h0m0 75h0m1-121h0m0 26h0m0 41h0m0 36h0m0 49h0m1-113h0m0 9h0m0 44h0m1-154h0m0 40h0m0 16h0m0 1h0m1-25h0m0 21h0m0 85h0m1-136h0m0 124h0m0 1h0m1-133h0m0 49h0m0 140h0m1-187h0m0 54h0m0 187h0m1-159h0m0 7h0m0 171h0m1-253h0m0 5h0m0 64h0m1-1h0m0 36h0m1-114h0m0 29h0m0 128h0m4-133h0m0 46h0m0 3h0m0 17h0m1-60h0m0 227h0m1-229h0m0 92h0m0 184h0m1-302h0m0 68h0m0 45h0m0 71h0m0 14h0m1-208h0m0 125h0m0 18h0m1-44h0m0 39h0m0 48h0m1-178h0m0 75h0m1-15h0m1-32h0m1 47h0m0 6h0m0 16h0m0 57h0m1-53h0m0 20h0m1-136h0m0 136h0m1 135h0m1-269h0m0 73h0m0 42h0m1 30h0m0 76h0m0 58h0m2-198h0m1-61h0m0 87h0m0 110h0m1-228h0m0 43h0m0 37h0m0 201h0m1-185h0m1-56h0m1-40h0m0 29h0m0 28h0m0 15h0m0 8h0m2 178h0m1-256h0m0 57h0m1 77h0m1 16h0m1-171h0m0 48h0m0 122h0m0 29h0m2-107h0m0 50h0m1-181h0m0 294h0m1-182h0m0 38h0m1-95h0m0 104h0m0 35h0m1-152h0m0 2h0m0 87h0m1 7h0m1 27h0m1-87h0m0 95h0m0 55h0m1-34h0m1-153h0m0 108h0m1-36h0m0 112h0m1-83h0m1-56h0m0 36h0m0 3h0m1-72h0m0 63h0m0 20h0m1 20h0m1-80h0m0 118h0m0 102h0m1-247h0m1 58h0m1-50h0m1-5h0m0 15h0m0 61h0m1-82h0m0 94h0m3-91h0m0 41h0m0 98h0m0 113h0m1-6h0m1-213h0m0 5h0m1-14h0m0 17h0m0 116h0m2-172h0m0 3h0m1 91h0m0 97h0m1-195h0m0 41h0m0 28h0m0 48h0m0 31h0m1-95h0m2 25h0m0 155h0m1-248h0m4 8h0m0 72h0m0 22h0m0 3h0m2-53h0m1-63h0m0 30h0m1 244h0m1-277h0m1 55h0m1 1h0m0 70h0m5-52h0m0 44h0m1-123h0m0 94h0m0 34h0m2-76h0m0 117h0m1 4h0m2-121h0m0 40h0m1 126h0m4-174h0m0 148h0m1-187h0m1 61h0m1-37h0m0 181h0m2-200h0m0 84h0m3-113h0m0 34h0m0 6h0m4-36h0m0 96h0m2-37h0m1 103h0m1 75h0m1-204h0m0 89h0m9-147h0m2 2h0m0 45h0m0 209h0m3-228h0m3 72h0m1 9h0m4-116h0m4 280h0m2-205h0m5-82h0m2 3h0m5 29h0m7-52h0m6-7h0m4 3h0m2-7h0m8 99h0m7-43h0m2 88h0m4-154h0"/><path stroke="#1f77b4" d="M2730 2310h0m7 7h0m3-31h0m3-4h0m4-4h0m3 77h0m7-35h0m8-53h0m4 15h0m3-10h0m1-6h0m0 40h0m1-51h0m0 36h0m1-22h0m1 12h0m0 42h0m1-62h0m2 33h0m3-20h0m0 47h0m1-67h0m1-23h0m0 31h0m0 9h0m0 29h0m1-45h0m1 1h0m3 3h0m0 19h0m2-38h0m0 23h0m0 8h0m0 15h0m0 4h0m0 0h0m1-69h0m0 22h0m2 72h0m1-93h0m3 8h0m0 15h0m2 19h0m1-30h0m1-18h0m0 33h0m2-45h0m1 30h0m0 16h0m0 10h0m1-58h0m0 15h0m0 1h0m0 9h0m0 12h0m0 40h0m0 21h0m1-30h0m0 14h0m1 14h0m1-46h0m0 0h0m0 20h0m0 2h0m0 1h0m1 5h0m2-73h0m0 9h0m0 34h0m0 10h0m3-73h0m1 74h0m1-17h0m1-13h0m0 3h0m1-34h0m0 22h0m0 62h0m0 3h0m1-80h0m0 22h0m0 35h0m1-72h0m0 52h0m0 1h0m1-38h0m0 8h0m0 14h0m0 3h0m0 20h0m1-39h0m0 24h0m1-40h0m0 23h0m0 40h0m1-83h0m0 24h0m0 38h0m0 17h0m1-43h0m0 9h0m0 0h0m0 28h0m1-50h0m0 5h0m1-2h0m0 38h0m0 7h0m1-73h0m0 49h0m0 13h0m0 22h0m1-87h0m0 30h0m0 6h0m1 63h0m1-60h0m0 46h0m1-92h0m0 44h0m0 64h0m1-47h0m0 38h0m1-58h0m0 30h0m0 2h0m0 26h0m1-44h0m0 4h0m0 18h0m0 2h0m0 40h0m1-86h0m0 31h0m1-73h0m0 3h0m0 56h0m0 4h0m1-41h0m0 5h0m0 29h0m0 17h0m1-32h0m0 15h0m0 8h0m0 15h0m1-16h0m0 3h0m0 6h0m1-54h0m0 7h0m0 17h0m0 2h0m0 23h0m0 9h0m1-22h0m0 4h0m0 17h0m0 53h0m1-92h0m0 6h0m0 7h0m0 2h0m0 44h0m0 11h0m1-56h0m0 11h0m0 2h0m0 15h0m1-73h0m0 24h0m0 57h0m1-84h0m0 16h0m0 64h0m0 35h0m1-144h0m0 38h0m0 7h0m0 15h0m0 3h0m0 23h0m0 1h0m0 33h0m1-83h0m0 23h0m0 15h0m0 45h0m1-69h0m0 8h0m0 1h0m0 4h0m0 16h0m0 4h0m0 18h0m1-90h0m0 28h0m0 18h0m0 13h0m1-35h0m0 5h0m0 15h0m0 25h0m0 17h0m0 1h0m0 4h0m1-42h0m0 7h0m0 26h0m1-7h0m1-76h0m0 13h0m0 28h0m0 5h0m0 2h0m0 2h0m0 26h0m1-22h0m0 21h0m0 8h0m1-60h0m0 6h0m0 55h0m0 4h0m0 24h0m1-61h0m0 26h0m0 8h0m0 2h0m1-58h0m0 58h0m0 21h0m1-97h0m0 33h0m1-63h0m0 65h0m0 7h0m1-63h0m0 22h0m0 27h0m0 26h0m0 21h0m1-59h0m0 8h0m0 10h0m0 3h0m0 1h0m0 9h0m0 2h0m0 5h0m1-54h0m0 8h0m0 12h0m0 0h0m0 24h0m1-65h0m0 27h0m0 2h0m0 49h0m0 4h0m0 36h0m1-46h0m0 4h0m1-83h0m0 35h0m0 6h0m0 25h0m0 56h0m0 6h0m1-45h0m0 40h0m1-81h0m0 49h0m0 12h0m0 21h0m1-81h0m0 38h0m1-61h0m0 17h0m0 2h0m0 4h0m0 30h0m0 1h0m0 18h0m0 1h0m0 21h0m0 3h0m1-115h0m0 15h0m0 5h0m0 18h0m0 2h0m0 11h0m0 6h0m0 6h0m0 14h0m0 7h0m0 33h0m1-111h0m0 8h0m0 7h0m0 6h0m0 19h0m0 12h0m0 13h0m0 8h0m0 10h0m1-60h0m0 22h0m0 1h0m0 30h0m0 6h0m0 2h0m1-102h0m0 9h0m0 20h0m0 12h0m0 30h0m0 10h0m0 3h0m0 1h0m1-25h0m0 5h0m0 3h0m0 23h0m0 10h0m0 52h0m1-126h0m0 27h0m0 8h0m0 4h0m0 3h0m0 22h0m0 4h0m1-51h0m0 52h0m0 48h0m1-112h0m0 14h0m0 37h0m0 16h0m0 13h0m1-129h0m0 49h0m0 8h0m0 71h0m0 27h0m1-91h0m0 17h0m0 14h0m0 17h0m0 1h0m0 23h0m0 14h0m1-110h0m0 23h0m0 30h0m0 31h0m0 12h0m0 7h0m0 9h0m1-109h0m0 2h0m1-21h0m0 44h0m0 6h0m0 13h0m0 10h0m0 24h0m0 5h0m1-114h0m0 17h0m0 1h0m0 22h0m0 12h0m0 10h0m0 25h0m0 35h0m1-134h0m0 73h0m0 26h0m0 32h0m1-54h0m0 13h0m0 8h0m0 8h0m0 26h0m0 4h0m0 3h0m1-97h0m0 40h0m0 1h0m0 11h0m0 3h0m0 18h0m0 29h0m1-119h0m0 9h0m0 7h0m0 10h0m0 10h0m0 15h0m0 1h0m0 13h0m0 38h0m1-86h0m0 13h0m0 14h0m0 2h0m0 13h0m0 1h0m0 19h0m1-100h0m0 54h0m0 24h0m0 6h0m0 18h0m0 42h0m1-135h0m0 2h0m0 24h0m0 51h0m0 4h0m0 0h0m0 19h0m0 12h0m1-84h0m0 6h0m0 21h0m0 7h0m0 4h0m1-18h0m0 4h0m0 0h0m0 13h0m0 1h0m0 10h0m0 1h0m0 18h0m0 1h0m0 5h0m1-71h0m0 3h0m0 4h0m0 4h0m0 45h0m1-65h0m0 0h0m0 18h0m0 14h0m0 2h0m0 27h0m0 12h0m1-89h0m0 20h0m0 1h0m0 8h0m0 25h0m0 22h0m0 1h0m1-105h0m0 49h0m0 36h0m0 3h0m0 27h0m1-106h0m0 20h0m0 16h0m0 65h0m0 8h0m0 2h0m0 1h0m1-76h0m0 16h0m0 9h0m0 28h0m0 14h0m0 24h0m0 4h0m0 9h0m1-144h0m0 46h0m0 13h0m0 51h0m0 2h0m0 12h0m0 3h0m0 11h0m1-92h0m0 23h0m0 11h0m0 11h0m1-83h0m0 28h0m0 16h0m0 15h0m0 13h0m0 0h0m0 1h0m0 5h0m0 8h0m0 13h0m0 5h0m1-111h0m0 32h0m0 24h0m0 23h0m0 5h0m1-110h0m0 104h0m0 25h0m0 24h0m1-107h0m0 42h0m0 0h0m0 34h0m0 6h0m1-132h0m0 62h0m0 17h0m0 2h0m0 33h0m0 38h0m1-130h0m0 33h0m0 3h0m0 7h0m0 42h0m0 17h0m0 29h0m1-99h0m0 16h0m0 1h0m0 7h0m0 4h0m0 10h0m0 40h0m0 7h0m0 3h0m0 20h0m1-130h0m0 24h0m0 3h0m0 62h0m1-96h0m0 42h0m0 7h0m0 7h0m0 7h0m0 27h0m0 23h0m0 32h0m1-121h0m0 17h0m0 26h0m0 8h0m0 31h0m1-79h0m0 33h0m0 25h0m0 38h0m1-136h0m0 41h0m0 12h0m0 29h0m0 33h0m0 6h0m0 1h0m1-111h0m0 12h0m0 24h0m0 16h0m0 10h0m0 5h0m0 8h0m0 7h0m0 7h0m0 8h0m0 9h0m1-83h0m0 20h0m0 4h0m0 30h0m0 3h0m0 22h0m0 9h0m1-127h0m0 17h0m0 37h0m0 14h0m0 18h0m0 23h0m0 3h0m0 1h0m0 4h0m0 5h0m0 4h0m1-147h0m0 65h0m0 8h0m0 26h0m0 29h0m0 23h0m1-104h0m0 11h0m0 39h0m0 18h0m0 2h0m0 6h0m0 15h0m1-37h0m0 2h0m0 10h0m0 7h0m0 1h0m0 30h0m1-92h0m0 77h0m0 9h0m0 5h0m0 5h0m1-126h0m0 1h0m0 21h0m0 5h0m0 2h0m0 8h0m0 51h0m0 2h0m0 12h0m0 27h0m1-151h0m0 76h0m0 9h0m0 7h0m0 11h0m0 43h0m0 3h0m0 8h0m1-119h0m0 11h0m0 43h0m0 1h0m0 6h0m0 8h0m0 2h0m0 14h0m0 20h0m1-90h0m0 24h0m0 0h0m0 6h0m0 10h0m0 12h0m0 14h0m1-48h0m0 20h0m0 2h0m0 9h0m0 38h0m0 4h0m0 2h0m0 19h0m1-114h0m0 8h0m0 23h0m0 25h0m0 14h0m0 3h0m0 3h0m1-80h0m0 15h0m0 12h0m0 51h0m0 13h0m1-84h0m0 29h0m0 32h0m0 4h0m1-115h0m0 33h0m0 37h0m0 35h0m1-45h0m0 10h0m0 11h0m1-32h0m0 50h0m0 39h0m0 26h0m1-143h0m0 15h0m0 3h0m0 11h0m0 8h0m0 14h0m0 29h0m0 7h0m0 2h0m0 13h0m0 27h0m1-96h0m0 25h0m0 17h0m0 33h0m1-122h0m0 4h0m0 29h0m0 7h0m0 17h0m0 10h0m0 20h0m0 22h0m1-67h0m0 23h0m0 19h0m0 10h0m1-71h0m0 4h0m0 39h0m0 1h0m0 44h0m0 9h0m1-101h0m0 4h0m0 0h0m0 16h0m0 4h0m0 14h0m0 11h0m0 38h0m0 19h0m0 11h0m0 0h0m1-141h0m0 69h0m0 4h0m0 1h0m0 26h0m0 45h0m1-168h0m0 21h0m0 64h0m0 20h0m0 60h0m1-167h0m0 45h0m0 27h0m0 8h0m0 20h0m0 25h0m0 3h0m0 4h0m1-65h0m0 2h0m0 36h0m0 5h0m0 28h0m0 2h0m1-110h0m0 69h0m0 6h0m0 31h0m0 2h0m1-54h0m0 2h0m0 29h0m0 64h0m1-178h0m0 10h0m0 1h0m0 26h0m0 27h0m0 13h0m0 15h0m0 17h0m0 41h0m1-163h0m0 4h0m0 45h0m0 5h0m0 79h0m0 31h0m0 21h0m1-149h0m0 20h0m0 16h0m0 5h0m0 18h0m0 26h0m0 54h0m0 19h0m1-119h0m0 11h0m0 1h0m0 10h0m0 106h0m1-176h0m0 32h0m0 43h0m0 16h0m0 51h0m1-151h0m0 6h0m0 18h0m0 36h0m0 53h0m1-119h0m0 30h0m0 14h0m0 24h0m0 15h0m0 27h0m0 6h0m0 10h0m0 29h0m1-128h0m0 52h0m0 3h0m0 39h0m0 14h0m1-140h0m0 46h0m0 18h0m0 54h0m0 2h0m1-122h0m0 50h0m0 13h0m0 0h0m0 28h0m0 36h0m0 20h0m1-163h0m0 48h0m0 34h0m0 10h0m0 2h0m0 47h0m0 25h0m0 14h0m1-103h0m0 25h0m0 1h0m0 22h0m1-47h0m0 9h0m0 1h0m0 18h0m0 8h0m0 60h0m1-123h0m0 21h0m0 13h0m0 41h0m0 36h0m1-134h0m0 98h0m1-95h0m0 40h0m0 19h0m0 3h0m0 57h0m0 27h0m1-104h0m0 19h0m0 2h0m0 20h0m0 4h0m0 25h0m0 22h0m1-151h0m0 57h0m0 15h0m0 55h0m1-77h0m0 4h0m0 49h0m0 1h0m1-13h0m0 10h0m0 20h0m0 4h0m0 2h0m0 3h0m1-135h0m0 19h0m0 2h0m0 62h0m0 25h0m0 7h0m1-75h0m0 46h0m0 16h0m0 18h0m0 32h0m1-79h0m0 12h0m0 4h0m0 48h0m0 34h0m1-193h0m0 100h0m0 4h0m0 11h0m0 11h0m0 7h0m0 12h0m1-88h0m0 67h0m0 3h0m0 8h0m0 2h0m0 3h0m1-10h0m0 5h0m0 37h0m1-158h0m0 65h0m0 4h0m0 25h0m0 3h0m0 39h0m0 6h0m0 28h0m0 0h0m1-122h0m0 17h0m0 8h0m0 1h0m0 14h0m0 27h0m1-101h0m0 16h0m0 16h0m0 24h0m0 21h0m0 4h0m0 22h0m0 61h0m1-152h0m0 14h0m0 39h0m0 44h0m0 5h0m1-117h0m0 28h0m0 16h0m0 25h0m0 37h0m0 19h0m1-116h0m0 40h0m0 1h0m0 13h0m0 6h0m0 21h0m1-82h0m1 6h0m0 19h0m0 53h0m0 1h0m0 8h0m0 9h0m0 19h0m1-89h0m0 10h0m0 2h0m0 3h0m0 49h0m0 7h0m0 25h0m1-125h0m0 47h0m0 40h0m0 10h0m1-48h0m0 7h0m0 5h0m0 2h0m0 41h0m1-135h0m0 92h0m0 9h0m0 33h0m0 28h0m1-135h0m0 10h0m0 11h0m0 0h0m0 1h0m0 66h0m0 25h0m1-126h0m0 153h0m0 6h0m1-141h0m0 21h0m0 25h0m0 21h0m0 58h0m1-158h0m0 25h0m0 0h0m0 101h0m1-66h0m0 24h0m1-9h0m1-29h0m0 2h0m0 63h0m0 29h0m1-120h0m0 19h0m0 1h0m0 129h0m1-71h0m0 31h0m0 17h0m1-121h0m0 12h0m0 4h0m0 11h0m0 4h0m0 6h0m0 15h0m0 46h0m1-17h0m0 18h0m0 40h0m1-149h0m0 34h0m0 45h0m0 7h0m0 45h0m1-73h0m1-86h0m0 31h0m0 15h0m0 56h0m0 9h0m1 18h0m1 1h0m1-56h0m0 29h0m1-25h0m0 9h0m0 24h0m0 11h0m1-119h0m0 13h0m0 51h0m0 54h0m0 31h0m0 0h0m1-91h0m0 19h0m0 20h0m0 24h0m1-62h0m0 46h0m0 0h0m0 36h0m1-85h0m0 38h0m0 24h0m1-18h0m0 10h0m0 2h0m0 0h0m0 12h0m0 13h0m1-163h0m0 15h0m0 64h0m0 31h0m0 23h0m1-16h0m0 54h0m1-100h0m0 2h0m0 29h0m0 28h0m1-80h0m0 61h0m0 33h0m1-44h0m1 36h0m0 18h0m0 20h0m0 8h0m1-71h0m0 24h0m0 11h0m1-144h0m0 13h0m0 48h0m0 79h0m1-85h0m0 6h0m0 36h0m0 8h0m0 29h0m1-71h0m0 97h0m1-1h0m1-5h0m1-87h0m1-53h0m0 25h0m0 18h0m1 22h0m1 66h0m1-101h0m0 28h0m0 17h0m0 11h0m0 27h0m1-74h0m0 7h0m0 57h0m0 19h0m1-154h0m0 70h0m0 55h0m2 20h0m0 20h0m1-85h0m0 35h0m0 49h0m1-95h0m0 1h0m2-28h0m0 92h0m1-75h0m0 19h0m0 65h0m1-149h0m0 110h0m1-112h0m0 84h0m0 4h0m1-42h0m0 26h0m2-14h0m0 77h0m1-133h0m0 101h0m0 3h0m0 34h0m0 6h0m1-4h0m2-46h0m1-47h0m0 39h0m1-44h0m0 41h0m3-50h0m0 12h0m2-24h0m1-25h0m0 18h0m1 65h0m0 47h0m1-117h0m0 70h0m1-16h0m0 33h0m1-36h0m1 22h0m0 18h0m3-109h0m1 41h0m0 61h0m0 20h0m0 1h0m1-137h0m0 79h0m0 21h0m1 21h0m1-22h0m1-68h0m2 38h0m3 0h0m2 9h0m3 25h0m0 9h0m7-76h0m5-17h0m2 13h0m1 77h0m5-40h0m2-60h0m4 34h0m4 37h0m0 50h0m6-173h0m3 36h0m20 13h0m18-98h0"/><path stroke="#2ca02c" d="M2752 2370h0m5 44h0m2 41h0m0 5h0m11-33h0m2-1h0m4-7h0m1-32h0m0 12h0m2 3h0m0 36h0m1 11h0m0 2h0m1-48h0m0 23h0m1-66h0m1 18h0m3 54h0m1-5h0m1 32h0m1-43h0m0 20h0m1-20h0m0 11h0m1 15h0m1-25h0m1-79h0m0 15h0m0 1h0m0 64h0m0 36h0m1-64h0m0 44h0m1-44h0m2-52h0m0 28h0m0 2h0m0 7h0m0 47h0m0 30h0m2-36h0m0 42h0m3-82h0m1 16h0m0 17h0m0 11h0m1-92h0m1 85h0m0 49h0m1-56h0m1 29h0m1-111h0m1 15h0m0 18h0m0 7h0m0 10h0m0 20h0m0 69h0m1-29h0m0 4h0m1-63h0m0 15h0m1-27h0m0 101h0m2-79h0m0 40h0m1-12h0m1 32h0m1-76h0m0 3h0m0 23h0m2-60h0m0 46h0m0 19h0m1 39h0m1-35h0m0 4h0m0 30h0m1-128h0m0 20h0m0 71h0m1-107h0m0 114h0m1 27h0m1-72h0m0 37h0m0 17h0m1-72h0m1 93h0m2 25h0m1-129h0m0 22h0m0 101h0m1-128h0m0 110h0m1-89h0m0 72h0m0 21h0m1-124h0m0 4h0m0 16h0m0 117h0m1-54h0m1-1h0m0 9h0m1 15h0m2-103h0m0 107h0m0 17h0m1-137h0m0 15h0m0 7h0m0 8h0m0 28h0m0 18h0m0 15h0m2 20h0m0 5h0m1-71h0m1 31h0m1-47h0m0 87h0m1-42h0m0 3h0m0 6h0m0 65h0m1 3h0m1-41h0m0 3h0m1-84h0m0 19h0m0 18h0m0 8h0m0 22h0m1-37h0m0 35h0m1-95h0m0 79h0m0 1h0m0 17h0m1-49h0m1 60h0m1-103h0m0 5h0m0 3h0m0 77h0m1-45h0m0 32h0m1-55h0m0 17h0m0 18h0m1-73h0m0 49h0m0 108h0m1-71h0m0 15h0m0 1h0m0 58h0m1-54h0m0 61h0m1-115h0m0 12h0m0 103h0m1-80h0m1-84h0m0 20h0m0 120h0m1-132h0m0 38h0m0 68h0m0 36h0m1-61h0m0 12h0m0 15h0m2 4h0m1-139h0m0 37h0m0 54h0m0 1h0m0 23h0m0 16h0m0 17h0m1-132h0m0 62h0m0 24h0m0 12h0m0 66h0m1-116h0m0 5h0m0 85h0m0 7h0m0 11h0m1-153h0m0 97h0m0 19h0m0 8h0m0 22h0m1-55h0m0 24h0m0 31h0m0 6h0m1-61h0m0 14h0m0 48h0m1-19h0m1-114h0m0 36h0m0 32h0m1 4h0m0 36h0m1-99h0m0 50h0m0 61h0m1-131h0m0 65h0m0 4h0m0 9h0m0 11h0m0 8h0m1-88h0m0 43h0m0 61h0m0 31h0m1-31h0m1-66h0m0 18h0m0 19h0m1-82h0m1-4h0m0 86h0m0 14h0m0 35h0m0 0h0m0 27h0m1-111h0m0 44h0m0 42h0m0 24h0m0 2h0m2-21h0m1-178h0m0 39h0m0 10h0m0 44h0m0 81h0m0 17h0m1-196h0m0 44h0m0 42h0m0 11h0m0 0h0m0 49h0m2-64h0m0 14h0m0 4h0m1-76h0m1 13h0m0 8h0m0 9h0m1-26h0m0 12h0m0 23h0m0 54h0m0 23h0m0 50h0m0 10h0m1-165h0m0 48h0m0 78h0m1 11h0m0 1h0m0 9h0m0 22h0m1-27h0m1-147h0m0 133h0m1-60h0m0 77h0m0 21h0m2-187h0m0 14h0m0 54h0m0 41h0m0 8h0m0 27h0m1-102h0m0 4h0m0 98h0m1-52h0m0 10h0m0 2h0m1 4h0m0 5h0m0 8h0m0 10h0m1-50h0m0 92h0m1-7h0m1-146h0m0 63h0m0 7h0m0 10h0m1 30h0m0 59h0m1-208h0m0 109h0m1-18h0m1-56h0m0 66h0m0 22h0m0 22h0m1-81h0m0 76h0m1-23h0m0 1h0m0 13h0m1-13h0m0 25h0m0 12h0m0 54h0m1-108h0m0 70h0m1-125h0m0 24h0m0 30h0m0 61h0m0 42h0m1-208h0m1-24h0m0 121h0m0 36h0m0 64h0m0 14h0m2-127h0m0 7h0m0 44h0m0 11h0m1-32h0m0 17h0m0 3h0m0 34h0m0 29h0m1-56h0m1 51h0m1-142h0m2-56h0m0 71h0m0 83h0m0 43h0m1-144h0m0 113h0m0 19h0m1-145h0m1 88h0m0 80h0m1-62h0m1-73h0m0 93h0m1-102h0m0 60h0m0 16h0m1 38h0m1-59h0m0 15h0m0 80h0m1-185h0m0 28h0m0 29h0m0 47h0m0 18h0m1-14h0m1 6h0m0 18h0m0 15h0m0 26h0m1-46h0m1-165h0m0 131h0m1-9h0m1 12h0m0 41h0m0 28h0m1-115h0m0 10h0m0 101h0m0 24h0m1-183h0m0 84h0m1-46h0m0 72h0m1-39h0m0 67h0m1-112h0m0 92h0m0 40h0m0 26h0m1-217h0m0 77h0m0 108h0m1-121h0m0 15h0m0 84h0m1-21h0m0 3h0m0 30h0m0 14h0m1-34h0m1-59h0m0 19h0m1-49h0m0 5h0m0 37h0m0 2h0m0 17h0m2-97h0m1 24h0m0 18h0m0 113h0m1-112h0m0 16h0m0 92h0m1-148h0m0 11h0m0 60h0m0 1h0m0 97h0m1-90h0m0 1h0m0 64h0m1-115h0m0 6h0m0 8h0m1-37h0m0 105h0m0 6h0m0 12h0m0 47h0m1-188h0m0 68h0m0 12h0m0 15h0m2-46h0m0 45h0m1-41h0m0 10h0m0 103h0m1-158h0m0 40h0m0 104h0m0 36h0m1-149h0m0 22h0m0 23h0m1 100h0m0 11h0m1-183h0m0 85h0m1-87h0m0 0h0m0 123h0m0 23h0m1-131h0m0 55h0m0 16h0m0 33h0m1 16h0m0 16h0m1-32h0m0 67h0m1-187h0m0 24h0m0 38h0m0 11h0m1-71h0m0 31h0m0 54h0m0 28h0m1 53h0m0 15h0m1-213h0m0 138h0m0 1h0m1 56h0m0 3h0m1-51h0m1-36h0m0 5h0m1 5h0m0 0h0m1 94h0m1-70h0m0 14h0m0 8h0m1-1h0m1-78h0m1-59h0m0 57h0m0 36h0m0 94h0m1-206h0m1-54h0m0 70h0m0 184h0m1-202h0m0 32h0m0 91h0m0 55h0m1 6h0m0 7h0m1-172h0m0 174h0m1-184h0m0 113h0m0 76h0m0 4h0m2-157h0m0 138h0m1-128h0m1-14h0m0 40h0m1 74h0m1-137h0m0 60h0m1-57h0m0 37h0m0 11h0m0 101h0m1-75h0m1-97h0m0 63h0m1-71h0m0 197h0m1-146h0m0 72h0m1-109h0m0 199h0m2-163h0m0 138h0m1-55h0m0 45h0m0 35h0m1-236h0m0 133h0m0 12h0m0 86h0m1-229h0m1 57h0m0 117h0m1-134h0m0 107h0m0 94h0m1-192h0m1 21h0m0 124h0m2-198h0m1 239h0m1-10h0m2-49h0m0 10h0m1-13h0m0 65h0m1-143h0m0 47h0m1 1h0m1-17h0m1-117h0m1 3h0m1 169h0m3-33h0m0 52h0m1-118h0m3 2h0m0 96h0m2 23h0m1-134h0m0 105h0m2-85h0m2 76h0m3-144h0m3 49h0m0 19h0m0 129h0m1-92h0m1-62h0m0 65h0m0 52h0m1-57h0m1-55h0m1-70h0m0 49h0m0 48h0m2 10h0m3 12h0m1 44h0m1 3h0m1-15h0m1-26h0m0 73h0m2-61h0m4-48h0m1 81h0m1-105h0m1 48h0m1-97h0m2 92h0m3 94h0m7-70h0m2 16h0m1 45h0m1-76h0m2 68h0m3 8h0m3-203h0m6 171h0m4-62h0m1 40h0m6 59h0m17-161h0"/></g></g>
<line x1="502.50" y1="490.05" x2="675.50" y2="317.20" stroke="#000" stroke-width="0.95"/>
<circle cx="585.83" cy="411.98" r="3.25" fill="#7f7f7f" stroke="none" stroke-width="1.3" stroke-linejoin="miter"/><rect x="588.10" y="413.09" width="6.42" height="6.42" fill="#d62728" stroke="none" stroke-width="1.3" stroke-linejoin="miter"/><path d="M581.50 428.13L585.04 434.84L577.97 434.84Z" fill="#ff7f0e" stroke="none" stroke-width="1.3" stroke-linejoin="miter"/><path d="M581.50 423.23L586.09 427.82L581.50 432.41L576.91 427.82Z" fill="#1f77b4" stroke="none" stroke-width="1.3" stroke-linejoin="miter"/><path d="M579.00 473.82L581.70 473.82L581.70 476.03L583.90 476.03L583.90 478.72L581.70 478.72L581.70 480.92L579.00 480.92L579.00 478.72L576.80 478.72L576.80 476.03L579.00 476.03Z" fill="#2ca02c" stroke="none" stroke-width="1.3" stroke-linejoin="miter"/>
<circle cx="585.83" cy="411.98" r="3.25" fill="none" stroke="#000" stroke-width="1.3" stroke-linejoin="miter"/><rect x="588.10" y="413.09" width="6.42" height="6.42" fill="none" stroke="#000" stroke-width="1.3" stroke-linejoin="miter"/><path d="M581.50 428.13L585.04 434.84L577.97 434.84Z" fill="none" stroke="#000" stroke-width="1.3" stroke-linejoin="miter"/><path d="M581.50 423.23L586.09 427.82L581.50 432.41L576.91 427.82Z" fill="none" stroke="#000" stroke-width="1.3" stroke-linejoin="miter"/><path d="M579.00 473.82L581.70 473.82L581.70 476.03L583.90 476.03L583.90 478.72L581.70 478.72L581.70 480.92L579.00 480.92L579.00 478.72L576.80 478.72L576.80 476.03L579.00 476.03Z" fill="none" stroke="#000" stroke-width="1.3" stroke-linejoin="miter"/>
<rect x="503.40" y="318.10" width="171.20" height="171.05" fill="none" stroke="#000" stroke-opacity="0.4" stroke-width="1"/>
<rect x="502.50" y="317.20" width="173.00" height="172.85" fill="none" stroke="#333" stroke-width="1.1"/>
<text x="494.90" y="494.05" font-size="11.3" text-anchor="end">0</text>
<text x="494.90" y="465.24" font-size="11.3" text-anchor="end">100</text>
<text x="494.90" y="436.43" font-size="11.3" text-anchor="end">200</text>
<text x="494.90" y="407.62" font-size="11.3" text-anchor="end">300</text>
<text x="494.90" y="378.82" font-size="11.3" text-anchor="end">400</text>
<text x="494.90" y="350.01" font-size="11.3" text-anchor="end">500</text>
<text x="494.90" y="321.20" font-size="11.3" text-anchor="end">600</text>
<text x="502.50" y="505.85" font-size="11.3" text-anchor="middle">0</text>
<text x="560.17" y="505.85" font-size="11.3" text-anchor="middle">200</text>
<text x="617.83" y="505.85" font-size="11.3" text-anchor="middle">400</text>
<text x="675.50" y="505.85" font-size="11.3" text-anchor="middle">600</text>
<path d="M502.50 490.05h-3.6M502.50 461.24h-3.6M502.50 432.43h-3.6M502.50 403.62h-3.6M502.50 374.82h-3.6M502.50 346.01h-3.6M502.50 317.20h-3.6M502.50 490.05v3.6M560.17 490.05v3.6M617.83 490.05v3.6M675.50 490.05v3.6" stroke="#000" stroke-width="0.9"/>
<text x="589.00" y="519.85" font-size="11.45" text-anchor="middle">HEV g CO2e per km</text>
<text transform="translate(469.40 403.62) rotate(-90)" font-size="11.45" text-anchor="middle">FCEV g CO2e per km</text>
<text transform="translate(508.60 339.10) scale(1 1.1)" font-size="14.2">(f)</text>
</svg></body></html>
